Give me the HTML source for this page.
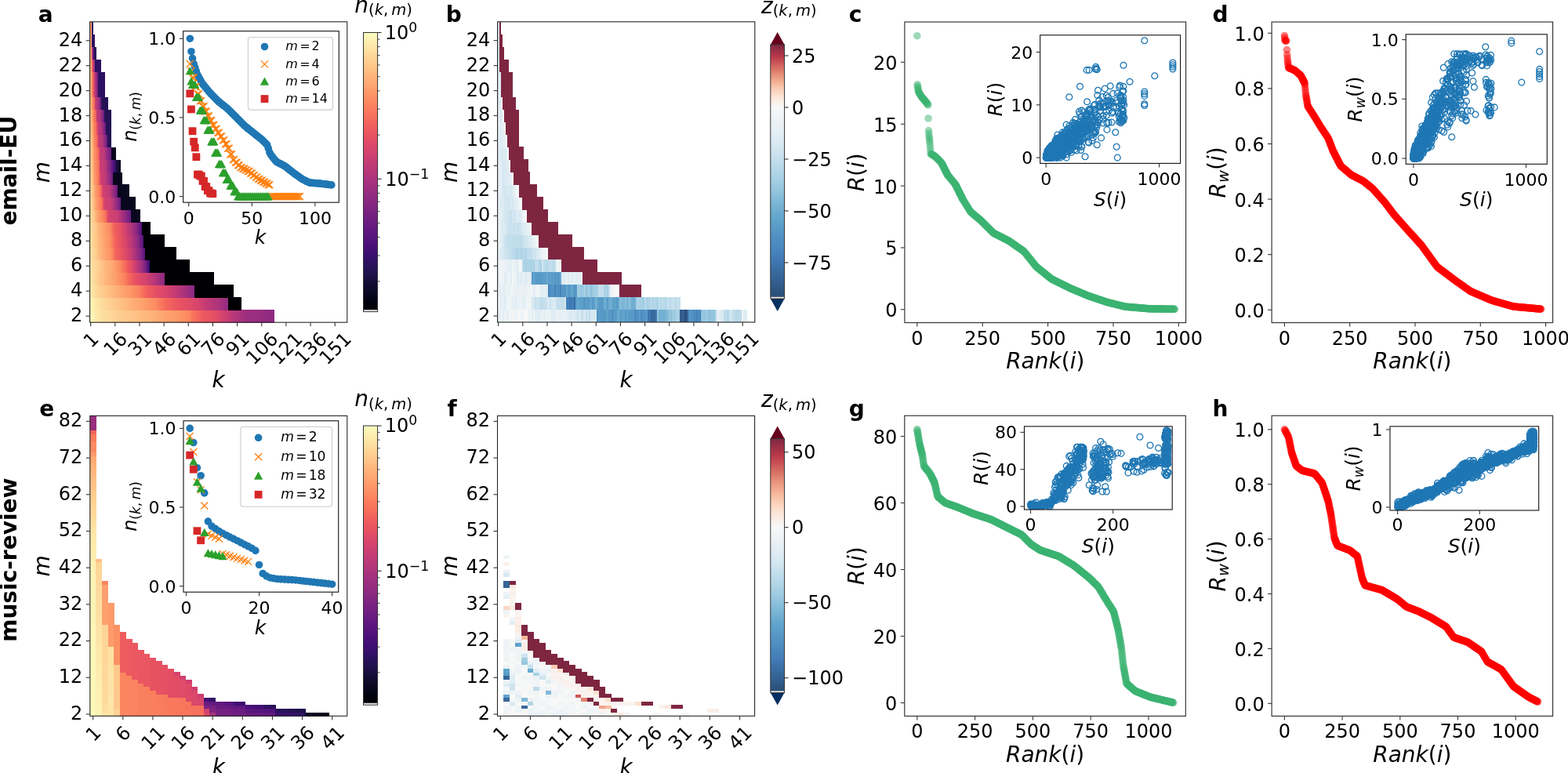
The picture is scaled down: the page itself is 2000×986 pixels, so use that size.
<!DOCTYPE html>
<html><head><meta charset="utf-8"><title>Figure</title>
<style>html,body{margin:0;padding:0;background:#fff;width:2000px;height:986px;overflow:hidden}svg{display:block}text{fill:#000}</style>
</head><body>
<svg width="2000" height="986" viewBox="0 0 2000 986" font-family="'DejaVu Sans', 'Liberation Sans', sans-serif">
<defs><linearGradient id="gma" x1="0" y1="0" x2="0" y2="1"><stop offset="0.0000" stop-color="#fcfdbf"/><stop offset="0.0208" stop-color="#fcf4b6"/><stop offset="0.0417" stop-color="#fdebac"/><stop offset="0.0625" stop-color="#fde2a3"/><stop offset="0.0833" stop-color="#fed799"/><stop offset="0.1042" stop-color="#fecd90"/><stop offset="0.1250" stop-color="#fec488"/><stop offset="0.1458" stop-color="#feb97f"/><stop offset="0.1667" stop-color="#feb078"/><stop offset="0.1875" stop-color="#fea772"/><stop offset="0.2083" stop-color="#fd9b6b"/><stop offset="0.2292" stop-color="#fd9266"/><stop offset="0.2500" stop-color="#fc8961"/><stop offset="0.2708" stop-color="#fa7d5e"/><stop offset="0.2917" stop-color="#f8745c"/><stop offset="0.3125" stop-color="#f56b5c"/><stop offset="0.3333" stop-color="#f1605d"/><stop offset="0.3542" stop-color="#ec5860"/><stop offset="0.3750" stop-color="#e75263"/><stop offset="0.3958" stop-color="#df4a68"/><stop offset="0.4167" stop-color="#d8456c"/><stop offset="0.4375" stop-color="#d0416f"/><stop offset="0.4583" stop-color="#c73d73"/><stop offset="0.4792" stop-color="#bf3a77"/><stop offset="0.5000" stop-color="#b73779"/><stop offset="0.5208" stop-color="#ad347c"/><stop offset="0.5417" stop-color="#a5317e"/><stop offset="0.5625" stop-color="#9c2e7f"/><stop offset="0.5833" stop-color="#932b80"/><stop offset="0.6042" stop-color="#8b2981"/><stop offset="0.6250" stop-color="#832681"/><stop offset="0.6458" stop-color="#792282"/><stop offset="0.6667" stop-color="#721f81"/><stop offset="0.6875" stop-color="#6a1c81"/><stop offset="0.7083" stop-color="#601880"/><stop offset="0.7292" stop-color="#59157e"/><stop offset="0.7500" stop-color="#51127c"/><stop offset="0.7708" stop-color="#471078"/><stop offset="0.7917" stop-color="#3f0f72"/><stop offset="0.8125" stop-color="#36106b"/><stop offset="0.8333" stop-color="#2c115f"/><stop offset="0.8542" stop-color="#241253"/><stop offset="0.8750" stop-color="#1d1147"/><stop offset="0.8958" stop-color="#150e38"/><stop offset="0.9167" stop-color="#100b2d"/><stop offset="0.9375" stop-color="#0a0822"/><stop offset="0.9583" stop-color="#050416"/><stop offset="0.9792" stop-color="#02020b"/><stop offset="1.0000" stop-color="#000004"/></linearGradient><linearGradient id="gb" x1="0" y1="0" x2="0" y2="1"><stop offset="0.0000" stop-color="#7e2641"/><stop offset="0.0167" stop-color="#922d44"/><stop offset="0.0333" stop-color="#a83447"/><stop offset="0.0500" stop-color="#bc3a4b"/><stop offset="0.0667" stop-color="#c84f54"/><stop offset="0.0833" stop-color="#d3655f"/><stop offset="0.1000" stop-color="#dc7868"/><stop offset="0.1167" stop-color="#e58d78"/><stop offset="0.1333" stop-color="#ed9f86"/><stop offset="0.1500" stop-color="#f6b396"/><stop offset="0.1667" stop-color="#f8c4ab"/><stop offset="0.1833" stop-color="#fbd2bd"/><stop offset="0.2000" stop-color="#fde1d1"/><stop offset="0.2167" stop-color="#fbeadf"/><stop offset="0.2333" stop-color="#faf1ec"/><stop offset="0.2500" stop-color="#f8f8f8"/><stop offset="0.2667" stop-color="#f4f6f7"/><stop offset="0.2833" stop-color="#f0f4f7"/><stop offset="0.3000" stop-color="#ecf2f6"/><stop offset="0.3167" stop-color="#eaf1f6"/><stop offset="0.3333" stop-color="#e6f0f5"/><stop offset="0.3500" stop-color="#e2eef4"/><stop offset="0.3667" stop-color="#deecf3"/><stop offset="0.3833" stop-color="#daeaf3"/><stop offset="0.4000" stop-color="#d6e8f2"/><stop offset="0.4167" stop-color="#d0e5f0"/><stop offset="0.4333" stop-color="#cbe3ef"/><stop offset="0.4500" stop-color="#c5dfed"/><stop offset="0.4667" stop-color="#bfdceb"/><stop offset="0.4833" stop-color="#b8d9e9"/><stop offset="0.5000" stop-color="#b2d6e7"/><stop offset="0.5167" stop-color="#acd3e6"/><stop offset="0.5333" stop-color="#a6cfe4"/><stop offset="0.5500" stop-color="#9ecbe2"/><stop offset="0.5667" stop-color="#99c8e0"/><stop offset="0.5833" stop-color="#91c3dd"/><stop offset="0.6000" stop-color="#89beda"/><stop offset="0.6167" stop-color="#81b9d8"/><stop offset="0.6333" stop-color="#7ab4d5"/><stop offset="0.6500" stop-color="#72afd2"/><stop offset="0.6667" stop-color="#6aaad0"/><stop offset="0.6833" stop-color="#64a7ce"/><stop offset="0.7000" stop-color="#5ea2cb"/><stop offset="0.7167" stop-color="#5b9dc9"/><stop offset="0.7333" stop-color="#5799c7"/><stop offset="0.7500" stop-color="#5494c4"/><stop offset="0.7667" stop-color="#5090c2"/><stop offset="0.7833" stop-color="#4d8bc0"/><stop offset="0.8000" stop-color="#4b88be"/><stop offset="0.8167" stop-color="#4784bc"/><stop offset="0.8333" stop-color="#447fba"/><stop offset="0.8500" stop-color="#417ab5"/><stop offset="0.8667" stop-color="#3e75ad"/><stop offset="0.8833" stop-color="#3b6fa6"/><stop offset="0.9000" stop-color="#396a9e"/><stop offset="0.9167" stop-color="#376699"/><stop offset="0.9333" stop-color="#346192"/><stop offset="0.9500" stop-color="#315c8a"/><stop offset="0.9667" stop-color="#2e5683"/><stop offset="0.9833" stop-color="#2b517b"/><stop offset="1.0000" stop-color="#2b4f79"/></linearGradient><linearGradient id="gme" x1="0" y1="0" x2="0" y2="1"><stop offset="0.0000" stop-color="#fcfdbf"/><stop offset="0.0208" stop-color="#fcf4b6"/><stop offset="0.0417" stop-color="#fdebac"/><stop offset="0.0625" stop-color="#fde2a3"/><stop offset="0.0833" stop-color="#fed799"/><stop offset="0.1042" stop-color="#fecd90"/><stop offset="0.1250" stop-color="#fec488"/><stop offset="0.1458" stop-color="#feb97f"/><stop offset="0.1667" stop-color="#feb078"/><stop offset="0.1875" stop-color="#fea772"/><stop offset="0.2083" stop-color="#fd9b6b"/><stop offset="0.2292" stop-color="#fd9266"/><stop offset="0.2500" stop-color="#fc8961"/><stop offset="0.2708" stop-color="#fa7d5e"/><stop offset="0.2917" stop-color="#f8745c"/><stop offset="0.3125" stop-color="#f56b5c"/><stop offset="0.3333" stop-color="#f1605d"/><stop offset="0.3542" stop-color="#ec5860"/><stop offset="0.3750" stop-color="#e75263"/><stop offset="0.3958" stop-color="#df4a68"/><stop offset="0.4167" stop-color="#d8456c"/><stop offset="0.4375" stop-color="#d0416f"/><stop offset="0.4583" stop-color="#c73d73"/><stop offset="0.4792" stop-color="#bf3a77"/><stop offset="0.5000" stop-color="#b73779"/><stop offset="0.5208" stop-color="#ad347c"/><stop offset="0.5417" stop-color="#a5317e"/><stop offset="0.5625" stop-color="#9c2e7f"/><stop offset="0.5833" stop-color="#932b80"/><stop offset="0.6042" stop-color="#8b2981"/><stop offset="0.6250" stop-color="#832681"/><stop offset="0.6458" stop-color="#792282"/><stop offset="0.6667" stop-color="#721f81"/><stop offset="0.6875" stop-color="#6a1c81"/><stop offset="0.7083" stop-color="#601880"/><stop offset="0.7292" stop-color="#59157e"/><stop offset="0.7500" stop-color="#51127c"/><stop offset="0.7708" stop-color="#471078"/><stop offset="0.7917" stop-color="#3f0f72"/><stop offset="0.8125" stop-color="#36106b"/><stop offset="0.8333" stop-color="#2c115f"/><stop offset="0.8542" stop-color="#241253"/><stop offset="0.8750" stop-color="#1d1147"/><stop offset="0.8958" stop-color="#150e38"/><stop offset="0.9167" stop-color="#100b2d"/><stop offset="0.9375" stop-color="#0a0822"/><stop offset="0.9583" stop-color="#050416"/><stop offset="0.9792" stop-color="#02020b"/><stop offset="1.0000" stop-color="#000004"/></linearGradient><linearGradient id="gf" x1="0" y1="0" x2="0" y2="1"><stop offset="0.0000" stop-color="#7e2641"/><stop offset="0.0167" stop-color="#8d2b43"/><stop offset="0.0333" stop-color="#9c3045"/><stop offset="0.0500" stop-color="#ab3548"/><stop offset="0.0667" stop-color="#ba394a"/><stop offset="0.0833" stop-color="#c34550"/><stop offset="0.1000" stop-color="#ca5457"/><stop offset="0.1167" stop-color="#d1625e"/><stop offset="0.1333" stop-color="#d97164"/><stop offset="0.1500" stop-color="#e0816f"/><stop offset="0.1667" stop-color="#e68f79"/><stop offset="0.1833" stop-color="#ec9d84"/><stop offset="0.2000" stop-color="#f2aa8f"/><stop offset="0.2167" stop-color="#f6b79a"/><stop offset="0.2333" stop-color="#f8c2a8"/><stop offset="0.2500" stop-color="#facdb6"/><stop offset="0.2667" stop-color="#fcd7c4"/><stop offset="0.2833" stop-color="#fde1d1"/><stop offset="0.3000" stop-color="#fce7db"/><stop offset="0.3167" stop-color="#faede6"/><stop offset="0.3333" stop-color="#f9f3ef"/><stop offset="0.3500" stop-color="#f8f8f8"/><stop offset="0.3667" stop-color="#f4f6f7"/><stop offset="0.3833" stop-color="#f0f4f7"/><stop offset="0.4000" stop-color="#ecf2f6"/><stop offset="0.4167" stop-color="#e7f0f5"/><stop offset="0.4333" stop-color="#e3eef4"/><stop offset="0.4500" stop-color="#e0ecf4"/><stop offset="0.4667" stop-color="#daeaf3"/><stop offset="0.4833" stop-color="#d6e8f2"/><stop offset="0.5000" stop-color="#d0e5f0"/><stop offset="0.5167" stop-color="#c9e1ee"/><stop offset="0.5333" stop-color="#c1ddec"/><stop offset="0.5500" stop-color="#bbdaea"/><stop offset="0.5667" stop-color="#b4d7e8"/><stop offset="0.5833" stop-color="#aed4e6"/><stop offset="0.6000" stop-color="#a6cfe4"/><stop offset="0.6167" stop-color="#9ecbe2"/><stop offset="0.6333" stop-color="#97c6df"/><stop offset="0.6500" stop-color="#8cc0db"/><stop offset="0.6667" stop-color="#84bbd9"/><stop offset="0.6833" stop-color="#7cb6d6"/><stop offset="0.7000" stop-color="#74b1d3"/><stop offset="0.7167" stop-color="#6aaad0"/><stop offset="0.7333" stop-color="#62a5cd"/><stop offset="0.7500" stop-color="#5da0ca"/><stop offset="0.7667" stop-color="#5a9cc8"/><stop offset="0.7833" stop-color="#5596c5"/><stop offset="0.8000" stop-color="#5291c3"/><stop offset="0.8167" stop-color="#4e8dc1"/><stop offset="0.8333" stop-color="#4a87bd"/><stop offset="0.8500" stop-color="#4682bb"/><stop offset="0.8667" stop-color="#437eb9"/><stop offset="0.8833" stop-color="#4078b2"/><stop offset="0.9000" stop-color="#3c71a8"/><stop offset="0.9167" stop-color="#396ca1"/><stop offset="0.9333" stop-color="#376699"/><stop offset="0.9500" stop-color="#346192"/><stop offset="0.9667" stop-color="#305a88"/><stop offset="0.9833" stop-color="#2d5480"/><stop offset="1.0000" stop-color="#2b4f79"/></linearGradient><marker id="ms3cb371" markerUnits="userSpaceOnUse" markerWidth="1" markerHeight="1" refX="0" refY="0" overflow="visible"><circle r="4.80" fill="#3cb371" fill-opacity="0.5"/></marker><marker id="mring" markerUnits="userSpaceOnUse" markerWidth="1" markerHeight="1" refX="0" refY="0" overflow="visible"><circle r="3.90" fill="none" stroke="#1f77b4" stroke-width="1.3"/></marker><marker id="msff0000" markerUnits="userSpaceOnUse" markerWidth="1" markerHeight="1" refX="0" refY="0" overflow="visible"><circle r="4.80" fill="#ff0000" fill-opacity="0.5"/></marker></defs><rect x="0" y="0" width="2000" height="986" fill="#fff"/>
<g shape-rendering="crispEdges">
<rect x="114.60" y="395.22" width="2.38" height="16.28" fill="#fcfdbf"/>
<rect x="116.68" y="395.22" width="2.38" height="16.28" fill="#fcf6b8"/>
<rect x="118.75" y="395.22" width="2.38" height="16.28" fill="#fcf0b2"/>
<rect x="120.83" y="395.22" width="2.38" height="16.28" fill="#fdebac"/>
<rect x="122.91" y="395.22" width="2.38" height="16.28" fill="#fde9aa"/>
<rect x="124.99" y="395.22" width="2.38" height="16.28" fill="#fde5a7"/>
<rect x="127.06" y="395.22" width="2.38" height="16.28" fill="#fde2a3"/>
<rect x="129.14" y="395.22" width="2.38" height="16.28" fill="#fde0a1"/>
<rect x="131.22" y="395.22" width="2.38" height="16.28" fill="#fddea0"/>
<rect x="133.29" y="395.22" width="2.38" height="16.28" fill="#fddc9e"/>
<rect x="135.37" y="395.22" width="2.38" height="16.28" fill="#fdda9c"/>
<rect x="137.45" y="395.22" width="2.38" height="16.28" fill="#fed89a"/>
<rect x="139.53" y="395.22" width="2.38" height="16.28" fill="#fed799"/>
<rect x="141.60" y="395.22" width="2.38" height="16.28" fill="#fed597"/>
<rect x="143.68" y="395.22" width="4.45" height="16.28" fill="#fed395"/>
<rect x="147.84" y="395.22" width="2.38" height="16.28" fill="#fed194"/>
<rect x="149.91" y="395.22" width="2.38" height="16.28" fill="#fecf92"/>
<rect x="151.99" y="395.22" width="4.45" height="16.28" fill="#fecd90"/>
<rect x="156.14" y="395.22" width="2.38" height="16.28" fill="#fecc8f"/>
<rect x="158.22" y="395.22" width="2.38" height="16.28" fill="#feca8d"/>
<rect x="160.30" y="395.22" width="4.45" height="16.28" fill="#fec88c"/>
<rect x="164.45" y="395.22" width="2.38" height="16.28" fill="#fec68a"/>
<rect x="166.53" y="395.22" width="4.45" height="16.28" fill="#fec488"/>
<rect x="170.68" y="395.22" width="2.38" height="16.28" fill="#fec287"/>
<rect x="172.76" y="395.22" width="4.45" height="16.28" fill="#fec185"/>
<rect x="176.92" y="395.22" width="2.38" height="16.28" fill="#febf84"/>
<rect x="178.99" y="395.22" width="2.38" height="16.28" fill="#febd82"/>
<rect x="181.07" y="395.22" width="2.38" height="16.28" fill="#febb81"/>
<rect x="183.15" y="395.22" width="4.45" height="16.28" fill="#feb97f"/>
<rect x="187.30" y="395.22" width="2.38" height="16.28" fill="#feb77e"/>
<rect x="189.38" y="395.22" width="2.38" height="16.28" fill="#feb67c"/>
<rect x="191.46" y="395.22" width="2.38" height="16.28" fill="#feb47b"/>
<rect x="193.53" y="395.22" width="2.38" height="16.28" fill="#feb27a"/>
<rect x="195.61" y="395.22" width="2.38" height="16.28" fill="#feb078"/>
<rect x="197.69" y="395.22" width="2.38" height="16.28" fill="#feae77"/>
<rect x="199.77" y="395.22" width="2.38" height="16.28" fill="#feac76"/>
<rect x="201.84" y="395.22" width="2.38" height="16.28" fill="#feaa74"/>
<rect x="203.92" y="395.22" width="2.38" height="16.28" fill="#fea973"/>
<rect x="206.00" y="395.22" width="2.38" height="16.28" fill="#fea772"/>
<rect x="208.07" y="395.22" width="2.38" height="16.28" fill="#fea571"/>
<rect x="210.15" y="395.22" width="2.38" height="16.28" fill="#fea36f"/>
<rect x="212.23" y="395.22" width="2.38" height="16.28" fill="#fea16e"/>
<rect x="214.31" y="395.22" width="4.45" height="16.28" fill="#fe9f6d"/>
<rect x="218.46" y="395.22" width="2.38" height="16.28" fill="#fe9d6c"/>
<rect x="220.54" y="395.22" width="2.38" height="16.28" fill="#fd9b6b"/>
<rect x="222.62" y="395.22" width="2.38" height="16.28" fill="#fd9a6a"/>
<rect x="224.69" y="395.22" width="2.38" height="16.28" fill="#fd9869"/>
<rect x="226.77" y="395.22" width="2.38" height="16.28" fill="#fd9668"/>
<rect x="228.85" y="395.22" width="2.38" height="16.28" fill="#fd9467"/>
<rect x="230.92" y="395.22" width="2.38" height="16.28" fill="#fd9266"/>
<rect x="233.00" y="395.22" width="2.38" height="16.28" fill="#fc9065"/>
<rect x="235.08" y="395.22" width="2.38" height="16.28" fill="#fc8e64"/>
<rect x="237.16" y="395.22" width="2.38" height="16.28" fill="#fc8a62"/>
<rect x="239.23" y="395.22" width="2.38" height="16.28" fill="#fc8961"/>
<rect x="241.31" y="395.22" width="2.38" height="16.28" fill="#fb8560"/>
<rect x="243.39" y="395.22" width="2.38" height="16.28" fill="#fa7d5e"/>
<rect x="245.46" y="395.22" width="2.38" height="16.28" fill="#f8745c"/>
<rect x="247.54" y="395.22" width="2.38" height="16.28" fill="#f66e5c"/>
<rect x="249.62" y="395.22" width="2.38" height="16.28" fill="#f4695c"/>
<rect x="251.70" y="395.22" width="2.38" height="16.28" fill="#f3655c"/>
<rect x="253.77" y="395.22" width="2.38" height="16.28" fill="#f2625d"/>
<rect x="255.85" y="395.22" width="2.38" height="16.28" fill="#ef5d5e"/>
<rect x="257.93" y="395.22" width="2.38" height="16.28" fill="#ed5a5f"/>
<rect x="260.01" y="395.22" width="2.38" height="16.28" fill="#ec5860"/>
<rect x="262.08" y="395.22" width="2.38" height="16.28" fill="#eb5760"/>
<rect x="264.16" y="395.22" width="2.38" height="16.28" fill="#ea5661"/>
<rect x="266.24" y="395.22" width="2.38" height="16.28" fill="#e95462"/>
<rect x="268.31" y="395.22" width="2.38" height="16.28" fill="#e85362"/>
<rect x="270.39" y="395.22" width="2.38" height="16.28" fill="#e55064"/>
<rect x="272.47" y="395.22" width="2.38" height="16.28" fill="#e44f64"/>
<rect x="274.55" y="395.22" width="2.38" height="16.28" fill="#e24d66"/>
<rect x="276.62" y="395.22" width="2.38" height="16.28" fill="#df4a68"/>
<rect x="278.70" y="395.22" width="2.38" height="16.28" fill="#db476a"/>
<rect x="280.78" y="395.22" width="2.38" height="16.28" fill="#d8456c"/>
<rect x="282.85" y="395.22" width="2.38" height="16.28" fill="#d5446d"/>
<rect x="284.93" y="395.22" width="2.38" height="16.28" fill="#d0416f"/>
<rect x="287.01" y="395.22" width="2.38" height="16.28" fill="#cd4071"/>
<rect x="289.09" y="395.22" width="2.38" height="16.28" fill="#ca3e72"/>
<rect x="291.16" y="395.22" width="2.38" height="16.28" fill="#c53c74"/>
<rect x="293.24" y="395.22" width="2.38" height="16.28" fill="#c23b75"/>
<rect x="295.32" y="395.22" width="2.38" height="16.28" fill="#bd3977"/>
<rect x="297.39" y="395.22" width="2.38" height="16.28" fill="#b83779"/>
<rect x="299.47" y="395.22" width="2.38" height="16.28" fill="#b3367a"/>
<rect x="301.55" y="395.22" width="2.38" height="16.28" fill="#b0357b"/>
<rect x="303.63" y="395.22" width="2.38" height="16.28" fill="#ad347c"/>
<rect x="305.70" y="395.22" width="2.38" height="16.28" fill="#aa337d"/>
<rect x="307.78" y="395.22" width="2.38" height="16.28" fill="#a5317e"/>
<rect x="309.86" y="395.22" width="2.38" height="16.28" fill="#a1307e"/>
<rect x="311.94" y="395.22" width="2.38" height="16.28" fill="#9e2f7f"/>
<rect x="314.01" y="395.22" width="6.53" height="16.28" fill="#9c2e7f"/>
<rect x="320.24" y="395.22" width="4.45" height="16.28" fill="#9b2e7f"/>
<rect x="324.40" y="395.22" width="6.53" height="16.28" fill="#992d80"/>
<rect x="330.63" y="395.22" width="2.38" height="16.28" fill="#982d80"/>
<rect x="332.71" y="395.22" width="2.38" height="16.28" fill="#962c80"/>
<rect x="334.78" y="395.22" width="4.45" height="16.28" fill="#942c80"/>
<rect x="338.94" y="395.22" width="2.38" height="16.28" fill="#932b80"/>
<rect x="341.02" y="395.22" width="2.38" height="16.28" fill="#912b81"/>
<rect x="343.09" y="395.22" width="4.45" height="16.28" fill="#902a81"/>
<rect x="347.25" y="395.22" width="2.38" height="16.28" fill="#8e2a81"/>
<rect x="114.60" y="379.25" width="2.38" height="16.27" fill="#fcf6b8"/>
<rect x="116.68" y="379.25" width="2.38" height="16.27" fill="#fcf0b2"/>
<rect x="118.75" y="379.25" width="2.38" height="16.27" fill="#fcecae"/>
<rect x="120.83" y="379.25" width="2.38" height="16.27" fill="#fde9aa"/>
<rect x="122.91" y="379.25" width="2.38" height="16.27" fill="#fde5a7"/>
<rect x="124.99" y="379.25" width="2.38" height="16.27" fill="#fde2a3"/>
<rect x="127.06" y="379.25" width="2.38" height="16.27" fill="#fddea0"/>
<rect x="129.14" y="379.25" width="2.38" height="16.27" fill="#fddc9e"/>
<rect x="131.22" y="379.25" width="2.38" height="16.27" fill="#fdda9c"/>
<rect x="133.29" y="379.25" width="2.38" height="16.27" fill="#fed799"/>
<rect x="135.37" y="379.25" width="2.38" height="16.27" fill="#fed597"/>
<rect x="137.45" y="379.25" width="2.38" height="16.27" fill="#fed194"/>
<rect x="139.53" y="379.25" width="2.38" height="16.27" fill="#fecf92"/>
<rect x="141.60" y="379.25" width="2.38" height="16.27" fill="#fecd90"/>
<rect x="143.68" y="379.25" width="2.38" height="16.27" fill="#feca8d"/>
<rect x="145.76" y="379.25" width="2.38" height="16.27" fill="#fec88c"/>
<rect x="147.84" y="379.25" width="2.38" height="16.27" fill="#fec68a"/>
<rect x="149.91" y="379.25" width="2.38" height="16.27" fill="#fec488"/>
<rect x="151.99" y="379.25" width="2.38" height="16.27" fill="#fec287"/>
<rect x="154.07" y="379.25" width="2.38" height="16.27" fill="#febf84"/>
<rect x="156.14" y="379.25" width="2.38" height="16.27" fill="#febd82"/>
<rect x="158.22" y="379.25" width="2.38" height="16.27" fill="#febb81"/>
<rect x="160.30" y="379.25" width="2.38" height="16.27" fill="#feb97f"/>
<rect x="162.38" y="379.25" width="2.38" height="16.27" fill="#feb67c"/>
<rect x="164.45" y="379.25" width="2.38" height="16.27" fill="#feb47b"/>
<rect x="166.53" y="379.25" width="2.38" height="16.27" fill="#feb27a"/>
<rect x="168.61" y="379.25" width="2.38" height="16.27" fill="#feae77"/>
<rect x="170.68" y="379.25" width="2.38" height="16.27" fill="#feac76"/>
<rect x="172.76" y="379.25" width="2.38" height="16.27" fill="#feaa74"/>
<rect x="174.84" y="379.25" width="2.38" height="16.27" fill="#fea973"/>
<rect x="176.92" y="379.25" width="2.38" height="16.27" fill="#fea772"/>
<rect x="178.99" y="379.25" width="2.38" height="16.27" fill="#fea36f"/>
<rect x="181.07" y="379.25" width="2.38" height="16.27" fill="#fea16e"/>
<rect x="183.15" y="379.25" width="2.38" height="16.27" fill="#fe9f6d"/>
<rect x="185.23" y="379.25" width="2.38" height="16.27" fill="#fd9b6b"/>
<rect x="187.30" y="379.25" width="2.38" height="16.27" fill="#fd9a6a"/>
<rect x="189.38" y="379.25" width="2.38" height="16.27" fill="#fd9668"/>
<rect x="191.46" y="379.25" width="2.38" height="16.27" fill="#fd9467"/>
<rect x="193.53" y="379.25" width="2.38" height="16.27" fill="#fc9065"/>
<rect x="195.61" y="379.25" width="2.38" height="16.27" fill="#fc8e64"/>
<rect x="197.69" y="379.25" width="2.38" height="16.27" fill="#fc8a62"/>
<rect x="199.77" y="379.25" width="2.38" height="16.27" fill="#fb8560"/>
<rect x="201.84" y="379.25" width="2.38" height="16.27" fill="#fa7f5e"/>
<rect x="203.92" y="379.25" width="2.38" height="16.27" fill="#f9795d"/>
<rect x="206.00" y="379.25" width="2.38" height="16.27" fill="#f8745c"/>
<rect x="208.07" y="379.25" width="2.38" height="16.27" fill="#f66e5c"/>
<rect x="210.15" y="379.25" width="2.38" height="16.27" fill="#f56b5c"/>
<rect x="212.23" y="379.25" width="2.38" height="16.27" fill="#f4675c"/>
<rect x="214.31" y="379.25" width="2.38" height="16.27" fill="#f2645c"/>
<rect x="216.38" y="379.25" width="2.38" height="16.27" fill="#f2625d"/>
<rect x="218.46" y="379.25" width="2.38" height="16.27" fill="#f05f5e"/>
<rect x="220.54" y="379.25" width="2.38" height="16.27" fill="#ee5b5e"/>
<rect x="222.62" y="379.25" width="2.38" height="16.27" fill="#ec5860"/>
<rect x="224.69" y="379.25" width="2.38" height="16.27" fill="#ea5661"/>
<rect x="226.77" y="379.25" width="2.38" height="16.27" fill="#e95462"/>
<rect x="228.85" y="379.25" width="2.38" height="16.27" fill="#e85362"/>
<rect x="230.92" y="379.25" width="2.38" height="16.27" fill="#e75263"/>
<rect x="233.00" y="379.25" width="2.38" height="16.27" fill="#e55064"/>
<rect x="235.08" y="379.25" width="2.38" height="16.27" fill="#e44f64"/>
<rect x="237.16" y="379.25" width="2.38" height="16.27" fill="#e34e65"/>
<rect x="239.23" y="379.25" width="2.38" height="16.27" fill="#e24d66"/>
<rect x="241.31" y="379.25" width="2.38" height="16.27" fill="#e04c67"/>
<rect x="243.39" y="379.25" width="2.38" height="16.27" fill="#df4a68"/>
<rect x="245.46" y="379.25" width="2.38" height="16.27" fill="#dc4869"/>
<rect x="247.54" y="379.25" width="2.38" height="16.27" fill="#d9466b"/>
<rect x="249.62" y="379.25" width="2.38" height="16.27" fill="#d6456c"/>
<rect x="251.70" y="379.25" width="2.38" height="16.27" fill="#d5446d"/>
<rect x="253.77" y="379.25" width="2.38" height="16.27" fill="#d2426f"/>
<rect x="255.85" y="379.25" width="2.38" height="16.27" fill="#cf4070"/>
<rect x="257.93" y="379.25" width="2.38" height="16.27" fill="#ca3e72"/>
<rect x="260.01" y="379.25" width="2.38" height="16.27" fill="#c73d73"/>
<rect x="262.08" y="379.25" width="2.38" height="16.27" fill="#c43c75"/>
<rect x="264.16" y="379.25" width="2.38" height="16.27" fill="#c03a76"/>
<rect x="266.24" y="379.25" width="2.38" height="16.27" fill="#bd3977"/>
<rect x="268.31" y="379.25" width="2.38" height="16.27" fill="#ba3878"/>
<rect x="270.39" y="379.25" width="2.38" height="16.27" fill="#b73779"/>
<rect x="272.47" y="379.25" width="2.38" height="16.27" fill="#b3367a"/>
<rect x="274.55" y="379.25" width="2.38" height="16.27" fill="#b0357b"/>
<rect x="276.62" y="379.25" width="2.38" height="16.27" fill="#ad347c"/>
<rect x="278.70" y="379.25" width="2.38" height="16.27" fill="#aa337d"/>
<rect x="280.78" y="379.25" width="2.38" height="16.27" fill="#a5317e"/>
<rect x="282.85" y="379.25" width="2.38" height="16.27" fill="#a1307e"/>
<rect x="284.93" y="379.25" width="2.38" height="16.27" fill="#9c2e7f"/>
<rect x="287.01" y="379.25" width="2.38" height="16.27" fill="#992d80"/>
<rect x="289.09" y="379.25" width="2.38" height="16.27" fill="#962c80"/>
<rect x="291.16" y="379.25" width="16.92" height="16.27" fill="#000004"/>
<rect x="114.60" y="363.27" width="2.38" height="16.28" fill="#fdebac"/>
<rect x="116.68" y="363.27" width="2.38" height="16.28" fill="#fde5a7"/>
<rect x="118.75" y="363.27" width="2.38" height="16.28" fill="#fde0a1"/>
<rect x="120.83" y="363.27" width="2.38" height="16.28" fill="#fddc9e"/>
<rect x="122.91" y="363.27" width="2.38" height="16.28" fill="#fed799"/>
<rect x="124.99" y="363.27" width="2.38" height="16.28" fill="#fed395"/>
<rect x="127.06" y="363.27" width="2.38" height="16.28" fill="#fecf92"/>
<rect x="129.14" y="363.27" width="2.38" height="16.28" fill="#fecc8f"/>
<rect x="131.22" y="363.27" width="2.38" height="16.28" fill="#feca8d"/>
<rect x="133.29" y="363.27" width="2.38" height="16.28" fill="#fec68a"/>
<rect x="135.37" y="363.27" width="2.38" height="16.28" fill="#fec287"/>
<rect x="137.45" y="363.27" width="2.38" height="16.28" fill="#febf84"/>
<rect x="139.53" y="363.27" width="2.38" height="16.28" fill="#febd82"/>
<rect x="141.60" y="363.27" width="2.38" height="16.28" fill="#feb97f"/>
<rect x="143.68" y="363.27" width="2.38" height="16.28" fill="#feb77e"/>
<rect x="145.76" y="363.27" width="2.38" height="16.28" fill="#feb47b"/>
<rect x="147.84" y="363.27" width="2.38" height="16.28" fill="#feb078"/>
<rect x="149.91" y="363.27" width="2.38" height="16.28" fill="#feae77"/>
<rect x="151.99" y="363.27" width="2.38" height="16.28" fill="#feaa74"/>
<rect x="154.07" y="363.27" width="2.38" height="16.28" fill="#fea772"/>
<rect x="156.14" y="363.27" width="2.38" height="16.28" fill="#fea36f"/>
<rect x="158.22" y="363.27" width="2.38" height="16.28" fill="#fea16e"/>
<rect x="160.30" y="363.27" width="2.38" height="16.28" fill="#fe9d6c"/>
<rect x="162.38" y="363.27" width="2.38" height="16.28" fill="#fd9b6b"/>
<rect x="164.45" y="363.27" width="2.38" height="16.28" fill="#fd9869"/>
<rect x="166.53" y="363.27" width="2.38" height="16.28" fill="#fd9467"/>
<rect x="168.61" y="363.27" width="2.38" height="16.28" fill="#fc9065"/>
<rect x="170.68" y="363.27" width="2.38" height="16.28" fill="#fc8c63"/>
<rect x="172.76" y="363.27" width="2.38" height="16.28" fill="#fc8961"/>
<rect x="174.84" y="363.27" width="2.38" height="16.28" fill="#fb8560"/>
<rect x="176.92" y="363.27" width="2.38" height="16.28" fill="#fa815f"/>
<rect x="178.99" y="363.27" width="2.38" height="16.28" fill="#f9795d"/>
<rect x="181.07" y="363.27" width="2.38" height="16.28" fill="#f7725c"/>
<rect x="183.15" y="363.27" width="2.38" height="16.28" fill="#f56b5c"/>
<rect x="185.23" y="363.27" width="2.38" height="16.28" fill="#f2645c"/>
<rect x="187.30" y="363.27" width="2.38" height="16.28" fill="#f1605d"/>
<rect x="189.38" y="363.27" width="2.38" height="16.28" fill="#ee5b5e"/>
<rect x="191.46" y="363.27" width="2.38" height="16.28" fill="#ec5860"/>
<rect x="193.53" y="363.27" width="2.38" height="16.28" fill="#e95462"/>
<rect x="195.61" y="363.27" width="2.38" height="16.28" fill="#e75263"/>
<rect x="197.69" y="363.27" width="2.38" height="16.28" fill="#e34e65"/>
<rect x="199.77" y="363.27" width="2.38" height="16.28" fill="#e24d66"/>
<rect x="201.84" y="363.27" width="2.38" height="16.28" fill="#e04c67"/>
<rect x="203.92" y="363.27" width="2.38" height="16.28" fill="#df4a68"/>
<rect x="206.00" y="363.27" width="2.38" height="16.28" fill="#dc4869"/>
<rect x="208.07" y="363.27" width="2.38" height="16.28" fill="#db476a"/>
<rect x="210.15" y="363.27" width="2.38" height="16.28" fill="#d8456c"/>
<rect x="212.23" y="363.27" width="2.38" height="16.28" fill="#d6456c"/>
<rect x="214.31" y="363.27" width="2.38" height="16.28" fill="#d2426f"/>
<rect x="216.38" y="363.27" width="2.38" height="16.28" fill="#cf4070"/>
<rect x="218.46" y="363.27" width="2.38" height="16.28" fill="#ca3e72"/>
<rect x="220.54" y="363.27" width="2.38" height="16.28" fill="#c73d73"/>
<rect x="222.62" y="363.27" width="2.38" height="16.28" fill="#c23b75"/>
<rect x="224.69" y="363.27" width="2.38" height="16.28" fill="#bd3977"/>
<rect x="226.77" y="363.27" width="2.38" height="16.28" fill="#b83779"/>
<rect x="228.85" y="363.27" width="2.38" height="16.28" fill="#b5367a"/>
<rect x="230.92" y="363.27" width="2.38" height="16.28" fill="#b0357b"/>
<rect x="233.00" y="363.27" width="2.38" height="16.28" fill="#ab337c"/>
<rect x="235.08" y="363.27" width="2.38" height="16.28" fill="#a8327d"/>
<rect x="237.16" y="363.27" width="2.38" height="16.28" fill="#a3307e"/>
<rect x="239.23" y="363.27" width="2.38" height="16.28" fill="#9e2f7f"/>
<rect x="241.31" y="363.27" width="2.38" height="16.28" fill="#992d80"/>
<rect x="243.39" y="363.27" width="2.38" height="16.28" fill="#932b80"/>
<rect x="245.46" y="363.27" width="2.38" height="16.28" fill="#8e2a81"/>
<rect x="247.54" y="363.27" width="50.15" height="16.28" fill="#000004"/>
<rect x="114.60" y="347.30" width="2.38" height="16.27" fill="#fde9aa"/>
<rect x="116.68" y="347.30" width="2.38" height="16.27" fill="#fde0a1"/>
<rect x="118.75" y="347.30" width="2.38" height="16.27" fill="#fdda9c"/>
<rect x="120.83" y="347.30" width="2.38" height="16.27" fill="#fed597"/>
<rect x="122.91" y="347.30" width="2.38" height="16.27" fill="#fecf92"/>
<rect x="124.99" y="347.30" width="2.38" height="16.27" fill="#feca8d"/>
<rect x="127.06" y="347.30" width="2.38" height="16.27" fill="#fec488"/>
<rect x="129.14" y="347.30" width="2.38" height="16.27" fill="#fec185"/>
<rect x="131.22" y="347.30" width="2.38" height="16.27" fill="#febd82"/>
<rect x="133.29" y="347.30" width="2.38" height="16.27" fill="#feb97f"/>
<rect x="135.37" y="347.30" width="2.38" height="16.27" fill="#feb47b"/>
<rect x="137.45" y="347.30" width="2.38" height="16.27" fill="#feb078"/>
<rect x="139.53" y="347.30" width="2.38" height="16.27" fill="#feac76"/>
<rect x="141.60" y="347.30" width="2.38" height="16.27" fill="#fea772"/>
<rect x="143.68" y="347.30" width="2.38" height="16.27" fill="#fea36f"/>
<rect x="145.76" y="347.30" width="2.38" height="16.27" fill="#fe9f6d"/>
<rect x="147.84" y="347.30" width="2.38" height="16.27" fill="#fd9a6a"/>
<rect x="149.91" y="347.30" width="2.38" height="16.27" fill="#fd9668"/>
<rect x="151.99" y="347.30" width="2.38" height="16.27" fill="#fc9065"/>
<rect x="154.07" y="347.30" width="2.38" height="16.27" fill="#fc8c63"/>
<rect x="156.14" y="347.30" width="2.38" height="16.27" fill="#fb8761"/>
<rect x="158.22" y="347.30" width="2.38" height="16.27" fill="#fa815f"/>
<rect x="160.30" y="347.30" width="2.38" height="16.27" fill="#f9795d"/>
<rect x="162.38" y="347.30" width="2.38" height="16.27" fill="#f7705c"/>
<rect x="164.45" y="347.30" width="2.38" height="16.27" fill="#f3655c"/>
<rect x="166.53" y="347.30" width="2.38" height="16.27" fill="#f05f5e"/>
<rect x="168.61" y="347.30" width="2.38" height="16.27" fill="#ed5a5f"/>
<rect x="170.68" y="347.30" width="2.38" height="16.27" fill="#e95462"/>
<rect x="172.76" y="347.30" width="2.38" height="16.27" fill="#e55064"/>
<rect x="174.84" y="347.30" width="2.38" height="16.27" fill="#e24d66"/>
<rect x="176.92" y="347.30" width="2.38" height="16.27" fill="#df4a68"/>
<rect x="178.99" y="347.30" width="2.38" height="16.27" fill="#dc4869"/>
<rect x="181.07" y="347.30" width="2.38" height="16.27" fill="#d9466b"/>
<rect x="183.15" y="347.30" width="2.38" height="16.27" fill="#d6456c"/>
<rect x="185.23" y="347.30" width="2.38" height="16.27" fill="#d3436e"/>
<rect x="187.30" y="347.30" width="2.38" height="16.27" fill="#cd4071"/>
<rect x="189.38" y="347.30" width="2.38" height="16.27" fill="#c83e73"/>
<rect x="191.46" y="347.30" width="2.38" height="16.27" fill="#c23b75"/>
<rect x="193.53" y="347.30" width="2.38" height="16.27" fill="#bc3978"/>
<rect x="195.61" y="347.30" width="2.38" height="16.27" fill="#b5367a"/>
<rect x="197.69" y="347.30" width="2.38" height="16.27" fill="#b0357b"/>
<rect x="199.77" y="347.30" width="2.38" height="16.27" fill="#aa337d"/>
<rect x="201.84" y="347.30" width="2.38" height="16.27" fill="#a3307e"/>
<rect x="203.92" y="347.30" width="2.38" height="16.27" fill="#9c2e7f"/>
<rect x="206.00" y="347.30" width="2.38" height="16.27" fill="#942c80"/>
<rect x="208.07" y="347.30" width="2.38" height="16.27" fill="#8e2a81"/>
<rect x="210.15" y="347.30" width="62.62" height="16.27" fill="#000004"/>
<rect x="114.60" y="331.32" width="2.38" height="16.28" fill="#fde5a7"/>
<rect x="116.68" y="331.32" width="2.38" height="16.28" fill="#fddc9e"/>
<rect x="118.75" y="331.32" width="2.38" height="16.28" fill="#fed89a"/>
<rect x="120.83" y="331.32" width="2.38" height="16.28" fill="#fed799"/>
<rect x="122.91" y="331.32" width="2.38" height="16.28" fill="#fed194"/>
<rect x="124.99" y="331.32" width="2.38" height="16.28" fill="#fecd90"/>
<rect x="127.06" y="331.32" width="2.38" height="16.28" fill="#fec88c"/>
<rect x="129.14" y="331.32" width="2.38" height="16.28" fill="#fec287"/>
<rect x="131.22" y="331.32" width="2.38" height="16.28" fill="#febf84"/>
<rect x="133.29" y="331.32" width="2.38" height="16.28" fill="#feb97f"/>
<rect x="135.37" y="331.32" width="2.38" height="16.28" fill="#feb67c"/>
<rect x="137.45" y="331.32" width="2.38" height="16.28" fill="#feb27a"/>
<rect x="139.53" y="331.32" width="2.38" height="16.28" fill="#feac76"/>
<rect x="141.60" y="331.32" width="2.38" height="16.28" fill="#fea973"/>
<rect x="143.68" y="331.32" width="2.38" height="16.28" fill="#fea36f"/>
<rect x="145.76" y="331.32" width="2.38" height="16.28" fill="#fe9d6c"/>
<rect x="147.84" y="331.32" width="2.38" height="16.28" fill="#fd9668"/>
<rect x="149.91" y="331.32" width="2.38" height="16.28" fill="#fc9065"/>
<rect x="151.99" y="331.32" width="2.38" height="16.28" fill="#fc8961"/>
<rect x="154.07" y="331.32" width="2.38" height="16.28" fill="#fa815f"/>
<rect x="156.14" y="331.32" width="2.38" height="16.28" fill="#f9785d"/>
<rect x="158.22" y="331.32" width="2.38" height="16.28" fill="#f66e5c"/>
<rect x="160.30" y="331.32" width="2.38" height="16.28" fill="#f3655c"/>
<rect x="162.38" y="331.32" width="2.38" height="16.28" fill="#ed5a5f"/>
<rect x="164.45" y="331.32" width="2.38" height="16.28" fill="#e85362"/>
<rect x="166.53" y="331.32" width="2.38" height="16.28" fill="#e24d66"/>
<rect x="168.61" y="331.32" width="2.38" height="16.28" fill="#d9466b"/>
<rect x="170.68" y="331.32" width="2.38" height="16.28" fill="#cf4070"/>
<rect x="172.76" y="331.32" width="2.38" height="16.28" fill="#c43c75"/>
<rect x="174.84" y="331.32" width="2.38" height="16.28" fill="#ba3878"/>
<rect x="176.92" y="331.32" width="2.38" height="16.28" fill="#ae347b"/>
<rect x="178.99" y="331.32" width="2.38" height="16.28" fill="#a3307e"/>
<rect x="181.07" y="331.32" width="2.38" height="16.28" fill="#942c80"/>
<rect x="183.15" y="331.32" width="2.38" height="16.28" fill="#842681"/>
<rect x="185.23" y="331.32" width="2.38" height="16.28" fill="#732081"/>
<rect x="187.30" y="331.32" width="2.38" height="16.28" fill="#5c167f"/>
<rect x="189.38" y="331.32" width="2.38" height="16.28" fill="#3d0f71"/>
<rect x="191.46" y="331.32" width="50.15" height="16.28" fill="#000004"/>
<rect x="114.60" y="315.35" width="2.38" height="16.27" fill="#fde2a3"/>
<rect x="116.68" y="315.35" width="2.38" height="16.27" fill="#fdda9c"/>
<rect x="118.75" y="315.35" width="2.38" height="16.27" fill="#fed597"/>
<rect x="120.83" y="315.35" width="2.38" height="16.27" fill="#fecd90"/>
<rect x="122.91" y="315.35" width="2.38" height="16.27" fill="#fec68a"/>
<rect x="124.99" y="315.35" width="2.38" height="16.27" fill="#febd82"/>
<rect x="127.06" y="315.35" width="2.38" height="16.27" fill="#feb67c"/>
<rect x="129.14" y="315.35" width="2.38" height="16.27" fill="#feb078"/>
<rect x="131.22" y="315.35" width="2.38" height="16.27" fill="#fea973"/>
<rect x="133.29" y="315.35" width="2.38" height="16.27" fill="#fea571"/>
<rect x="135.37" y="315.35" width="2.38" height="16.27" fill="#fe9f6d"/>
<rect x="137.45" y="315.35" width="2.38" height="16.27" fill="#fd9a6a"/>
<rect x="139.53" y="315.35" width="2.38" height="16.27" fill="#fd9266"/>
<rect x="141.60" y="315.35" width="2.38" height="16.27" fill="#fc8961"/>
<rect x="143.68" y="315.35" width="2.38" height="16.27" fill="#f9795d"/>
<rect x="145.76" y="315.35" width="2.38" height="16.27" fill="#f4675c"/>
<rect x="147.84" y="315.35" width="2.38" height="16.27" fill="#f2625d"/>
<rect x="149.91" y="315.35" width="2.38" height="16.27" fill="#ef5d5e"/>
<rect x="151.99" y="315.35" width="2.38" height="16.27" fill="#ed5a5f"/>
<rect x="154.07" y="315.35" width="2.38" height="16.27" fill="#e95462"/>
<rect x="156.14" y="315.35" width="2.38" height="16.27" fill="#e55064"/>
<rect x="158.22" y="315.35" width="2.38" height="16.27" fill="#e04c67"/>
<rect x="160.30" y="315.35" width="2.38" height="16.27" fill="#dc4869"/>
<rect x="162.38" y="315.35" width="2.38" height="16.27" fill="#d5446d"/>
<rect x="164.45" y="315.35" width="2.38" height="16.27" fill="#cc3f71"/>
<rect x="166.53" y="315.35" width="2.38" height="16.27" fill="#c23b75"/>
<rect x="168.61" y="315.35" width="2.38" height="16.27" fill="#b83779"/>
<rect x="170.68" y="315.35" width="2.38" height="16.27" fill="#ae347b"/>
<rect x="172.76" y="315.35" width="2.38" height="16.27" fill="#a3307e"/>
<rect x="174.84" y="315.35" width="2.38" height="16.27" fill="#982d80"/>
<rect x="176.92" y="315.35" width="2.38" height="16.27" fill="#8c2981"/>
<rect x="178.99" y="315.35" width="2.38" height="16.27" fill="#7e2482"/>
<rect x="181.07" y="315.35" width="2.38" height="16.27" fill="#6d1d81"/>
<rect x="183.15" y="315.35" width="2.38" height="16.27" fill="#59157e"/>
<rect x="185.23" y="315.35" width="39.77" height="16.27" fill="#000004"/>
<rect x="114.60" y="299.38" width="2.38" height="16.28" fill="#fde0a1"/>
<rect x="116.68" y="299.38" width="2.38" height="16.28" fill="#fed799"/>
<rect x="118.75" y="299.38" width="2.38" height="16.28" fill="#fed194"/>
<rect x="120.83" y="299.38" width="2.38" height="16.28" fill="#feca8d"/>
<rect x="122.91" y="299.38" width="2.38" height="16.28" fill="#fec287"/>
<rect x="124.99" y="299.38" width="2.38" height="16.28" fill="#feb97f"/>
<rect x="127.06" y="299.38" width="2.38" height="16.28" fill="#feb27a"/>
<rect x="129.14" y="299.38" width="2.38" height="16.28" fill="#feac76"/>
<rect x="131.22" y="299.38" width="2.38" height="16.28" fill="#fea571"/>
<rect x="133.29" y="299.38" width="2.38" height="16.28" fill="#fea16e"/>
<rect x="135.37" y="299.38" width="2.38" height="16.28" fill="#fd9b6b"/>
<rect x="137.45" y="299.38" width="2.38" height="16.28" fill="#fd9467"/>
<rect x="139.53" y="299.38" width="2.38" height="16.28" fill="#fc8c63"/>
<rect x="141.60" y="299.38" width="2.38" height="16.28" fill="#fa7f5e"/>
<rect x="143.68" y="299.38" width="2.38" height="16.28" fill="#f7705c"/>
<rect x="145.76" y="299.38" width="2.38" height="16.28" fill="#f2625d"/>
<rect x="147.84" y="299.38" width="2.38" height="16.28" fill="#ef5d5e"/>
<rect x="149.91" y="299.38" width="2.38" height="16.28" fill="#ec5860"/>
<rect x="151.99" y="299.38" width="2.38" height="16.28" fill="#e95462"/>
<rect x="154.07" y="299.38" width="2.38" height="16.28" fill="#e55064"/>
<rect x="156.14" y="299.38" width="2.38" height="16.28" fill="#e04c67"/>
<rect x="158.22" y="299.38" width="2.38" height="16.28" fill="#dc4869"/>
<rect x="160.30" y="299.38" width="2.38" height="16.28" fill="#d5446d"/>
<rect x="162.38" y="299.38" width="2.38" height="16.28" fill="#cc3f71"/>
<rect x="164.45" y="299.38" width="2.38" height="16.28" fill="#c23b75"/>
<rect x="166.53" y="299.38" width="2.38" height="16.28" fill="#b83779"/>
<rect x="168.61" y="299.38" width="2.38" height="16.28" fill="#ae347b"/>
<rect x="170.68" y="299.38" width="2.38" height="16.28" fill="#a3307e"/>
<rect x="172.76" y="299.38" width="2.38" height="16.28" fill="#982d80"/>
<rect x="174.84" y="299.38" width="2.38" height="16.28" fill="#8b2981"/>
<rect x="176.92" y="299.38" width="2.38" height="16.28" fill="#7c2382"/>
<rect x="178.99" y="299.38" width="2.38" height="16.28" fill="#6b1d81"/>
<rect x="181.07" y="299.38" width="2.38" height="16.28" fill="#57157e"/>
<rect x="183.15" y="299.38" width="27.30" height="16.28" fill="#000004"/>
<rect x="114.60" y="283.40" width="2.38" height="16.28" fill="#fddea0"/>
<rect x="116.68" y="283.40" width="2.38" height="16.28" fill="#fed597"/>
<rect x="118.75" y="283.40" width="2.38" height="16.28" fill="#fecf92"/>
<rect x="120.83" y="283.40" width="2.38" height="16.28" fill="#fec88c"/>
<rect x="122.91" y="283.40" width="2.38" height="16.28" fill="#febf84"/>
<rect x="124.99" y="283.40" width="2.38" height="16.28" fill="#feb67c"/>
<rect x="127.06" y="283.40" width="2.38" height="16.28" fill="#feb078"/>
<rect x="129.14" y="283.40" width="2.38" height="16.28" fill="#fea973"/>
<rect x="131.22" y="283.40" width="2.38" height="16.28" fill="#fea36f"/>
<rect x="133.29" y="283.40" width="2.38" height="16.28" fill="#fe9d6c"/>
<rect x="135.37" y="283.40" width="2.38" height="16.28" fill="#fd9869"/>
<rect x="137.45" y="283.40" width="2.38" height="16.28" fill="#fc9065"/>
<rect x="139.53" y="283.40" width="2.38" height="16.28" fill="#fb8761"/>
<rect x="141.60" y="283.40" width="2.38" height="16.28" fill="#f9785d"/>
<rect x="143.68" y="283.40" width="2.38" height="16.28" fill="#f3655c"/>
<rect x="145.76" y="283.40" width="2.38" height="16.28" fill="#f05f5e"/>
<rect x="147.84" y="283.40" width="2.38" height="16.28" fill="#ed5a5f"/>
<rect x="149.91" y="283.40" width="2.38" height="16.28" fill="#ea5661"/>
<rect x="151.99" y="283.40" width="2.38" height="16.28" fill="#e75263"/>
<rect x="154.07" y="283.40" width="2.38" height="16.28" fill="#e24d66"/>
<rect x="156.14" y="283.40" width="2.38" height="16.28" fill="#dc4869"/>
<rect x="158.22" y="283.40" width="2.38" height="16.28" fill="#d6456c"/>
<rect x="160.30" y="283.40" width="2.38" height="16.28" fill="#cd4071"/>
<rect x="162.38" y="283.40" width="2.38" height="16.28" fill="#c43c75"/>
<rect x="164.45" y="283.40" width="2.38" height="16.28" fill="#ba3878"/>
<rect x="166.53" y="283.40" width="2.38" height="16.28" fill="#ae347b"/>
<rect x="168.61" y="283.40" width="2.38" height="16.28" fill="#a3307e"/>
<rect x="170.68" y="283.40" width="2.38" height="16.28" fill="#982d80"/>
<rect x="172.76" y="283.40" width="2.38" height="16.28" fill="#8b2981"/>
<rect x="174.84" y="283.40" width="2.38" height="16.28" fill="#7c2382"/>
<rect x="176.92" y="283.40" width="2.38" height="16.28" fill="#6b1d81"/>
<rect x="178.99" y="283.40" width="2.38" height="16.28" fill="#56147d"/>
<rect x="181.07" y="283.40" width="10.69" height="16.28" fill="#000004"/>
<rect x="114.60" y="267.42" width="2.38" height="16.28" fill="#fdda9c"/>
<rect x="116.68" y="267.42" width="2.38" height="16.28" fill="#fed194"/>
<rect x="118.75" y="267.42" width="2.38" height="16.28" fill="#fec68a"/>
<rect x="120.83" y="267.42" width="2.38" height="16.28" fill="#feb77e"/>
<rect x="122.91" y="267.42" width="2.38" height="16.28" fill="#fea772"/>
<rect x="124.99" y="267.42" width="2.38" height="16.28" fill="#fe9d6c"/>
<rect x="127.06" y="267.42" width="2.38" height="16.28" fill="#fd9467"/>
<rect x="129.14" y="267.42" width="2.38" height="16.28" fill="#fc8c63"/>
<rect x="131.22" y="267.42" width="2.38" height="16.28" fill="#fb835f"/>
<rect x="133.29" y="267.42" width="2.38" height="16.28" fill="#f8765c"/>
<rect x="135.37" y="267.42" width="2.38" height="16.28" fill="#f05f5e"/>
<rect x="137.45" y="267.42" width="2.38" height="16.28" fill="#d8456c"/>
<rect x="139.53" y="267.42" width="2.38" height="16.28" fill="#d2426f"/>
<rect x="141.60" y="267.42" width="2.38" height="16.28" fill="#d0416f"/>
<rect x="143.68" y="267.42" width="2.38" height="16.28" fill="#cf4070"/>
<rect x="145.76" y="267.42" width="2.38" height="16.28" fill="#cd4071"/>
<rect x="147.84" y="267.42" width="2.38" height="16.28" fill="#cc3f71"/>
<rect x="149.91" y="267.42" width="2.38" height="16.28" fill="#c23b75"/>
<rect x="151.99" y="267.42" width="2.38" height="16.28" fill="#b83779"/>
<rect x="154.07" y="267.42" width="2.38" height="16.28" fill="#ad347c"/>
<rect x="156.14" y="267.42" width="2.38" height="16.28" fill="#a1307e"/>
<rect x="158.22" y="267.42" width="2.38" height="16.28" fill="#962c80"/>
<rect x="160.30" y="267.42" width="2.38" height="16.28" fill="#8b2981"/>
<rect x="162.38" y="267.42" width="2.38" height="16.28" fill="#7e2482"/>
<rect x="164.45" y="267.42" width="2.38" height="16.28" fill="#6e1e81"/>
<rect x="166.53" y="267.42" width="12.76" height="16.28" fill="#08071e"/>
<rect x="114.60" y="251.45" width="2.38" height="16.27" fill="#fed89a"/>
<rect x="116.68" y="251.45" width="2.38" height="16.27" fill="#fecc8f"/>
<rect x="118.75" y="251.45" width="2.38" height="16.27" fill="#feb97f"/>
<rect x="120.83" y="251.45" width="2.38" height="16.27" fill="#fea571"/>
<rect x="122.91" y="251.45" width="2.38" height="16.27" fill="#fd9869"/>
<rect x="124.99" y="251.45" width="2.38" height="16.27" fill="#fc8c63"/>
<rect x="127.06" y="251.45" width="2.38" height="16.27" fill="#fa815f"/>
<rect x="129.14" y="251.45" width="2.38" height="16.27" fill="#f7705c"/>
<rect x="131.22" y="251.45" width="2.38" height="16.27" fill="#e44f64"/>
<rect x="133.29" y="251.45" width="2.38" height="16.27" fill="#d0416f"/>
<rect x="135.37" y="251.45" width="2.38" height="16.27" fill="#cf4070"/>
<rect x="137.45" y="251.45" width="2.38" height="16.27" fill="#cc3f71"/>
<rect x="139.53" y="251.45" width="2.38" height="16.27" fill="#c83e73"/>
<rect x="141.60" y="251.45" width="2.38" height="16.27" fill="#bf3a77"/>
<rect x="143.68" y="251.45" width="2.38" height="16.27" fill="#b2357b"/>
<rect x="145.76" y="251.45" width="2.38" height="16.27" fill="#a1307e"/>
<rect x="147.84" y="251.45" width="2.38" height="16.27" fill="#932b80"/>
<rect x="149.91" y="251.45" width="2.38" height="16.27" fill="#832681"/>
<rect x="151.99" y="251.45" width="2.38" height="16.27" fill="#721f81"/>
<rect x="154.07" y="251.45" width="18.99" height="16.27" fill="#08071e"/>
<rect x="114.60" y="235.47" width="2.38" height="16.27" fill="#fed597"/>
<rect x="116.68" y="235.47" width="2.38" height="16.27" fill="#fec68a"/>
<rect x="118.75" y="235.47" width="2.38" height="16.27" fill="#feb27a"/>
<rect x="120.83" y="235.47" width="2.38" height="16.27" fill="#fe9d6c"/>
<rect x="122.91" y="235.47" width="2.38" height="16.27" fill="#fc8e64"/>
<rect x="124.99" y="235.47" width="2.38" height="16.27" fill="#fb8560"/>
<rect x="127.06" y="235.47" width="2.38" height="16.27" fill="#f7725c"/>
<rect x="129.14" y="235.47" width="2.38" height="16.27" fill="#e75263"/>
<rect x="131.22" y="235.47" width="2.38" height="16.27" fill="#cd4071"/>
<rect x="133.29" y="235.47" width="2.38" height="16.27" fill="#cc3f71"/>
<rect x="135.37" y="235.47" width="2.38" height="16.27" fill="#c83e73"/>
<rect x="137.45" y="235.47" width="2.38" height="16.27" fill="#c53c74"/>
<rect x="139.53" y="235.47" width="2.38" height="16.27" fill="#b73779"/>
<rect x="141.60" y="235.47" width="2.38" height="16.27" fill="#a6317d"/>
<rect x="143.68" y="235.47" width="2.38" height="16.27" fill="#962c80"/>
<rect x="145.76" y="235.47" width="2.38" height="16.27" fill="#842681"/>
<rect x="147.84" y="235.47" width="2.38" height="16.27" fill="#701f81"/>
<rect x="149.91" y="235.47" width="14.84" height="16.27" fill="#08071e"/>
<rect x="114.60" y="219.50" width="2.38" height="16.27" fill="#fed194"/>
<rect x="116.68" y="219.50" width="2.38" height="16.27" fill="#fec185"/>
<rect x="118.75" y="219.50" width="2.38" height="16.27" fill="#fea36f"/>
<rect x="120.83" y="219.50" width="2.38" height="16.27" fill="#fc9065"/>
<rect x="122.91" y="219.50" width="2.38" height="16.27" fill="#fb835f"/>
<rect x="124.99" y="219.50" width="2.38" height="16.27" fill="#f66e5c"/>
<rect x="127.06" y="219.50" width="2.38" height="16.27" fill="#d9466b"/>
<rect x="129.14" y="219.50" width="2.38" height="16.27" fill="#ca3e72"/>
<rect x="131.22" y="219.50" width="2.38" height="16.27" fill="#c73d73"/>
<rect x="133.29" y="219.50" width="2.38" height="16.27" fill="#c23b75"/>
<rect x="135.37" y="219.50" width="2.38" height="16.27" fill="#b2357b"/>
<rect x="137.45" y="219.50" width="2.38" height="16.27" fill="#9e2f7f"/>
<rect x="139.53" y="219.50" width="2.38" height="16.27" fill="#892881"/>
<rect x="141.60" y="219.50" width="2.38" height="16.27" fill="#732081"/>
<rect x="143.68" y="219.50" width="12.76" height="16.27" fill="#08071e"/>
<rect x="114.60" y="203.53" width="2.38" height="16.27" fill="#fed194"/>
<rect x="116.68" y="203.53" width="2.38" height="16.27" fill="#febf84"/>
<rect x="118.75" y="203.53" width="2.38" height="16.27" fill="#fe9f6d"/>
<rect x="120.83" y="203.53" width="2.38" height="16.27" fill="#fc8c63"/>
<rect x="122.91" y="203.53" width="2.38" height="16.27" fill="#fa7f5e"/>
<rect x="124.99" y="203.53" width="2.38" height="16.27" fill="#f4695c"/>
<rect x="127.06" y="203.53" width="2.38" height="16.27" fill="#ca3e72"/>
<rect x="129.14" y="203.53" width="2.38" height="16.27" fill="#c83e73"/>
<rect x="131.22" y="203.53" width="2.38" height="16.27" fill="#c43c75"/>
<rect x="133.29" y="203.53" width="2.38" height="16.27" fill="#bd3977"/>
<rect x="135.37" y="203.53" width="2.38" height="16.27" fill="#aa337d"/>
<rect x="137.45" y="203.53" width="2.38" height="16.27" fill="#942c80"/>
<rect x="139.53" y="203.53" width="2.38" height="16.27" fill="#7e2482"/>
<rect x="141.60" y="203.53" width="2.38" height="16.27" fill="#651a80"/>
<rect x="143.68" y="203.53" width="2.38" height="16.27" fill="#4f127b"/>
<rect x="145.76" y="203.53" width="2.38" height="16.27" fill="#311165"/>
<rect x="147.84" y="203.53" width="2.38" height="16.27" fill="#180f3d"/>
<rect x="149.91" y="203.53" width="2.38" height="16.27" fill="#120d31"/>
<rect x="151.99" y="203.53" width="2.38" height="16.27" fill="#0c0926"/>
<rect x="114.60" y="187.55" width="2.38" height="16.28" fill="#fecc8f"/>
<rect x="116.68" y="187.55" width="2.38" height="16.28" fill="#feb77e"/>
<rect x="118.75" y="187.55" width="2.38" height="16.28" fill="#fd9869"/>
<rect x="120.83" y="187.55" width="2.38" height="16.28" fill="#fb8560"/>
<rect x="122.91" y="187.55" width="2.38" height="16.28" fill="#f8765c"/>
<rect x="124.99" y="187.55" width="2.38" height="16.28" fill="#ed5a5f"/>
<rect x="127.06" y="187.55" width="2.38" height="16.28" fill="#c53c74"/>
<rect x="129.14" y="187.55" width="2.38" height="16.28" fill="#c23b75"/>
<rect x="131.22" y="187.55" width="2.38" height="16.28" fill="#bf3a77"/>
<rect x="133.29" y="187.55" width="2.38" height="16.28" fill="#b2357b"/>
<rect x="135.37" y="187.55" width="2.38" height="16.28" fill="#9c2e7f"/>
<rect x="137.45" y="187.55" width="2.38" height="16.28" fill="#862781"/>
<rect x="139.53" y="187.55" width="2.38" height="16.28" fill="#6e1e81"/>
<rect x="141.60" y="187.55" width="6.53" height="16.28" fill="#08071e"/>
<rect x="114.60" y="171.57" width="2.38" height="16.27" fill="#fec88c"/>
<rect x="116.68" y="171.57" width="2.38" height="16.27" fill="#feb078"/>
<rect x="118.75" y="171.57" width="2.38" height="16.27" fill="#fc8e64"/>
<rect x="120.83" y="171.57" width="2.38" height="16.27" fill="#f9795d"/>
<rect x="122.91" y="171.57" width="2.38" height="16.27" fill="#f2625d"/>
<rect x="124.99" y="171.57" width="2.38" height="16.27" fill="#c23b75"/>
<rect x="127.06" y="171.57" width="2.38" height="16.27" fill="#bf3a77"/>
<rect x="129.14" y="171.57" width="2.38" height="16.27" fill="#ba3878"/>
<rect x="131.22" y="171.57" width="2.38" height="16.27" fill="#a6317d"/>
<rect x="133.29" y="171.57" width="2.38" height="16.27" fill="#8b2981"/>
<rect x="135.37" y="171.57" width="2.38" height="16.27" fill="#701f81"/>
<rect x="137.45" y="171.57" width="4.45" height="16.27" fill="#251255"/>
<rect x="114.60" y="155.60" width="2.38" height="16.27" fill="#fec488"/>
<rect x="116.68" y="155.60" width="2.38" height="16.27" fill="#fea973"/>
<rect x="118.75" y="155.60" width="2.38" height="16.27" fill="#fb8560"/>
<rect x="120.83" y="155.60" width="2.38" height="16.27" fill="#f7725c"/>
<rect x="122.91" y="155.60" width="2.38" height="16.27" fill="#e24d66"/>
<rect x="124.99" y="155.60" width="2.38" height="16.27" fill="#bd3977"/>
<rect x="127.06" y="155.60" width="2.38" height="16.27" fill="#b83779"/>
<rect x="129.14" y="155.60" width="2.38" height="16.27" fill="#aa337d"/>
<rect x="131.22" y="155.60" width="2.38" height="16.27" fill="#8c2981"/>
<rect x="133.29" y="155.60" width="2.38" height="16.27" fill="#701f81"/>
<rect x="135.37" y="155.60" width="6.53" height="16.27" fill="#251255"/>
<rect x="114.60" y="139.62" width="2.38" height="16.27" fill="#fec185"/>
<rect x="116.68" y="139.62" width="2.38" height="16.27" fill="#fe9f6d"/>
<rect x="118.75" y="139.62" width="2.38" height="16.27" fill="#f97b5d"/>
<rect x="120.83" y="139.62" width="2.38" height="16.27" fill="#f2645c"/>
<rect x="122.91" y="139.62" width="2.38" height="16.27" fill="#bd3977"/>
<rect x="124.99" y="139.62" width="2.38" height="16.27" fill="#b83779"/>
<rect x="127.06" y="139.62" width="2.38" height="16.27" fill="#ae347b"/>
<rect x="129.14" y="139.62" width="2.38" height="16.27" fill="#902a81"/>
<rect x="131.22" y="139.62" width="2.38" height="16.27" fill="#721f81"/>
<rect x="133.29" y="139.62" width="8.61" height="16.27" fill="#251255"/>
<rect x="114.60" y="123.65" width="2.38" height="16.28" fill="#febd82"/>
<rect x="116.68" y="123.65" width="2.38" height="16.28" fill="#fc8c63"/>
<rect x="118.75" y="123.65" width="2.38" height="16.28" fill="#f66c5c"/>
<rect x="120.83" y="123.65" width="2.38" height="16.28" fill="#c83e73"/>
<rect x="122.91" y="123.65" width="2.38" height="16.28" fill="#b3367a"/>
<rect x="124.99" y="123.65" width="2.38" height="16.28" fill="#9e2f7f"/>
<rect x="127.06" y="123.65" width="2.38" height="16.28" fill="#762181"/>
<rect x="129.14" y="123.65" width="8.61" height="16.28" fill="#251255"/>
<rect x="114.60" y="107.68" width="2.38" height="16.27" fill="#feb77e"/>
<rect x="116.68" y="107.68" width="2.38" height="16.27" fill="#f9795d"/>
<rect x="118.75" y="107.68" width="2.38" height="16.27" fill="#d9466b"/>
<rect x="120.83" y="107.68" width="2.38" height="16.27" fill="#ae347b"/>
<rect x="122.91" y="107.68" width="2.38" height="16.27" fill="#832681"/>
<rect x="124.99" y="107.68" width="8.61" height="16.27" fill="#2d1161"/>
<rect x="114.60" y="91.70" width="2.38" height="16.28" fill="#feb47b"/>
<rect x="116.68" y="91.70" width="2.38" height="16.28" fill="#f8765c"/>
<rect x="118.75" y="91.70" width="2.38" height="16.28" fill="#d6456c"/>
<rect x="120.83" y="91.70" width="2.38" height="16.28" fill="#ab337c"/>
<rect x="122.91" y="91.70" width="2.38" height="16.28" fill="#7e2482"/>
<rect x="124.99" y="91.70" width="8.61" height="16.28" fill="#2d1161"/>
<rect x="114.60" y="75.73" width="2.38" height="16.27" fill="#feb078"/>
<rect x="116.68" y="75.73" width="2.38" height="16.27" fill="#ea5661"/>
<rect x="118.75" y="75.73" width="2.38" height="16.27" fill="#a02f7f"/>
<rect x="120.83" y="75.73" width="8.61" height="16.27" fill="#2d1161"/>
<rect x="114.60" y="59.75" width="2.38" height="16.28" fill="#feaa74"/>
<rect x="116.68" y="59.75" width="2.38" height="16.28" fill="#a8327d"/>
<rect x="118.75" y="59.75" width="4.45" height="16.28" fill="#2d1161"/>
<rect x="114.60" y="43.77" width="2.38" height="16.28" fill="#fea772"/>
<rect x="116.68" y="43.77" width="4.45" height="16.28" fill="#2d1161"/>
<rect x="114.60" y="27.80" width="2.38" height="16.27" fill="#fd9b6b"/>
<rect x="116.68" y="27.80" width="2.38" height="16.27" fill="#2d1161"/>
</g>
<rect x="114.60" y="27.80" width="328.20" height="383.40" fill="none" stroke="#262626" stroke-width="1.1"/>
<line x1="109.60" y1="403.21" x2="114.60" y2="403.21" stroke="#333" stroke-width="1.1"/>
<text x="105.20" y="410.11" font-size="24" text-anchor="end">2</text>
<line x1="109.60" y1="371.26" x2="114.60" y2="371.26" stroke="#333" stroke-width="1.1"/>
<text x="105.20" y="378.16" font-size="24" text-anchor="end">4</text>
<line x1="109.60" y1="339.31" x2="114.60" y2="339.31" stroke="#333" stroke-width="1.1"/>
<text x="105.20" y="346.21" font-size="24" text-anchor="end">6</text>
<line x1="109.60" y1="307.36" x2="114.60" y2="307.36" stroke="#333" stroke-width="1.1"/>
<text x="105.20" y="314.26" font-size="24" text-anchor="end">8</text>
<line x1="109.60" y1="275.41" x2="114.60" y2="275.41" stroke="#333" stroke-width="1.1"/>
<text x="105.20" y="282.31" font-size="24" text-anchor="end">10</text>
<line x1="109.60" y1="243.46" x2="114.60" y2="243.46" stroke="#333" stroke-width="1.1"/>
<text x="105.20" y="250.36" font-size="24" text-anchor="end">12</text>
<line x1="109.60" y1="211.51" x2="114.60" y2="211.51" stroke="#333" stroke-width="1.1"/>
<text x="105.20" y="218.41" font-size="24" text-anchor="end">14</text>
<line x1="109.60" y1="179.56" x2="114.60" y2="179.56" stroke="#333" stroke-width="1.1"/>
<text x="105.20" y="186.46" font-size="24" text-anchor="end">16</text>
<line x1="109.60" y1="147.61" x2="114.60" y2="147.61" stroke="#333" stroke-width="1.1"/>
<text x="105.20" y="154.51" font-size="24" text-anchor="end">18</text>
<line x1="109.60" y1="115.66" x2="114.60" y2="115.66" stroke="#333" stroke-width="1.1"/>
<text x="105.20" y="122.56" font-size="24" text-anchor="end">20</text>
<line x1="109.60" y1="83.71" x2="114.60" y2="83.71" stroke="#333" stroke-width="1.1"/>
<text x="105.20" y="90.61" font-size="24" text-anchor="end">22</text>
<line x1="109.60" y1="51.76" x2="114.60" y2="51.76" stroke="#333" stroke-width="1.1"/>
<text x="105.20" y="58.66" font-size="24" text-anchor="end">24</text>
<line x1="115.64" y1="411.20" x2="115.64" y2="416.20" stroke="#333" stroke-width="1.1"/>
<text x="115.64" y="441.96" font-size="24" text-anchor="middle" transform="rotate(-45 115.64 433.20)">1</text>
<line x1="146.80" y1="411.20" x2="146.80" y2="416.20" stroke="#333" stroke-width="1.1"/>
<text x="146.80" y="447.35" font-size="24" text-anchor="middle" transform="rotate(-45 146.80 438.59)">16</text>
<line x1="177.96" y1="411.20" x2="177.96" y2="416.20" stroke="#333" stroke-width="1.1"/>
<text x="177.96" y="447.35" font-size="24" text-anchor="middle" transform="rotate(-45 177.96 438.59)">31</text>
<line x1="209.11" y1="411.20" x2="209.11" y2="416.20" stroke="#333" stroke-width="1.1"/>
<text x="209.11" y="447.35" font-size="24" text-anchor="middle" transform="rotate(-45 209.11 438.59)">46</text>
<line x1="240.27" y1="411.20" x2="240.27" y2="416.20" stroke="#333" stroke-width="1.1"/>
<text x="240.27" y="447.35" font-size="24" text-anchor="middle" transform="rotate(-45 240.27 438.59)">61</text>
<line x1="271.43" y1="411.20" x2="271.43" y2="416.20" stroke="#333" stroke-width="1.1"/>
<text x="271.43" y="447.35" font-size="24" text-anchor="middle" transform="rotate(-45 271.43 438.59)">76</text>
<line x1="302.59" y1="411.20" x2="302.59" y2="416.20" stroke="#333" stroke-width="1.1"/>
<text x="302.59" y="447.35" font-size="24" text-anchor="middle" transform="rotate(-45 302.59 438.59)">91</text>
<line x1="333.75" y1="411.20" x2="333.75" y2="416.20" stroke="#333" stroke-width="1.1"/>
<text x="333.75" y="452.75" font-size="24" text-anchor="middle" transform="rotate(-45 333.75 443.99)">106</text>
<line x1="364.90" y1="411.20" x2="364.90" y2="416.20" stroke="#333" stroke-width="1.1"/>
<text x="364.90" y="452.75" font-size="24" text-anchor="middle" transform="rotate(-45 364.90 443.99)">121</text>
<line x1="396.06" y1="411.20" x2="396.06" y2="416.20" stroke="#333" stroke-width="1.1"/>
<text x="396.06" y="452.75" font-size="24" text-anchor="middle" transform="rotate(-45 396.06 443.99)">136</text>
<line x1="427.22" y1="411.20" x2="427.22" y2="416.20" stroke="#333" stroke-width="1.1"/>
<text x="427.22" y="452.75" font-size="24" text-anchor="middle" transform="rotate(-45 427.22 443.99)">151</text>
<text x="63.30" y="219.50" font-size="28" text-anchor="middle" font-style="italic" transform="rotate(-90 63.30 219.50)">m</text>
<text x="278.70" y="494.40" font-size="28" text-anchor="middle" font-style="italic">k</text>
<text x="48.70" y="28.00" font-size="28" text-anchor="start" font-weight="bold">a</text>
<rect x="233.70" y="39.70" width="198.60" height="218.50" fill="#fff"/>
<clipPath id="cia"><rect x="233.70" y="39.70" width="198.60" height="218.50"/></clipPath>
<g clip-path="url(#cia)">
<circle cx="242.31" cy="49.20" r="4.80" fill="#1f77b4"/>
<circle cx="243.92" cy="65.71" r="4.80" fill="#1f77b4"/>
<circle cx="245.54" cy="74.38" r="4.80" fill="#1f77b4"/>
<circle cx="247.15" cy="81.42" r="4.80" fill="#1f77b4"/>
<circle cx="248.76" cy="86.19" r="4.80" fill="#1f77b4"/>
<circle cx="250.37" cy="90.96" r="4.80" fill="#1f77b4"/>
<circle cx="251.98" cy="95.72" r="4.80" fill="#1f77b4"/>
<circle cx="253.60" cy="98.54" r="4.80" fill="#1f77b4"/>
<circle cx="255.21" cy="101.36" r="4.80" fill="#1f77b4"/>
<circle cx="256.82" cy="104.18" r="4.80" fill="#1f77b4"/>
<circle cx="258.43" cy="107.00" r="4.80" fill="#1f77b4"/>
<circle cx="260.04" cy="108.98" r="4.80" fill="#1f77b4"/>
<circle cx="261.66" cy="110.96" r="4.80" fill="#1f77b4"/>
<circle cx="263.27" cy="112.94" r="4.80" fill="#1f77b4"/>
<circle cx="264.88" cy="114.91" r="4.80" fill="#1f77b4"/>
<circle cx="266.49" cy="116.89" r="4.80" fill="#1f77b4"/>
<circle cx="268.10" cy="118.73" r="4.80" fill="#1f77b4"/>
<circle cx="269.72" cy="120.37" r="4.80" fill="#1f77b4"/>
<circle cx="271.33" cy="122.00" r="4.80" fill="#1f77b4"/>
<circle cx="272.94" cy="123.64" r="4.80" fill="#1f77b4"/>
<circle cx="274.55" cy="125.27" r="4.80" fill="#1f77b4"/>
<circle cx="276.16" cy="126.91" r="4.80" fill="#1f77b4"/>
<circle cx="277.78" cy="128.54" r="4.80" fill="#1f77b4"/>
<circle cx="279.39" cy="129.99" r="4.80" fill="#1f77b4"/>
<circle cx="281.00" cy="131.26" r="4.80" fill="#1f77b4"/>
<circle cx="282.61" cy="132.52" r="4.80" fill="#1f77b4"/>
<circle cx="284.22" cy="133.79" r="4.80" fill="#1f77b4"/>
<circle cx="285.84" cy="135.05" r="4.80" fill="#1f77b4"/>
<circle cx="287.45" cy="136.32" r="4.80" fill="#1f77b4"/>
<circle cx="289.06" cy="137.59" r="4.80" fill="#1f77b4"/>
<circle cx="290.67" cy="139.02" r="4.80" fill="#1f77b4"/>
<circle cx="292.28" cy="140.63" r="4.80" fill="#1f77b4"/>
<circle cx="293.90" cy="142.23" r="4.80" fill="#1f77b4"/>
<circle cx="295.51" cy="143.84" r="4.80" fill="#1f77b4"/>
<circle cx="297.12" cy="145.44" r="4.80" fill="#1f77b4"/>
<circle cx="298.73" cy="147.05" r="4.80" fill="#1f77b4"/>
<circle cx="300.34" cy="148.65" r="4.80" fill="#1f77b4"/>
<circle cx="301.96" cy="150.28" r="4.80" fill="#1f77b4"/>
<circle cx="303.57" cy="151.91" r="4.80" fill="#1f77b4"/>
<circle cx="305.18" cy="153.55" r="4.80" fill="#1f77b4"/>
<circle cx="306.79" cy="155.18" r="4.80" fill="#1f77b4"/>
<circle cx="308.40" cy="156.81" r="4.80" fill="#1f77b4"/>
<circle cx="310.02" cy="158.45" r="4.80" fill="#1f77b4"/>
<circle cx="311.63" cy="160.08" r="4.80" fill="#1f77b4"/>
<circle cx="313.24" cy="161.47" r="4.80" fill="#1f77b4"/>
<circle cx="314.85" cy="162.76" r="4.80" fill="#1f77b4"/>
<circle cx="316.46" cy="164.04" r="4.80" fill="#1f77b4"/>
<circle cx="318.08" cy="165.33" r="4.80" fill="#1f77b4"/>
<circle cx="319.69" cy="166.61" r="4.80" fill="#1f77b4"/>
<circle cx="321.30" cy="167.89" r="4.80" fill="#1f77b4"/>
<circle cx="322.91" cy="169.18" r="4.80" fill="#1f77b4"/>
<circle cx="324.52" cy="170.47" r="4.80" fill="#1f77b4"/>
<circle cx="326.14" cy="171.77" r="4.80" fill="#1f77b4"/>
<circle cx="327.75" cy="173.06" r="4.80" fill="#1f77b4"/>
<circle cx="329.36" cy="174.36" r="4.80" fill="#1f77b4"/>
<circle cx="330.97" cy="175.65" r="4.80" fill="#1f77b4"/>
<circle cx="332.58" cy="176.95" r="4.80" fill="#1f77b4"/>
<circle cx="334.20" cy="178.24" r="4.80" fill="#1f77b4"/>
<circle cx="335.81" cy="179.80" r="4.80" fill="#1f77b4"/>
<circle cx="337.42" cy="181.42" r="4.80" fill="#1f77b4"/>
<circle cx="339.03" cy="183.04" r="4.80" fill="#1f77b4"/>
<circle cx="340.64" cy="184.66" r="4.80" fill="#1f77b4"/>
<circle cx="342.26" cy="189.26" r="4.80" fill="#1f77b4"/>
<circle cx="343.87" cy="194.43" r="4.80" fill="#1f77b4"/>
<circle cx="345.48" cy="197.46" r="4.80" fill="#1f77b4"/>
<circle cx="347.09" cy="199.51" r="4.80" fill="#1f77b4"/>
<circle cx="348.70" cy="201.57" r="4.80" fill="#1f77b4"/>
<circle cx="350.32" cy="203.62" r="4.80" fill="#1f77b4"/>
<circle cx="351.93" cy="205.68" r="4.80" fill="#1f77b4"/>
<circle cx="353.54" cy="206.86" r="4.80" fill="#1f77b4"/>
<circle cx="355.15" cy="207.68" r="4.80" fill="#1f77b4"/>
<circle cx="356.76" cy="208.50" r="4.80" fill="#1f77b4"/>
<circle cx="358.38" cy="209.32" r="4.80" fill="#1f77b4"/>
<circle cx="359.99" cy="210.13" r="4.80" fill="#1f77b4"/>
<circle cx="361.60" cy="210.95" r="4.80" fill="#1f77b4"/>
<circle cx="363.21" cy="211.77" r="4.80" fill="#1f77b4"/>
<circle cx="364.82" cy="212.96" r="4.80" fill="#1f77b4"/>
<circle cx="366.44" cy="214.24" r="4.80" fill="#1f77b4"/>
<circle cx="368.05" cy="215.53" r="4.80" fill="#1f77b4"/>
<circle cx="369.66" cy="216.81" r="4.80" fill="#1f77b4"/>
<circle cx="371.27" cy="218.10" r="4.80" fill="#1f77b4"/>
<circle cx="372.88" cy="219.38" r="4.80" fill="#1f77b4"/>
<circle cx="374.50" cy="220.66" r="4.80" fill="#1f77b4"/>
<circle cx="376.11" cy="221.82" r="4.80" fill="#1f77b4"/>
<circle cx="377.72" cy="222.96" r="4.80" fill="#1f77b4"/>
<circle cx="379.33" cy="224.09" r="4.80" fill="#1f77b4"/>
<circle cx="380.94" cy="225.23" r="4.80" fill="#1f77b4"/>
<circle cx="382.56" cy="226.37" r="4.80" fill="#1f77b4"/>
<circle cx="384.17" cy="227.51" r="4.80" fill="#1f77b4"/>
<circle cx="385.78" cy="228.65" r="4.80" fill="#1f77b4"/>
<circle cx="387.39" cy="229.44" r="4.80" fill="#1f77b4"/>
<circle cx="389.00" cy="230.23" r="4.80" fill="#1f77b4"/>
<circle cx="390.62" cy="231.02" r="4.80" fill="#1f77b4"/>
<circle cx="392.23" cy="231.81" r="4.80" fill="#1f77b4"/>
<circle cx="393.84" cy="232.60" r="4.80" fill="#1f77b4"/>
<circle cx="395.45" cy="233.13" r="4.80" fill="#1f77b4"/>
<circle cx="397.06" cy="233.25" r="4.80" fill="#1f77b4"/>
<circle cx="398.68" cy="233.37" r="4.80" fill="#1f77b4"/>
<circle cx="400.29" cy="233.49" r="4.80" fill="#1f77b4"/>
<circle cx="401.90" cy="233.61" r="4.80" fill="#1f77b4"/>
<circle cx="403.51" cy="233.73" r="4.80" fill="#1f77b4"/>
<circle cx="405.12" cy="233.85" r="4.80" fill="#1f77b4"/>
<circle cx="406.74" cy="233.98" r="4.80" fill="#1f77b4"/>
<circle cx="408.35" cy="234.11" r="4.80" fill="#1f77b4"/>
<circle cx="409.96" cy="234.30" r="4.80" fill="#1f77b4"/>
<circle cx="411.57" cy="234.50" r="4.80" fill="#1f77b4"/>
<circle cx="413.18" cy="234.70" r="4.80" fill="#1f77b4"/>
<circle cx="414.80" cy="234.90" r="4.80" fill="#1f77b4"/>
<circle cx="416.41" cy="235.10" r="4.80" fill="#1f77b4"/>
<circle cx="418.02" cy="235.30" r="4.80" fill="#1f77b4"/>
<circle cx="419.63" cy="235.50" r="4.80" fill="#1f77b4"/>
<circle cx="421.24" cy="235.70" r="4.80" fill="#1f77b4"/>
<circle cx="422.86" cy="235.90" r="4.80" fill="#1f77b4"/>
<path d="M237.81 76.92L246.81 85.92M237.81 85.92L246.81 76.92" stroke="#ff7f0e" stroke-width="1.3" fill="none"/>
<path d="M239.42 86.21L248.42 95.21M239.42 95.21L248.42 86.21" stroke="#ff7f0e" stroke-width="1.3" fill="none"/>
<path d="M241.04 94.79L250.04 103.79M241.04 103.79L250.04 94.79" stroke="#ff7f0e" stroke-width="1.3" fill="none"/>
<path d="M242.65 94.79L251.65 103.79M242.65 103.79L251.65 94.79" stroke="#ff7f0e" stroke-width="1.3" fill="none"/>
<path d="M244.26 106.28L253.26 115.28M244.26 115.28L253.26 106.28" stroke="#ff7f0e" stroke-width="1.3" fill="none"/>
<path d="M245.87 106.28L254.87 115.28M245.87 115.28L254.87 106.28" stroke="#ff7f0e" stroke-width="1.3" fill="none"/>
<path d="M247.48 115.55L256.48 124.55M247.48 124.55L256.48 115.55" stroke="#ff7f0e" stroke-width="1.3" fill="none"/>
<path d="M249.10 115.55L258.10 124.55M249.10 124.55L258.10 115.55" stroke="#ff7f0e" stroke-width="1.3" fill="none"/>
<path d="M250.71 124.09L259.71 133.09M250.71 133.09L259.71 124.09" stroke="#ff7f0e" stroke-width="1.3" fill="none"/>
<path d="M252.32 124.09L261.32 133.09M252.32 133.09L261.32 124.09" stroke="#ff7f0e" stroke-width="1.3" fill="none"/>
<path d="M253.93 131.19L262.93 140.19M253.93 140.19L262.93 131.19" stroke="#ff7f0e" stroke-width="1.3" fill="none"/>
<path d="M255.54 131.19L264.54 140.19M255.54 140.19L264.54 131.19" stroke="#ff7f0e" stroke-width="1.3" fill="none"/>
<path d="M257.16 137.52L266.16 146.52M257.16 146.52L266.16 137.52" stroke="#ff7f0e" stroke-width="1.3" fill="none"/>
<path d="M258.77 137.52L267.77 146.52M258.77 146.52L267.77 137.52" stroke="#ff7f0e" stroke-width="1.3" fill="none"/>
<path d="M260.38 143.51L269.38 152.51M260.38 152.51L269.38 143.51" stroke="#ff7f0e" stroke-width="1.3" fill="none"/>
<path d="M261.99 143.51L270.99 152.51M261.99 152.51L270.99 143.51" stroke="#ff7f0e" stroke-width="1.3" fill="none"/>
<path d="M263.60 149.22L272.60 158.22M263.60 158.22L272.60 149.22" stroke="#ff7f0e" stroke-width="1.3" fill="none"/>
<path d="M265.22 149.22L274.22 158.22M265.22 158.22L274.22 149.22" stroke="#ff7f0e" stroke-width="1.3" fill="none"/>
<path d="M266.83 154.93L275.83 163.93M266.83 163.93L275.83 154.93" stroke="#ff7f0e" stroke-width="1.3" fill="none"/>
<path d="M268.44 154.93L277.44 163.93M268.44 163.93L277.44 154.93" stroke="#ff7f0e" stroke-width="1.3" fill="none"/>
<path d="M270.05 159.93L279.05 168.93M270.05 168.93L279.05 159.93" stroke="#ff7f0e" stroke-width="1.3" fill="none"/>
<path d="M271.66 159.93L280.66 168.93M271.66 168.93L280.66 159.93" stroke="#ff7f0e" stroke-width="1.3" fill="none"/>
<path d="M273.28 164.75L282.28 173.75M273.28 173.75L282.28 164.75" stroke="#ff7f0e" stroke-width="1.3" fill="none"/>
<path d="M274.89 164.75L283.89 173.75M274.89 173.75L283.89 164.75" stroke="#ff7f0e" stroke-width="1.3" fill="none"/>
<path d="M276.50 169.57L285.50 178.57M276.50 178.57L285.50 169.57" stroke="#ff7f0e" stroke-width="1.3" fill="none"/>
<path d="M278.11 169.57L287.11 178.57M278.11 178.57L287.11 169.57" stroke="#ff7f0e" stroke-width="1.3" fill="none"/>
<path d="M279.72 174.40L288.72 183.40M279.72 183.40L288.72 174.40" stroke="#ff7f0e" stroke-width="1.3" fill="none"/>
<path d="M281.34 174.40L290.34 183.40M281.34 183.40L290.34 174.40" stroke="#ff7f0e" stroke-width="1.3" fill="none"/>
<path d="M282.95 179.24L291.95 188.24M282.95 188.24L291.95 179.24" stroke="#ff7f0e" stroke-width="1.3" fill="none"/>
<path d="M284.56 179.24L293.56 188.24M284.56 188.24L293.56 179.24" stroke="#ff7f0e" stroke-width="1.3" fill="none"/>
<path d="M286.17 184.75L295.17 193.75M286.17 193.75L295.17 184.75" stroke="#ff7f0e" stroke-width="1.3" fill="none"/>
<path d="M287.78 184.75L296.78 193.75M287.78 193.75L296.78 184.75" stroke="#ff7f0e" stroke-width="1.3" fill="none"/>
<path d="M289.40 192.32L298.40 201.32M289.40 201.32L298.40 192.32" stroke="#ff7f0e" stroke-width="1.3" fill="none"/>
<path d="M291.01 192.32L300.01 201.32M291.01 201.32L300.01 192.32" stroke="#ff7f0e" stroke-width="1.3" fill="none"/>
<path d="M292.62 199.09L301.62 208.09M292.62 208.09L301.62 199.09" stroke="#ff7f0e" stroke-width="1.3" fill="none"/>
<path d="M294.23 199.09L303.23 208.09M294.23 208.09L303.23 199.09" stroke="#ff7f0e" stroke-width="1.3" fill="none"/>
<path d="M295.84 202.68L304.84 211.68M295.84 211.68L304.84 202.68" stroke="#ff7f0e" stroke-width="1.3" fill="none"/>
<path d="M297.46 202.68L306.46 211.68M297.46 211.68L306.46 202.68" stroke="#ff7f0e" stroke-width="1.3" fill="none"/>
<path d="M299.07 206.28L308.07 215.28M299.07 215.28L308.07 206.28" stroke="#ff7f0e" stroke-width="1.3" fill="none"/>
<path d="M300.68 206.28L309.68 215.28M300.68 215.28L309.68 206.28" stroke="#ff7f0e" stroke-width="1.3" fill="none"/>
<path d="M302.29 209.09L311.29 218.09M302.29 218.09L311.29 209.09" stroke="#ff7f0e" stroke-width="1.3" fill="none"/>
<path d="M303.90 209.09L312.90 218.09M303.90 218.09L312.90 209.09" stroke="#ff7f0e" stroke-width="1.3" fill="none"/>
<path d="M305.52 210.73L314.52 219.73M305.52 219.73L314.52 210.73" stroke="#ff7f0e" stroke-width="1.3" fill="none"/>
<path d="M307.13 210.73L316.13 219.73M307.13 219.73L316.13 210.73" stroke="#ff7f0e" stroke-width="1.3" fill="none"/>
<path d="M308.74 212.36L317.74 221.36M308.74 221.36L317.74 212.36" stroke="#ff7f0e" stroke-width="1.3" fill="none"/>
<path d="M310.35 212.36L319.35 221.36M310.35 221.36L319.35 212.36" stroke="#ff7f0e" stroke-width="1.3" fill="none"/>
<path d="M311.96 214.00L320.96 223.00M311.96 223.00L320.96 214.00" stroke="#ff7f0e" stroke-width="1.3" fill="none"/>
<path d="M313.58 214.00L322.58 223.00M313.58 223.00L322.58 214.00" stroke="#ff7f0e" stroke-width="1.3" fill="none"/>
<path d="M315.19 216.52L324.19 225.52M315.19 225.52L324.19 216.52" stroke="#ff7f0e" stroke-width="1.3" fill="none"/>
<path d="M316.80 216.52L325.80 225.52M316.80 225.52L325.80 216.52" stroke="#ff7f0e" stroke-width="1.3" fill="none"/>
<path d="M318.41 219.09L327.41 228.09M318.41 228.09L327.41 219.09" stroke="#ff7f0e" stroke-width="1.3" fill="none"/>
<path d="M320.02 219.09L329.02 228.09M320.02 228.09L329.02 219.09" stroke="#ff7f0e" stroke-width="1.3" fill="none"/>
<path d="M321.64 221.65L330.64 230.65M321.64 230.65L330.64 221.65" stroke="#ff7f0e" stroke-width="1.3" fill="none"/>
<path d="M323.25 221.65L332.25 230.65M323.25 230.65L332.25 221.65" stroke="#ff7f0e" stroke-width="1.3" fill="none"/>
<path d="M324.86 223.89L333.86 232.89M324.86 232.89L333.86 223.89" stroke="#ff7f0e" stroke-width="1.3" fill="none"/>
<path d="M326.47 223.89L335.47 232.89M326.47 232.89L335.47 223.89" stroke="#ff7f0e" stroke-width="1.3" fill="none"/>
<path d="M328.08 225.78L337.08 234.78M328.08 234.78L337.08 225.78" stroke="#ff7f0e" stroke-width="1.3" fill="none"/>
<path d="M329.70 225.78L338.70 234.78M329.70 234.78L338.70 225.78" stroke="#ff7f0e" stroke-width="1.3" fill="none"/>
<path d="M331.31 227.67L340.31 236.67M331.31 236.67L340.31 227.67" stroke="#ff7f0e" stroke-width="1.3" fill="none"/>
<path d="M332.92 227.67L341.92 236.67M332.92 236.67L341.92 227.67" stroke="#ff7f0e" stroke-width="1.3" fill="none"/>
<path d="M334.53 229.56L343.53 238.56M334.53 238.56L343.53 229.56" stroke="#ff7f0e" stroke-width="1.3" fill="none"/>
<path d="M336.14 229.56L345.14 238.56M336.14 238.56L345.14 229.56" stroke="#ff7f0e" stroke-width="1.3" fill="none"/>
<path d="M337.76 231.29L346.76 240.29M337.76 240.29L346.76 231.29" stroke="#ff7f0e" stroke-width="1.3" fill="none"/>
<path d="M339.37 231.29L348.37 240.29M339.37 240.29L348.37 231.29" stroke="#ff7f0e" stroke-width="1.3" fill="none"/>
<path d="M340.98 246.10L349.98 255.10M340.98 255.10L349.98 246.10" stroke="#ff7f0e" stroke-width="1.3" fill="none"/>
<path d="M342.59 246.10L351.59 255.10M342.59 255.10L351.59 246.10" stroke="#ff7f0e" stroke-width="1.3" fill="none"/>
<path d="M344.20 246.10L353.20 255.10M344.20 255.10L353.20 246.10" stroke="#ff7f0e" stroke-width="1.3" fill="none"/>
<path d="M345.82 246.10L354.82 255.10M345.82 255.10L354.82 246.10" stroke="#ff7f0e" stroke-width="1.3" fill="none"/>
<path d="M347.43 246.10L356.43 255.10M347.43 255.10L356.43 246.10" stroke="#ff7f0e" stroke-width="1.3" fill="none"/>
<path d="M349.04 246.10L358.04 255.10M349.04 255.10L358.04 246.10" stroke="#ff7f0e" stroke-width="1.3" fill="none"/>
<path d="M350.65 246.10L359.65 255.10M350.65 255.10L359.65 246.10" stroke="#ff7f0e" stroke-width="1.3" fill="none"/>
<path d="M352.26 246.10L361.26 255.10M352.26 255.10L361.26 246.10" stroke="#ff7f0e" stroke-width="1.3" fill="none"/>
<path d="M353.88 246.10L362.88 255.10M353.88 255.10L362.88 246.10" stroke="#ff7f0e" stroke-width="1.3" fill="none"/>
<path d="M355.49 246.10L364.49 255.10M355.49 255.10L364.49 246.10" stroke="#ff7f0e" stroke-width="1.3" fill="none"/>
<path d="M357.10 246.10L366.10 255.10M357.10 255.10L366.10 246.10" stroke="#ff7f0e" stroke-width="1.3" fill="none"/>
<path d="M358.71 246.10L367.71 255.10M358.71 255.10L367.71 246.10" stroke="#ff7f0e" stroke-width="1.3" fill="none"/>
<path d="M360.32 246.10L369.32 255.10M360.32 255.10L369.32 246.10" stroke="#ff7f0e" stroke-width="1.3" fill="none"/>
<path d="M361.94 246.10L370.94 255.10M361.94 255.10L370.94 246.10" stroke="#ff7f0e" stroke-width="1.3" fill="none"/>
<path d="M363.55 246.10L372.55 255.10M363.55 255.10L372.55 246.10" stroke="#ff7f0e" stroke-width="1.3" fill="none"/>
<path d="M365.16 246.10L374.16 255.10M365.16 255.10L374.16 246.10" stroke="#ff7f0e" stroke-width="1.3" fill="none"/>
<path d="M366.77 246.10L375.77 255.10M366.77 255.10L375.77 246.10" stroke="#ff7f0e" stroke-width="1.3" fill="none"/>
<path d="M368.38 246.10L377.38 255.10M368.38 255.10L377.38 246.10" stroke="#ff7f0e" stroke-width="1.3" fill="none"/>
<path d="M370.00 246.10L379.00 255.10M370.00 255.10L379.00 246.10" stroke="#ff7f0e" stroke-width="1.3" fill="none"/>
<path d="M371.61 246.10L380.61 255.10M371.61 255.10L380.61 246.10" stroke="#ff7f0e" stroke-width="1.3" fill="none"/>
<path d="M373.22 246.10L382.22 255.10M373.22 255.10L382.22 246.10" stroke="#ff7f0e" stroke-width="1.3" fill="none"/>
<path d="M374.83 246.10L383.83 255.10M374.83 255.10L383.83 246.10" stroke="#ff7f0e" stroke-width="1.3" fill="none"/>
<path d="M376.44 246.10L385.44 255.10M376.44 255.10L385.44 246.10" stroke="#ff7f0e" stroke-width="1.3" fill="none"/>
<path d="M378.06 246.10L387.06 255.10M378.06 255.10L387.06 246.10" stroke="#ff7f0e" stroke-width="1.3" fill="none"/>
<polygon points="242.31,84.89 236.70,95.15 247.93,95.15" fill="#2ca02c"/>
<polygon points="243.92,98.18 238.31,108.44 249.54,108.44" fill="#2ca02c"/>
<polygon points="245.54,102.76 239.92,113.02 251.15,113.02" fill="#2ca02c"/>
<polygon points="247.15,102.76 241.53,113.02 252.76,113.02" fill="#2ca02c"/>
<polygon points="248.76,102.76 243.14,113.02 254.38,113.02" fill="#2ca02c"/>
<polygon points="250.37,118.72 244.76,128.98 255.99,128.98" fill="#2ca02c"/>
<polygon points="251.98,118.72 246.37,128.98 257.60,128.98" fill="#2ca02c"/>
<polygon points="253.60,118.72 247.98,128.98 259.21,128.98" fill="#2ca02c"/>
<polygon points="255.21,135.59 249.59,145.85 260.82,145.85" fill="#2ca02c"/>
<polygon points="256.82,135.59 251.20,145.85 262.44,145.85" fill="#2ca02c"/>
<polygon points="258.43,135.59 252.82,145.85 264.05,145.85" fill="#2ca02c"/>
<polygon points="260.04,148.07 254.43,158.33 265.66,158.33" fill="#2ca02c"/>
<polygon points="261.66,148.07 256.04,158.33 267.27,158.33" fill="#2ca02c"/>
<polygon points="263.27,148.07 257.65,158.33 268.88,158.33" fill="#2ca02c"/>
<polygon points="264.88,160.59 259.26,170.85 270.50,170.85" fill="#2ca02c"/>
<polygon points="266.49,160.59 260.88,170.85 272.11,170.85" fill="#2ca02c"/>
<polygon points="268.10,160.59 262.49,170.85 273.72,170.85" fill="#2ca02c"/>
<polygon points="269.72,175.18 264.10,185.44 275.33,185.44" fill="#2ca02c"/>
<polygon points="271.33,175.18 265.71,185.44 276.94,185.44" fill="#2ca02c"/>
<polygon points="272.94,175.18 267.32,185.44 278.56,185.44" fill="#2ca02c"/>
<polygon points="274.55,189.61 268.94,199.87 280.17,199.87" fill="#2ca02c"/>
<polygon points="276.16,189.61 270.55,199.87 281.78,199.87" fill="#2ca02c"/>
<polygon points="277.78,189.61 272.16,199.87 283.39,199.87" fill="#2ca02c"/>
<polygon points="279.39,203.95 273.77,214.21 285.00,214.21" fill="#2ca02c"/>
<polygon points="281.00,203.95 275.38,214.21 286.62,214.21" fill="#2ca02c"/>
<polygon points="282.61,203.95 277.00,214.21 288.23,214.21" fill="#2ca02c"/>
<polygon points="284.22,215.02 278.61,225.28 289.84,225.28" fill="#2ca02c"/>
<polygon points="285.84,215.02 280.22,225.28 291.45,225.28" fill="#2ca02c"/>
<polygon points="287.45,215.02 281.83,225.28 293.06,225.28" fill="#2ca02c"/>
<polygon points="289.06,223.78 283.44,234.04 294.68,234.04" fill="#2ca02c"/>
<polygon points="290.67,223.78 285.06,234.04 296.29,234.04" fill="#2ca02c"/>
<polygon points="292.28,223.78 286.67,234.04 297.90,234.04" fill="#2ca02c"/>
<polygon points="293.90,231.59 288.28,241.85 299.51,241.85" fill="#2ca02c"/>
<polygon points="295.51,231.59 289.89,241.85 301.12,241.85" fill="#2ca02c"/>
<polygon points="297.12,231.59 291.50,241.85 302.74,241.85" fill="#2ca02c"/>
<polygon points="298.73,238.96 293.12,249.22 304.35,249.22" fill="#2ca02c"/>
<polygon points="300.34,238.96 294.73,249.22 305.96,249.22" fill="#2ca02c"/>
<polygon points="301.96,238.96 296.34,249.22 307.57,249.22" fill="#2ca02c"/>
<polygon points="303.57,245.20 297.95,255.46 309.18,255.46" fill="#2ca02c"/>
<polygon points="305.18,245.20 299.56,255.46 310.80,255.46" fill="#2ca02c"/>
<polygon points="306.79,245.20 301.18,255.46 312.41,255.46" fill="#2ca02c"/>
<polygon points="308.40,245.20 302.79,255.46 314.02,255.46" fill="#2ca02c"/>
<polygon points="310.02,245.20 304.40,255.46 315.63,255.46" fill="#2ca02c"/>
<polygon points="311.63,245.20 306.01,255.46 317.24,255.46" fill="#2ca02c"/>
<polygon points="313.24,245.20 307.62,255.46 318.86,255.46" fill="#2ca02c"/>
<polygon points="314.85,245.20 309.24,255.46 320.47,255.46" fill="#2ca02c"/>
<polygon points="316.46,245.20 310.85,255.46 322.08,255.46" fill="#2ca02c"/>
<polygon points="318.08,245.20 312.46,255.46 323.69,255.46" fill="#2ca02c"/>
<polygon points="319.69,245.20 314.07,255.46 325.30,255.46" fill="#2ca02c"/>
<polygon points="321.30,245.20 315.68,255.46 326.92,255.46" fill="#2ca02c"/>
<polygon points="322.91,245.20 317.30,255.46 328.53,255.46" fill="#2ca02c"/>
<polygon points="324.52,245.20 318.91,255.46 330.14,255.46" fill="#2ca02c"/>
<polygon points="326.14,245.20 320.52,255.46 331.75,255.46" fill="#2ca02c"/>
<polygon points="327.75,245.20 322.13,255.46 333.36,255.46" fill="#2ca02c"/>
<polygon points="329.36,245.20 323.74,255.46 334.98,255.46" fill="#2ca02c"/>
<polygon points="330.97,245.20 325.36,255.46 336.59,255.46" fill="#2ca02c"/>
<polygon points="332.58,245.20 326.97,255.46 338.20,255.46" fill="#2ca02c"/>
<polygon points="334.20,245.20 328.58,255.46 339.81,255.46" fill="#2ca02c"/>
<polygon points="335.81,245.20 330.19,255.46 341.42,255.46" fill="#2ca02c"/>
<polygon points="337.42,245.20 331.80,255.46 343.04,255.46" fill="#2ca02c"/>
<polygon points="339.03,245.20 333.42,255.46 344.65,255.46" fill="#2ca02c"/>
<polygon points="340.64,245.20 335.03,255.46 346.26,255.46" fill="#2ca02c"/>
<polygon points="342.26,245.20 336.64,255.46 347.87,255.46" fill="#2ca02c"/>
<rect x="237.41" y="114.39" width="9.80" height="9.80" fill="#d62728"/>
<rect x="239.02" y="134.53" width="9.80" height="9.80" fill="#d62728"/>
<rect x="240.64" y="162.32" width="9.80" height="9.80" fill="#d62728"/>
<rect x="242.25" y="175.81" width="9.80" height="9.80" fill="#d62728"/>
<rect x="243.86" y="183.47" width="9.80" height="9.80" fill="#d62728"/>
<rect x="245.47" y="195.35" width="9.80" height="9.80" fill="#d62728"/>
<rect x="247.08" y="217.71" width="9.80" height="9.80" fill="#d62728"/>
<rect x="248.70" y="217.71" width="9.80" height="9.80" fill="#d62728"/>
<rect x="250.31" y="219.58" width="9.80" height="9.80" fill="#d62728"/>
<rect x="251.92" y="219.58" width="9.80" height="9.80" fill="#d62728"/>
<rect x="253.53" y="225.93" width="9.80" height="9.80" fill="#d62728"/>
<rect x="255.14" y="225.93" width="9.80" height="9.80" fill="#d62728"/>
<rect x="256.76" y="233.18" width="9.80" height="9.80" fill="#d62728"/>
<rect x="258.37" y="233.18" width="9.80" height="9.80" fill="#d62728"/>
<rect x="259.98" y="238.25" width="9.80" height="9.80" fill="#d62728"/>
<rect x="261.59" y="238.25" width="9.80" height="9.80" fill="#d62728"/>
<rect x="263.20" y="241.60" width="9.80" height="9.80" fill="#d62728"/>
<rect x="264.82" y="241.60" width="9.80" height="9.80" fill="#d62728"/>
<rect x="266.43" y="242.28" width="9.80" height="9.80" fill="#d62728"/>
</g>
<rect x="316.40" y="47.50" width="108.10" height="92.60" rx="3" ry="3" fill="#fff" fill-opacity="0.8" stroke="#cccccc" stroke-width="1.1"/>
<circle cx="337.50" cy="59.50" r="4.80" fill="#1f77b4"/>
<text x="364.20" y="64.30" font-size="16"><tspan font-style="italic">m</tspan><tspan dx="2.4">=</tspan><tspan dx="1.9">2</tspan></text>
<path d="M333.00 77.40L342.00 86.40M333.00 86.40L342.00 77.40" stroke="#ff7f0e" stroke-width="1.3" fill="none"/>
<text x="364.20" y="86.70" font-size="16"><tspan font-style="italic">m</tspan><tspan dx="2.4">=</tspan><tspan dx="1.9">4</tspan></text>
<polygon points="337.50,98.50 331.88,108.76 343.12,108.76" fill="#2ca02c"/>
<text x="364.20" y="108.70" font-size="16"><tspan font-style="italic">m</tspan><tspan dx="2.4">=</tspan><tspan dx="1.9">6</tspan></text>
<rect x="332.60" y="121.20" width="9.80" height="9.80" fill="#d62728"/>
<text x="364.20" y="130.90" font-size="16"><tspan font-style="italic">m</tspan><tspan dx="2.4">=</tspan><tspan dx="1.9">14</tspan></text>
<rect x="233.70" y="39.70" width="198.60" height="218.50" fill="none" stroke="#111" stroke-width="1.1"/>
<line x1="228.70" y1="49.20" x2="233.70" y2="49.20" stroke="#333" stroke-width="1.1"/>
<text x="224.30" y="57.23" font-size="22" text-anchor="end">1.0</text>
<line x1="228.70" y1="149.90" x2="233.70" y2="149.90" stroke="#333" stroke-width="1.1"/>
<text x="224.30" y="157.93" font-size="22" text-anchor="end">0.5</text>
<line x1="228.70" y1="250.60" x2="233.70" y2="250.60" stroke="#333" stroke-width="1.1"/>
<text x="224.30" y="258.63" font-size="22" text-anchor="end">0.0</text>
<line x1="240.70" y1="258.20" x2="240.70" y2="263.20" stroke="#333" stroke-width="1.1"/>
<text x="240.70" y="286.00" font-size="22" text-anchor="middle">0</text>
<line x1="321.30" y1="258.20" x2="321.30" y2="263.20" stroke="#333" stroke-width="1.1"/>
<text x="321.30" y="286.00" font-size="22" text-anchor="middle">50</text>
<line x1="401.90" y1="258.20" x2="401.90" y2="263.20" stroke="#333" stroke-width="1.1"/>
<text x="401.90" y="286.00" font-size="22" text-anchor="middle">100</text>
<text x="173.70" y="149.00" font-size="24" text-anchor="middle" transform="rotate(-90 173.70 149.00)"><tspan font-style="italic">n</tspan><tspan font-size="17" dy="5.5">(<tspan font-style="italic">k</tspan>, <tspan font-style="italic">m</tspan>)</tspan></text>
<text x="332.00" y="311.40" font-size="25" text-anchor="middle" font-style="italic">k</text>
<rect x="463.50" y="41.50" width="18.10" height="354.10" fill="url(#gma)"/>
<rect x="463.50" y="395.40" width="18.10" height="2.20" fill="#f4f4f4"/>
<line x1="463.50" y1="395.20" x2="481.60" y2="395.20" stroke="#888" stroke-width="0.6"/>
<rect x="463.50" y="41.50" width="18.10" height="356.10" fill="none" stroke="#333" stroke-width="1"/>
<line x1="481.60" y1="41.50" x2="486.60" y2="41.50" stroke="#333" stroke-width="1.1"/>
<line x1="481.60" y1="228.30" x2="486.60" y2="228.30" stroke="#333" stroke-width="1.1"/>
<line x1="481.60" y1="172.07" x2="484.60" y2="172.07" stroke="#333" stroke-width="0.9"/>
<line x1="481.60" y1="139.17" x2="484.60" y2="139.17" stroke="#333" stroke-width="0.9"/>
<line x1="481.60" y1="115.84" x2="484.60" y2="115.84" stroke="#333" stroke-width="0.9"/>
<line x1="481.60" y1="97.73" x2="484.60" y2="97.73" stroke="#333" stroke-width="0.9"/>
<line x1="481.60" y1="82.94" x2="484.60" y2="82.94" stroke="#333" stroke-width="0.9"/>
<line x1="481.60" y1="70.44" x2="484.60" y2="70.44" stroke="#333" stroke-width="0.9"/>
<line x1="481.60" y1="59.60" x2="484.60" y2="59.60" stroke="#333" stroke-width="0.9"/>
<line x1="481.60" y1="50.05" x2="484.60" y2="50.05" stroke="#333" stroke-width="0.9"/>
<line x1="481.60" y1="358.87" x2="484.60" y2="358.87" stroke="#333" stroke-width="0.9"/>
<line x1="481.60" y1="325.97" x2="484.60" y2="325.97" stroke="#333" stroke-width="0.9"/>
<line x1="481.60" y1="302.64" x2="484.60" y2="302.64" stroke="#333" stroke-width="0.9"/>
<line x1="481.60" y1="284.53" x2="484.60" y2="284.53" stroke="#333" stroke-width="0.9"/>
<line x1="481.60" y1="269.74" x2="484.60" y2="269.74" stroke="#333" stroke-width="0.9"/>
<line x1="481.60" y1="257.24" x2="484.60" y2="257.24" stroke="#333" stroke-width="0.9"/>
<line x1="481.60" y1="246.40" x2="484.60" y2="246.40" stroke="#333" stroke-width="0.9"/>
<line x1="481.60" y1="236.85" x2="484.60" y2="236.85" stroke="#333" stroke-width="0.9"/>
<text x="490.80" y="49.80" font-size="24">10<tspan font-size="17.3" dy="-9.0">0</tspan></text>
<text x="491.20" y="236.80" font-size="24">10<tspan font-size="17.3" dy="-9.0">−1</tspan></text>
<text x="452.30" y="15.60" font-size="28"><tspan font-style="italic">n</tspan><tspan font-size="19.6" dy="3.7">(<tspan font-style="italic">k</tspan>, <tspan font-style="italic">m</tspan>)</tspan></text>
<g shape-rendering="crispEdges">
<rect x="634.60" y="395.03" width="2.38" height="16.27" fill="#e8f1f5"/>
<rect x="636.68" y="395.03" width="2.38" height="16.27" fill="#e5eff5"/>
<rect x="638.75" y="395.03" width="2.38" height="16.27" fill="#eff4f6"/>
<rect x="640.83" y="395.03" width="2.38" height="16.27" fill="#e3eef4"/>
<rect x="642.91" y="395.03" width="2.38" height="16.27" fill="#ecf2f6"/>
<rect x="644.99" y="395.03" width="2.38" height="16.27" fill="#e8f1f5"/>
<rect x="647.06" y="395.03" width="2.38" height="16.27" fill="#e2eef4"/>
<rect x="649.14" y="395.03" width="2.38" height="16.27" fill="#f5f7f8"/>
<rect x="651.22" y="395.03" width="2.38" height="16.27" fill="#ecf2f6"/>
<rect x="653.29" y="395.03" width="2.38" height="16.27" fill="#f4f6f7"/>
<rect x="655.37" y="395.03" width="2.38" height="16.27" fill="#ecf2f6"/>
<rect x="657.45" y="395.03" width="2.38" height="16.27" fill="#edf3f6"/>
<rect x="659.53" y="395.03" width="2.38" height="16.27" fill="#f4f6f7"/>
<rect x="661.60" y="395.03" width="2.38" height="16.27" fill="#f8f8f7"/>
<rect x="663.68" y="395.03" width="2.38" height="16.27" fill="#edf3f6"/>
<rect x="665.76" y="395.03" width="2.38" height="16.27" fill="#f0f4f7"/>
<rect x="667.84" y="395.03" width="2.38" height="16.27" fill="#f8f8f8"/>
<rect x="669.91" y="395.03" width="2.38" height="16.27" fill="#f8f8f7"/>
<rect x="671.99" y="395.03" width="2.38" height="16.27" fill="#f6f7f8"/>
<rect x="674.07" y="395.03" width="2.38" height="16.27" fill="#e6f0f5"/>
<rect x="676.14" y="395.03" width="2.38" height="16.27" fill="#f1f5f7"/>
<rect x="678.22" y="395.03" width="2.38" height="16.27" fill="#e0ecf4"/>
<rect x="680.30" y="395.03" width="2.38" height="16.27" fill="#eff4f6"/>
<rect x="682.38" y="395.03" width="2.38" height="16.27" fill="#e3eef4"/>
<rect x="684.45" y="395.03" width="4.45" height="16.27" fill="#e1edf4"/>
<rect x="688.61" y="395.03" width="2.38" height="16.27" fill="#e5eff5"/>
<rect x="690.68" y="395.03" width="2.38" height="16.27" fill="#eff4f6"/>
<rect x="692.76" y="395.03" width="2.38" height="16.27" fill="#e2eef4"/>
<rect x="694.84" y="395.03" width="2.38" height="16.27" fill="#eaf1f6"/>
<rect x="696.92" y="395.03" width="2.38" height="16.27" fill="#ebf2f6"/>
<rect x="698.99" y="395.03" width="2.38" height="16.27" fill="#e6f0f5"/>
<rect x="701.07" y="395.03" width="2.38" height="16.27" fill="#e8f1f5"/>
<rect x="703.15" y="395.03" width="4.45" height="16.27" fill="#e0ecf4"/>
<rect x="707.30" y="395.03" width="2.38" height="16.27" fill="#e2eef4"/>
<rect x="709.38" y="395.03" width="2.38" height="16.27" fill="#ebf2f6"/>
<rect x="711.46" y="395.03" width="2.38" height="16.27" fill="#e7f0f5"/>
<rect x="713.53" y="395.03" width="2.38" height="16.27" fill="#e5eff5"/>
<rect x="715.61" y="395.03" width="2.38" height="16.27" fill="#eaf1f6"/>
<rect x="717.69" y="395.03" width="2.38" height="16.27" fill="#e7f0f5"/>
<rect x="719.77" y="395.03" width="4.45" height="16.27" fill="#e5eff5"/>
<rect x="723.92" y="395.03" width="2.38" height="16.27" fill="#e2eef4"/>
<rect x="726.00" y="395.03" width="2.38" height="16.27" fill="#d9eaf2"/>
<rect x="728.07" y="395.03" width="2.38" height="16.27" fill="#e0ecf4"/>
<rect x="730.15" y="395.03" width="2.38" height="16.27" fill="#deecf3"/>
<rect x="732.23" y="395.03" width="2.38" height="16.27" fill="#dcebf3"/>
<rect x="734.31" y="395.03" width="2.38" height="16.27" fill="#d9eaf2"/>
<rect x="736.38" y="395.03" width="2.38" height="16.27" fill="#cbe3ef"/>
<rect x="738.46" y="395.03" width="2.38" height="16.27" fill="#deecf3"/>
<rect x="740.54" y="395.03" width="2.38" height="16.27" fill="#c5dfed"/>
<rect x="742.62" y="395.03" width="2.38" height="16.27" fill="#d0e5f0"/>
<rect x="744.69" y="395.03" width="2.38" height="16.27" fill="#d9eaf2"/>
<rect x="746.77" y="395.03" width="2.38" height="16.27" fill="#c7e0ed"/>
<rect x="748.85" y="395.03" width="2.38" height="16.27" fill="#d2e6f0"/>
<rect x="750.92" y="395.03" width="2.38" height="16.27" fill="#c3deec"/>
<rect x="753.00" y="395.03" width="2.38" height="16.27" fill="#d8e9f2"/>
<rect x="755.08" y="395.03" width="2.38" height="16.27" fill="#d9eaf2"/>
<rect x="757.16" y="395.03" width="2.38" height="16.27" fill="#d4e7f1"/>
<rect x="759.23" y="395.03" width="2.38" height="16.27" fill="#dcebf3"/>
<rect x="761.31" y="395.03" width="2.38" height="16.27" fill="#5393c4"/>
<rect x="763.39" y="395.03" width="2.38" height="16.27" fill="#5a9cc8"/>
<rect x="765.46" y="395.03" width="4.45" height="16.27" fill="#5799c7"/>
<rect x="769.62" y="395.03" width="2.38" height="16.27" fill="#5596c5"/>
<rect x="771.70" y="395.03" width="2.38" height="16.27" fill="#5c9fca"/>
<rect x="773.77" y="395.03" width="2.38" height="16.27" fill="#5ea2cb"/>
<rect x="775.85" y="395.03" width="2.38" height="16.27" fill="#5697c6"/>
<rect x="777.93" y="395.03" width="2.38" height="16.27" fill="#5a9cc8"/>
<rect x="780.01" y="395.03" width="2.38" height="16.27" fill="#4e8dc1"/>
<rect x="782.08" y="395.03" width="2.38" height="16.27" fill="#5a9cc8"/>
<rect x="784.16" y="395.03" width="2.38" height="16.27" fill="#589ac7"/>
<rect x="786.24" y="395.03" width="2.38" height="16.27" fill="#5fa3cc"/>
<rect x="788.31" y="395.03" width="2.38" height="16.27" fill="#6cacd0"/>
<rect x="790.39" y="395.03" width="2.38" height="16.27" fill="#5b9dc9"/>
<rect x="792.47" y="395.03" width="2.38" height="16.27" fill="#5da0ca"/>
<rect x="794.55" y="395.03" width="2.38" height="16.27" fill="#64a7ce"/>
<rect x="796.62" y="395.03" width="2.38" height="16.27" fill="#5697c6"/>
<rect x="798.70" y="395.03" width="2.38" height="16.27" fill="#5ea2cb"/>
<rect x="800.78" y="395.03" width="2.38" height="16.27" fill="#5a9cc8"/>
<rect x="802.85" y="395.03" width="2.38" height="16.27" fill="#589ac7"/>
<rect x="804.93" y="395.03" width="2.38" height="16.27" fill="#5799c7"/>
<rect x="807.01" y="395.03" width="2.38" height="16.27" fill="#589ac7"/>
<rect x="809.09" y="395.03" width="2.38" height="16.27" fill="#4d8bc0"/>
<rect x="811.16" y="395.03" width="2.38" height="16.27" fill="#4f8ec1"/>
<rect x="813.24" y="395.03" width="2.38" height="16.27" fill="#5291c3"/>
<rect x="815.32" y="395.03" width="2.38" height="16.27" fill="#5a9cc8"/>
<rect x="817.39" y="395.03" width="2.38" height="16.27" fill="#4c8abf"/>
<rect x="819.47" y="395.03" width="2.38" height="16.27" fill="#5393c4"/>
<rect x="821.55" y="395.03" width="2.38" height="16.27" fill="#5494c4"/>
<rect x="823.63" y="395.03" width="2.38" height="16.27" fill="#5a9cc8"/>
<rect x="825.70" y="395.03" width="2.38" height="16.27" fill="#3f77b0"/>
<rect x="827.78" y="395.03" width="2.38" height="16.27" fill="#4078b2"/>
<rect x="829.86" y="395.03" width="2.38" height="16.27" fill="#38689c"/>
<rect x="831.94" y="395.03" width="2.38" height="16.27" fill="#396ca1"/>
<rect x="834.01" y="395.03" width="2.38" height="16.27" fill="#396a9e"/>
<rect x="836.09" y="395.03" width="2.38" height="16.27" fill="#4078b2"/>
<rect x="838.17" y="395.03" width="2.38" height="16.27" fill="#94c5de"/>
<rect x="840.24" y="395.03" width="2.38" height="16.27" fill="#72afd2"/>
<rect x="842.32" y="395.03" width="6.53" height="16.27" fill="#74b1d3"/>
<rect x="848.55" y="395.03" width="2.38" height="16.27" fill="#7fb7d7"/>
<rect x="850.63" y="395.03" width="2.38" height="16.27" fill="#84bbd9"/>
<rect x="852.71" y="395.03" width="2.38" height="16.27" fill="#99c8e0"/>
<rect x="854.78" y="395.03" width="2.38" height="16.27" fill="#8fc1dc"/>
<rect x="856.86" y="395.03" width="2.38" height="16.27" fill="#9ecbe2"/>
<rect x="858.94" y="395.03" width="2.38" height="16.27" fill="#9ccae1"/>
<rect x="861.02" y="395.03" width="2.38" height="16.27" fill="#a3cee3"/>
<rect x="863.09" y="395.03" width="2.38" height="16.27" fill="#b0d5e7"/>
<rect x="865.17" y="395.03" width="2.38" height="16.27" fill="#a8d0e4"/>
<rect x="867.25" y="395.03" width="2.38" height="16.27" fill="#315c8a"/>
<rect x="869.33" y="395.03" width="2.38" height="16.27" fill="#335f8f"/>
<rect x="871.40" y="395.03" width="2.38" height="16.27" fill="#346192"/>
<rect x="873.48" y="395.03" width="2.38" height="16.27" fill="#2b4f79"/>
<rect x="875.56" y="395.03" width="2.38" height="16.27" fill="#376699"/>
<rect x="877.63" y="395.03" width="2.38" height="16.27" fill="#5393c4"/>
<rect x="879.71" y="395.03" width="2.38" height="16.27" fill="#5494c4"/>
<rect x="881.79" y="395.03" width="2.38" height="16.27" fill="#5393c4"/>
<rect x="883.87" y="395.03" width="4.45" height="16.27" fill="#4c8abf"/>
<rect x="888.02" y="395.03" width="2.38" height="16.27" fill="#4682bb"/>
<rect x="890.10" y="395.03" width="2.38" height="16.27" fill="#4f8ec1"/>
<rect x="892.17" y="395.03" width="2.38" height="16.27" fill="#4682bb"/>
<rect x="894.25" y="395.03" width="2.38" height="16.27" fill="#91c3dd"/>
<rect x="896.33" y="395.03" width="2.38" height="16.27" fill="#97c6df"/>
<rect x="898.41" y="395.03" width="2.38" height="16.27" fill="#94c5de"/>
<rect x="900.48" y="395.03" width="2.38" height="16.27" fill="#9ccae1"/>
<rect x="902.56" y="395.03" width="4.45" height="16.27" fill="#8fc1dc"/>
<rect x="906.72" y="395.03" width="2.38" height="16.27" fill="#94c5de"/>
<rect x="908.79" y="395.03" width="2.38" height="16.27" fill="#91c3dd"/>
<rect x="910.87" y="395.03" width="2.38" height="16.27" fill="#9ccae1"/>
<rect x="912.95" y="395.03" width="2.38" height="16.27" fill="#d4e7f1"/>
<rect x="915.02" y="395.03" width="2.38" height="16.27" fill="#e6f0f5"/>
<rect x="917.10" y="395.03" width="2.38" height="16.27" fill="#e1edf4"/>
<rect x="919.18" y="395.03" width="2.38" height="16.27" fill="#d8e9f2"/>
<rect x="921.26" y="395.03" width="2.38" height="16.27" fill="#d9eaf2"/>
<rect x="923.33" y="395.03" width="2.38" height="16.27" fill="#bddbea"/>
<rect x="925.41" y="395.03" width="2.38" height="16.27" fill="#bfdceb"/>
<rect x="927.49" y="395.03" width="2.38" height="16.27" fill="#b6d8e9"/>
<rect x="929.56" y="395.03" width="2.38" height="16.27" fill="#cde4ef"/>
<rect x="931.64" y="395.03" width="2.38" height="16.27" fill="#d2e6f0"/>
<rect x="933.72" y="395.03" width="4.45" height="16.27" fill="#c1ddec"/>
<rect x="937.87" y="395.03" width="2.38" height="16.27" fill="#b4d7e8"/>
<rect x="939.95" y="395.03" width="2.38" height="16.27" fill="#b6d8e9"/>
<rect x="942.03" y="395.03" width="2.38" height="16.27" fill="#bddbea"/>
<rect x="944.11" y="395.03" width="2.38" height="16.27" fill="#bbdaea"/>
<rect x="946.18" y="395.03" width="2.38" height="16.27" fill="#eff4f6"/>
<rect x="948.26" y="395.03" width="2.38" height="16.27" fill="#e1edf4"/>
<rect x="950.34" y="395.03" width="2.38" height="16.27" fill="#deecf3"/>
<rect x="634.60" y="379.07" width="2.38" height="16.27" fill="#f1f5f7"/>
<rect x="636.68" y="379.07" width="2.38" height="16.27" fill="#e8f1f5"/>
<rect x="638.75" y="379.07" width="2.38" height="16.27" fill="#e1edf4"/>
<rect x="640.83" y="379.07" width="2.38" height="16.27" fill="#e8f1f5"/>
<rect x="642.91" y="379.07" width="2.38" height="16.27" fill="#deecf3"/>
<rect x="644.99" y="379.07" width="2.38" height="16.27" fill="#e8f1f5"/>
<rect x="647.06" y="379.07" width="2.38" height="16.27" fill="#f1f5f7"/>
<rect x="649.14" y="379.07" width="2.38" height="16.27" fill="#eff4f6"/>
<rect x="651.22" y="379.07" width="2.38" height="16.27" fill="#ecf2f6"/>
<rect x="653.29" y="379.07" width="2.38" height="16.27" fill="#e3eef4"/>
<rect x="655.37" y="379.07" width="2.38" height="16.27" fill="#e6f0f5"/>
<rect x="657.45" y="379.07" width="2.38" height="16.27" fill="#e2eef4"/>
<rect x="659.53" y="379.07" width="2.38" height="16.27" fill="#edf3f6"/>
<rect x="661.60" y="379.07" width="2.38" height="16.27" fill="#e8f1f5"/>
<rect x="663.68" y="379.07" width="2.38" height="16.27" fill="#edf3f6"/>
<rect x="665.76" y="379.07" width="2.38" height="16.27" fill="#e5eff5"/>
<rect x="667.84" y="379.07" width="2.38" height="16.27" fill="#e2eef4"/>
<rect x="669.91" y="379.07" width="2.38" height="16.27" fill="#edf3f6"/>
<rect x="671.99" y="379.07" width="2.38" height="16.27" fill="#f1f5f7"/>
<rect x="674.07" y="379.07" width="2.38" height="16.27" fill="#eff4f6"/>
<rect x="676.14" y="379.07" width="2.38" height="16.27" fill="#edf3f6"/>
<rect x="678.22" y="379.07" width="2.38" height="16.27" fill="#d8e9f2"/>
<rect x="680.30" y="379.07" width="2.38" height="16.27" fill="#d4e7f1"/>
<rect x="682.38" y="379.07" width="2.38" height="16.27" fill="#c5dfed"/>
<rect x="684.45" y="379.07" width="2.38" height="16.27" fill="#cde4ef"/>
<rect x="686.53" y="379.07" width="2.38" height="16.27" fill="#c9e1ee"/>
<rect x="688.61" y="379.07" width="4.45" height="16.27" fill="#bfdceb"/>
<rect x="692.76" y="379.07" width="4.45" height="16.27" fill="#c5dfed"/>
<rect x="696.92" y="379.07" width="2.38" height="16.27" fill="#d4e7f1"/>
<rect x="698.99" y="379.07" width="2.38" height="16.27" fill="#daeaf3"/>
<rect x="701.07" y="379.07" width="2.38" height="16.27" fill="#cbe3ef"/>
<rect x="703.15" y="379.07" width="2.38" height="16.27" fill="#d9eaf2"/>
<rect x="705.23" y="379.07" width="4.45" height="16.27" fill="#daeaf3"/>
<rect x="709.38" y="379.07" width="2.38" height="16.27" fill="#c9e1ee"/>
<rect x="711.46" y="379.07" width="2.38" height="16.27" fill="#c3deec"/>
<rect x="713.53" y="379.07" width="2.38" height="16.27" fill="#c5dfed"/>
<rect x="715.61" y="379.07" width="4.45" height="16.27" fill="#c3deec"/>
<rect x="719.77" y="379.07" width="2.38" height="16.27" fill="#d2e6f0"/>
<rect x="721.84" y="379.07" width="2.38" height="16.27" fill="#4682bb"/>
<rect x="723.92" y="379.07" width="2.38" height="16.27" fill="#4581ba"/>
<rect x="726.00" y="379.07" width="2.38" height="16.27" fill="#3f77b0"/>
<rect x="728.07" y="379.07" width="2.38" height="16.27" fill="#427cb7"/>
<rect x="730.15" y="379.07" width="2.38" height="16.27" fill="#447fba"/>
<rect x="732.23" y="379.07" width="2.38" height="16.27" fill="#396ca1"/>
<rect x="734.31" y="379.07" width="2.38" height="16.27" fill="#5c9fca"/>
<rect x="736.38" y="379.07" width="2.38" height="16.27" fill="#62a5cd"/>
<rect x="738.46" y="379.07" width="2.38" height="16.27" fill="#5ea2cb"/>
<rect x="740.54" y="379.07" width="2.38" height="16.27" fill="#5da0ca"/>
<rect x="742.62" y="379.07" width="2.38" height="16.27" fill="#589ac7"/>
<rect x="744.69" y="379.07" width="2.38" height="16.27" fill="#5494c4"/>
<rect x="746.77" y="379.07" width="2.38" height="16.27" fill="#5ea2cb"/>
<rect x="748.85" y="379.07" width="2.38" height="16.27" fill="#5697c6"/>
<rect x="750.92" y="379.07" width="2.38" height="16.27" fill="#5ea2cb"/>
<rect x="753.00" y="379.07" width="2.38" height="16.27" fill="#64a7ce"/>
<rect x="755.08" y="379.07" width="2.38" height="16.27" fill="#5799c7"/>
<rect x="757.16" y="379.07" width="2.38" height="16.27" fill="#5da0ca"/>
<rect x="759.23" y="379.07" width="2.38" height="16.27" fill="#72afd2"/>
<rect x="761.31" y="379.07" width="2.38" height="16.27" fill="#67a8cf"/>
<rect x="763.39" y="379.07" width="2.38" height="16.27" fill="#5a9cc8"/>
<rect x="765.46" y="379.07" width="4.45" height="16.27" fill="#589ac7"/>
<rect x="769.62" y="379.07" width="2.38" height="16.27" fill="#6fadd1"/>
<rect x="771.70" y="379.07" width="2.38" height="16.27" fill="#6aaad0"/>
<rect x="773.77" y="379.07" width="2.38" height="16.27" fill="#589ac7"/>
<rect x="775.85" y="379.07" width="2.38" height="16.27" fill="#6cacd0"/>
<rect x="777.93" y="379.07" width="2.38" height="16.27" fill="#72afd2"/>
<rect x="780.01" y="379.07" width="2.38" height="16.27" fill="#64a7ce"/>
<rect x="782.08" y="379.07" width="2.38" height="16.27" fill="#5c9fca"/>
<rect x="784.16" y="379.07" width="2.38" height="16.27" fill="#5fa3cc"/>
<rect x="786.24" y="379.07" width="2.38" height="16.27" fill="#589ac7"/>
<rect x="788.31" y="379.07" width="2.38" height="16.27" fill="#64a7ce"/>
<rect x="790.39" y="379.07" width="2.38" height="16.27" fill="#8cc0db"/>
<rect x="792.47" y="379.07" width="2.38" height="16.27" fill="#7fb7d7"/>
<rect x="794.55" y="379.07" width="2.38" height="16.27" fill="#7ab4d5"/>
<rect x="796.62" y="379.07" width="2.38" height="16.27" fill="#8cc0db"/>
<rect x="798.70" y="379.07" width="2.38" height="16.27" fill="#77b2d4"/>
<rect x="800.78" y="379.07" width="2.38" height="16.27" fill="#89beda"/>
<rect x="802.85" y="379.07" width="2.38" height="16.27" fill="#87bcda"/>
<rect x="804.93" y="379.07" width="4.45" height="16.27" fill="#6fadd1"/>
<rect x="809.09" y="379.07" width="2.38" height="16.27" fill="#72afd2"/>
<rect x="811.16" y="379.07" width="2.38" height="16.27" fill="#a3cee3"/>
<rect x="813.24" y="379.07" width="2.38" height="16.27" fill="#b0d5e7"/>
<rect x="815.32" y="379.07" width="2.38" height="16.27" fill="#a6cfe4"/>
<rect x="817.39" y="379.07" width="2.38" height="16.27" fill="#aad1e5"/>
<rect x="819.47" y="379.07" width="2.38" height="16.27" fill="#a1cde3"/>
<rect x="821.55" y="379.07" width="2.38" height="16.27" fill="#bbdaea"/>
<rect x="823.63" y="379.07" width="2.38" height="16.27" fill="#a8d0e4"/>
<rect x="825.70" y="379.07" width="2.38" height="16.27" fill="#acd3e6"/>
<rect x="827.78" y="379.07" width="2.38" height="16.27" fill="#b0d5e7"/>
<rect x="829.86" y="379.07" width="2.38" height="16.27" fill="#bbdaea"/>
<rect x="831.94" y="379.07" width="2.38" height="16.27" fill="#aad1e5"/>
<rect x="834.01" y="379.07" width="2.38" height="16.27" fill="#bbdaea"/>
<rect x="836.09" y="379.07" width="2.38" height="16.27" fill="#acd3e6"/>
<rect x="838.17" y="379.07" width="2.38" height="16.27" fill="#aed4e6"/>
<rect x="840.24" y="379.07" width="2.38" height="16.27" fill="#c3deec"/>
<rect x="842.32" y="379.07" width="2.38" height="16.27" fill="#b2d6e7"/>
<rect x="844.40" y="379.07" width="2.38" height="16.27" fill="#c1ddec"/>
<rect x="846.48" y="379.07" width="2.38" height="16.27" fill="#b8d9e9"/>
<rect x="848.55" y="379.07" width="2.38" height="16.27" fill="#b2d6e7"/>
<rect x="850.63" y="379.07" width="2.38" height="16.27" fill="#cbe3ef"/>
<rect x="852.71" y="379.07" width="2.38" height="16.27" fill="#b8d9e9"/>
<rect x="854.78" y="379.07" width="2.38" height="16.27" fill="#c1ddec"/>
<rect x="856.86" y="379.07" width="2.38" height="16.27" fill="#c9e1ee"/>
<rect x="858.94" y="379.07" width="2.38" height="16.27" fill="#c5dfed"/>
<rect x="861.02" y="379.07" width="2.38" height="16.27" fill="#bddbea"/>
<rect x="863.09" y="379.07" width="2.38" height="16.27" fill="#c3deec"/>
<rect x="865.17" y="379.07" width="2.38" height="16.27" fill="#c5dfed"/>
<rect x="634.60" y="363.10" width="2.38" height="16.27" fill="#edf3f6"/>
<rect x="636.68" y="363.10" width="2.38" height="16.27" fill="#e1edf4"/>
<rect x="638.75" y="363.10" width="2.38" height="16.27" fill="#eaf1f6"/>
<rect x="640.83" y="363.10" width="4.45" height="16.27" fill="#e3eef4"/>
<rect x="644.99" y="363.10" width="2.38" height="16.27" fill="#edf3f6"/>
<rect x="647.06" y="363.10" width="2.38" height="16.27" fill="#e8f1f5"/>
<rect x="649.14" y="363.10" width="2.38" height="16.27" fill="#eaf1f6"/>
<rect x="651.22" y="363.10" width="2.38" height="16.27" fill="#edf3f6"/>
<rect x="653.29" y="363.10" width="2.38" height="16.27" fill="#f0f4f7"/>
<rect x="655.37" y="363.10" width="2.38" height="16.27" fill="#e7f0f5"/>
<rect x="657.45" y="363.10" width="2.38" height="16.27" fill="#eaf1f6"/>
<rect x="659.53" y="363.10" width="4.45" height="16.27" fill="#e8f1f5"/>
<rect x="663.68" y="363.10" width="2.38" height="16.27" fill="#ecf2f6"/>
<rect x="665.76" y="363.10" width="2.38" height="16.27" fill="#e7f0f5"/>
<rect x="667.84" y="363.10" width="2.38" height="16.27" fill="#e8f1f5"/>
<rect x="669.91" y="363.10" width="2.38" height="16.27" fill="#e7f0f5"/>
<rect x="671.99" y="363.10" width="2.38" height="16.27" fill="#f0f4f7"/>
<rect x="674.07" y="363.10" width="2.38" height="16.27" fill="#ecf2f6"/>
<rect x="676.14" y="363.10" width="2.38" height="16.27" fill="#eff4f6"/>
<rect x="678.22" y="363.10" width="2.38" height="16.27" fill="#f0f4f7"/>
<rect x="680.30" y="363.10" width="2.38" height="16.27" fill="#e3eef4"/>
<rect x="682.38" y="363.10" width="2.38" height="16.27" fill="#eaf1f6"/>
<rect x="684.45" y="363.10" width="2.38" height="16.27" fill="#f1f5f7"/>
<rect x="686.53" y="363.10" width="2.38" height="16.27" fill="#eff4f6"/>
<rect x="688.61" y="363.10" width="4.45" height="16.27" fill="#e1edf4"/>
<rect x="692.76" y="363.10" width="2.38" height="16.27" fill="#e7f0f5"/>
<rect x="694.84" y="363.10" width="2.38" height="16.27" fill="#e0ecf4"/>
<rect x="696.92" y="363.10" width="2.38" height="16.27" fill="#e3eef4"/>
<rect x="698.99" y="363.10" width="2.38" height="16.27" fill="#4682bb"/>
<rect x="701.07" y="363.10" width="2.38" height="16.27" fill="#5090c2"/>
<rect x="703.15" y="363.10" width="2.38" height="16.27" fill="#5393c4"/>
<rect x="705.23" y="363.10" width="2.38" height="16.27" fill="#5494c4"/>
<rect x="707.30" y="363.10" width="2.38" height="16.27" fill="#4784bc"/>
<rect x="709.38" y="363.10" width="2.38" height="16.27" fill="#5291c3"/>
<rect x="711.46" y="363.10" width="2.38" height="16.27" fill="#5090c2"/>
<rect x="713.53" y="363.10" width="2.38" height="16.27" fill="#4784bc"/>
<rect x="715.61" y="363.10" width="2.38" height="16.27" fill="#5494c4"/>
<rect x="717.69" y="363.10" width="2.38" height="16.27" fill="#5697c6"/>
<rect x="719.77" y="363.10" width="2.38" height="16.27" fill="#5494c4"/>
<rect x="721.84" y="363.10" width="2.38" height="16.27" fill="#64a7ce"/>
<rect x="723.92" y="363.10" width="2.38" height="16.27" fill="#5799c7"/>
<rect x="726.00" y="363.10" width="2.38" height="16.27" fill="#589ac7"/>
<rect x="728.07" y="363.10" width="2.38" height="16.27" fill="#64a7ce"/>
<rect x="730.15" y="363.10" width="2.38" height="16.27" fill="#5fa3cc"/>
<rect x="732.23" y="363.10" width="2.38" height="16.27" fill="#5393c4"/>
<rect x="734.31" y="363.10" width="2.38" height="16.27" fill="#589ac7"/>
<rect x="736.38" y="363.10" width="2.38" height="16.27" fill="#a3cee3"/>
<rect x="738.46" y="363.10" width="2.38" height="16.27" fill="#9ccae1"/>
<rect x="740.54" y="363.10" width="2.38" height="16.27" fill="#97c6df"/>
<rect x="742.62" y="363.10" width="2.38" height="16.27" fill="#9ccae1"/>
<rect x="744.69" y="363.10" width="2.38" height="16.27" fill="#aad1e5"/>
<rect x="746.77" y="363.10" width="2.38" height="16.27" fill="#8fc1dc"/>
<rect x="748.85" y="363.10" width="2.38" height="16.27" fill="#a3cee3"/>
<rect x="750.92" y="363.10" width="2.38" height="16.27" fill="#9ecbe2"/>
<rect x="753.00" y="363.10" width="2.38" height="16.27" fill="#8fc1dc"/>
<rect x="755.08" y="363.10" width="2.38" height="16.27" fill="#9ccae1"/>
<rect x="757.16" y="363.10" width="2.38" height="16.27" fill="#a6cfe4"/>
<rect x="759.23" y="363.10" width="2.38" height="16.27" fill="#a1cde3"/>
<rect x="761.31" y="363.10" width="2.38" height="16.27" fill="#aad1e5"/>
<rect x="763.39" y="363.10" width="2.38" height="16.27" fill="#c7e0ed"/>
<rect x="765.46" y="363.10" width="2.38" height="16.27" fill="#c1ddec"/>
<rect x="767.54" y="363.10" width="2.38" height="16.27" fill="#c7e0ed"/>
<rect x="769.62" y="363.10" width="2.38" height="16.27" fill="#aad1e5"/>
<rect x="771.70" y="363.10" width="2.38" height="16.27" fill="#b0d5e7"/>
<rect x="773.77" y="363.10" width="2.38" height="16.27" fill="#a8d0e4"/>
<rect x="775.85" y="363.10" width="2.38" height="16.27" fill="#c1ddec"/>
<rect x="777.93" y="363.10" width="2.38" height="16.27" fill="#f0f4f7"/>
<rect x="780.01" y="363.10" width="2.38" height="16.27" fill="#edf3f6"/>
<rect x="782.08" y="363.10" width="2.38" height="16.27" fill="#f4f6f7"/>
<rect x="784.16" y="363.10" width="4.45" height="16.27" fill="#f8f8f7"/>
<rect x="788.31" y="363.10" width="2.38" height="16.27" fill="#f0f4f7"/>
<rect x="790.39" y="363.10" width="27.30" height="16.27" fill="#7e2641"/>
<rect x="634.60" y="347.13" width="2.38" height="16.27" fill="#e5eff5"/>
<rect x="636.68" y="347.13" width="2.38" height="16.27" fill="#f4f6f7"/>
<rect x="638.75" y="347.13" width="2.38" height="16.27" fill="#ecf2f6"/>
<rect x="640.83" y="347.13" width="2.38" height="16.27" fill="#eff4f6"/>
<rect x="642.91" y="347.13" width="2.38" height="16.27" fill="#e3eef4"/>
<rect x="644.99" y="347.13" width="2.38" height="16.27" fill="#e2eef4"/>
<rect x="647.06" y="347.13" width="2.38" height="16.27" fill="#eff4f6"/>
<rect x="649.14" y="347.13" width="2.38" height="16.27" fill="#eaf1f6"/>
<rect x="651.22" y="347.13" width="2.38" height="16.27" fill="#e3eef4"/>
<rect x="653.29" y="347.13" width="2.38" height="16.27" fill="#f4f6f7"/>
<rect x="655.37" y="347.13" width="2.38" height="16.27" fill="#edf3f6"/>
<rect x="657.45" y="347.13" width="2.38" height="16.27" fill="#e7f0f5"/>
<rect x="659.53" y="347.13" width="2.38" height="16.27" fill="#d9eaf2"/>
<rect x="661.60" y="347.13" width="2.38" height="16.27" fill="#e8f1f5"/>
<rect x="663.68" y="347.13" width="2.38" height="16.27" fill="#d9eaf2"/>
<rect x="665.76" y="347.13" width="2.38" height="16.27" fill="#e8f1f5"/>
<rect x="667.84" y="347.13" width="2.38" height="16.27" fill="#e1edf4"/>
<rect x="669.91" y="347.13" width="2.38" height="16.27" fill="#deecf3"/>
<rect x="671.99" y="347.13" width="2.38" height="16.27" fill="#e2eef4"/>
<rect x="674.07" y="347.13" width="2.38" height="16.27" fill="#eaf1f6"/>
<rect x="676.14" y="347.13" width="2.38" height="16.27" fill="#ddebf3"/>
<rect x="678.22" y="347.13" width="2.38" height="16.27" fill="#589ac7"/>
<rect x="680.30" y="347.13" width="2.38" height="16.27" fill="#5fa3cc"/>
<rect x="682.38" y="347.13" width="2.38" height="16.27" fill="#5b9dc9"/>
<rect x="684.45" y="347.13" width="4.45" height="16.27" fill="#589ac7"/>
<rect x="688.61" y="347.13" width="2.38" height="16.27" fill="#5799c7"/>
<rect x="690.68" y="347.13" width="2.38" height="16.27" fill="#5a9cc8"/>
<rect x="692.76" y="347.13" width="4.45" height="16.27" fill="#5c9fca"/>
<rect x="696.92" y="347.13" width="2.38" height="16.27" fill="#6aaad0"/>
<rect x="698.99" y="347.13" width="2.38" height="16.27" fill="#5b9dc9"/>
<rect x="701.07" y="347.13" width="2.38" height="16.27" fill="#5fa3cc"/>
<rect x="703.15" y="347.13" width="2.38" height="16.27" fill="#5a9cc8"/>
<rect x="705.23" y="347.13" width="2.38" height="16.27" fill="#5c9fca"/>
<rect x="707.30" y="347.13" width="2.38" height="16.27" fill="#5697c6"/>
<rect x="709.38" y="347.13" width="2.38" height="16.27" fill="#5b9dc9"/>
<rect x="711.46" y="347.13" width="2.38" height="16.27" fill="#5697c6"/>
<rect x="713.53" y="347.13" width="2.38" height="16.27" fill="#67a8cf"/>
<rect x="715.61" y="347.13" width="2.38" height="16.27" fill="#e2eef4"/>
<rect x="717.69" y="347.13" width="2.38" height="16.27" fill="#dcebf3"/>
<rect x="719.77" y="347.13" width="2.38" height="16.27" fill="#e1edf4"/>
<rect x="721.84" y="347.13" width="2.38" height="16.27" fill="#eaf1f6"/>
<rect x="723.92" y="347.13" width="2.38" height="16.27" fill="#daeaf3"/>
<rect x="726.00" y="347.13" width="2.38" height="16.27" fill="#e7f0f5"/>
<rect x="728.07" y="347.13" width="2.38" height="16.27" fill="#e1edf4"/>
<rect x="730.15" y="347.13" width="2.38" height="16.27" fill="#e2eef4"/>
<rect x="732.23" y="347.13" width="2.38" height="16.27" fill="#e8f1f5"/>
<rect x="734.31" y="347.13" width="2.38" height="16.27" fill="#e0ecf4"/>
<rect x="736.38" y="347.13" width="2.38" height="16.27" fill="#e2eef4"/>
<rect x="738.46" y="347.13" width="2.38" height="16.27" fill="#e5eff5"/>
<rect x="740.54" y="347.13" width="2.38" height="16.27" fill="#ebf2f6"/>
<rect x="742.62" y="347.13" width="50.15" height="16.27" fill="#7e2641"/>
<rect x="634.60" y="331.17" width="2.38" height="16.27" fill="#e8f1f5"/>
<rect x="636.68" y="331.17" width="2.38" height="16.27" fill="#f1f5f7"/>
<rect x="638.75" y="331.17" width="2.38" height="16.27" fill="#eff4f6"/>
<rect x="640.83" y="331.17" width="2.38" height="16.27" fill="#edf3f6"/>
<rect x="642.91" y="331.17" width="2.38" height="16.27" fill="#eaf1f6"/>
<rect x="644.99" y="331.17" width="2.38" height="16.27" fill="#e8f1f5"/>
<rect x="647.06" y="331.17" width="2.38" height="16.27" fill="#e2eef4"/>
<rect x="649.14" y="331.17" width="2.38" height="16.27" fill="#e5eff5"/>
<rect x="651.22" y="331.17" width="2.38" height="16.27" fill="#e3eef4"/>
<rect x="653.29" y="331.17" width="2.38" height="16.27" fill="#f0f4f7"/>
<rect x="655.37" y="331.17" width="2.38" height="16.27" fill="#e7f0f5"/>
<rect x="657.45" y="331.17" width="2.38" height="16.27" fill="#e5eff5"/>
<rect x="659.53" y="331.17" width="2.38" height="16.27" fill="#e3eef4"/>
<rect x="661.60" y="331.17" width="4.45" height="16.27" fill="#f2f6f7"/>
<rect x="665.76" y="331.17" width="2.38" height="16.27" fill="#b8d9e9"/>
<rect x="667.84" y="331.17" width="2.38" height="16.27" fill="#acd3e6"/>
<rect x="669.91" y="331.17" width="2.38" height="16.27" fill="#aad1e5"/>
<rect x="671.99" y="331.17" width="2.38" height="16.27" fill="#acd3e6"/>
<rect x="674.07" y="331.17" width="2.38" height="16.27" fill="#b0d5e7"/>
<rect x="676.14" y="331.17" width="2.38" height="16.27" fill="#a8d0e4"/>
<rect x="678.22" y="331.17" width="2.38" height="16.27" fill="#b0d5e7"/>
<rect x="680.30" y="331.17" width="2.38" height="16.27" fill="#aad1e5"/>
<rect x="682.38" y="331.17" width="4.45" height="16.27" fill="#c1ddec"/>
<rect x="686.53" y="331.17" width="2.38" height="16.27" fill="#b4d7e8"/>
<rect x="688.61" y="331.17" width="2.38" height="16.27" fill="#aad1e5"/>
<rect x="690.68" y="331.17" width="2.38" height="16.27" fill="#d2e6f0"/>
<rect x="692.76" y="331.17" width="4.45" height="16.27" fill="#bddbea"/>
<rect x="696.92" y="331.17" width="2.38" height="16.27" fill="#b2d6e7"/>
<rect x="698.99" y="331.17" width="2.38" height="16.27" fill="#bfdceb"/>
<rect x="701.07" y="331.17" width="2.38" height="16.27" fill="#c1ddec"/>
<rect x="703.15" y="331.17" width="2.38" height="16.27" fill="#c3deec"/>
<rect x="705.23" y="331.17" width="2.38" height="16.27" fill="#b8d9e9"/>
<rect x="707.30" y="331.17" width="2.38" height="16.27" fill="#c3deec"/>
<rect x="709.38" y="331.17" width="2.38" height="16.27" fill="#ebf2f6"/>
<rect x="711.46" y="331.17" width="2.38" height="16.27" fill="#f0f4f7"/>
<rect x="713.53" y="331.17" width="2.38" height="16.27" fill="#edf3f6"/>
<rect x="715.61" y="331.17" width="46.00" height="16.27" fill="#7e2641"/>
<rect x="634.60" y="315.20" width="2.38" height="16.27" fill="#e8f1f5"/>
<rect x="636.68" y="315.20" width="2.38" height="16.27" fill="#e0ecf4"/>
<rect x="638.75" y="315.20" width="2.38" height="16.27" fill="#d9eaf2"/>
<rect x="640.83" y="315.20" width="2.38" height="16.27" fill="#d8e9f2"/>
<rect x="642.91" y="315.20" width="2.38" height="16.27" fill="#d0e5f0"/>
<rect x="644.99" y="315.20" width="2.38" height="16.27" fill="#cde4ef"/>
<rect x="647.06" y="315.20" width="4.45" height="16.27" fill="#c7e0ed"/>
<rect x="651.22" y="315.20" width="2.38" height="16.27" fill="#c1ddec"/>
<rect x="653.29" y="315.20" width="4.45" height="16.27" fill="#bddbea"/>
<rect x="657.45" y="315.20" width="2.38" height="16.27" fill="#b2d6e7"/>
<rect x="659.53" y="315.20" width="2.38" height="16.27" fill="#b0d5e7"/>
<rect x="661.60" y="315.20" width="2.38" height="16.27" fill="#bbdaea"/>
<rect x="663.68" y="315.20" width="2.38" height="16.27" fill="#acd3e6"/>
<rect x="665.76" y="315.20" width="4.45" height="16.27" fill="#b6d8e9"/>
<rect x="669.91" y="315.20" width="2.38" height="16.27" fill="#b0d5e7"/>
<rect x="671.99" y="315.20" width="2.38" height="16.27" fill="#bfdceb"/>
<rect x="674.07" y="315.20" width="4.45" height="16.27" fill="#c3deec"/>
<rect x="678.22" y="315.20" width="2.38" height="16.27" fill="#c9e1ee"/>
<rect x="680.30" y="315.20" width="2.38" height="16.27" fill="#d2e6f0"/>
<rect x="682.38" y="315.20" width="2.38" height="16.27" fill="#cde4ef"/>
<rect x="684.45" y="315.20" width="2.38" height="16.27" fill="#d9eaf2"/>
<rect x="686.53" y="315.20" width="2.38" height="16.27" fill="#ddebf3"/>
<rect x="688.61" y="315.20" width="2.38" height="16.27" fill="#e6f0f5"/>
<rect x="690.68" y="315.20" width="2.38" height="16.27" fill="#ecf2f6"/>
<rect x="692.76" y="315.20" width="2.38" height="16.27" fill="#f1f5f7"/>
<rect x="694.84" y="315.20" width="2.38" height="16.27" fill="#eff4f6"/>
<rect x="696.92" y="315.20" width="2.38" height="16.27" fill="#f8f8f7"/>
<rect x="698.99" y="315.20" width="46.00" height="16.27" fill="#7e2641"/>
<rect x="634.60" y="299.23" width="2.38" height="16.27" fill="#edf3f6"/>
<rect x="636.68" y="299.23" width="2.38" height="16.27" fill="#e6f0f5"/>
<rect x="638.75" y="299.23" width="2.38" height="16.27" fill="#e0ecf4"/>
<rect x="640.83" y="299.23" width="2.38" height="16.27" fill="#d6e8f2"/>
<rect x="642.91" y="299.23" width="2.38" height="16.27" fill="#cbe3ef"/>
<rect x="644.99" y="299.23" width="4.45" height="16.27" fill="#c7e0ed"/>
<rect x="649.14" y="299.23" width="2.38" height="16.27" fill="#bfdceb"/>
<rect x="651.22" y="299.23" width="2.38" height="16.27" fill="#c7e0ed"/>
<rect x="653.29" y="299.23" width="6.53" height="16.27" fill="#bfdceb"/>
<rect x="659.53" y="299.23" width="2.38" height="16.27" fill="#c1ddec"/>
<rect x="661.60" y="299.23" width="2.38" height="16.27" fill="#bfdceb"/>
<rect x="663.68" y="299.23" width="2.38" height="16.27" fill="#bbdaea"/>
<rect x="665.76" y="299.23" width="2.38" height="16.27" fill="#c9e1ee"/>
<rect x="667.84" y="299.23" width="2.38" height="16.27" fill="#cde4ef"/>
<rect x="669.91" y="299.23" width="2.38" height="16.27" fill="#d0e5f0"/>
<rect x="671.99" y="299.23" width="2.38" height="16.27" fill="#d6e8f2"/>
<rect x="674.07" y="299.23" width="4.45" height="16.27" fill="#dcebf3"/>
<rect x="678.22" y="299.23" width="2.38" height="16.27" fill="#e7f0f5"/>
<rect x="680.30" y="299.23" width="2.38" height="16.27" fill="#eaf1f6"/>
<rect x="682.38" y="299.23" width="2.38" height="16.27" fill="#ebf2f6"/>
<rect x="684.45" y="299.23" width="2.38" height="16.27" fill="#f8f8f7"/>
<rect x="686.53" y="299.23" width="43.92" height="16.27" fill="#7e2641"/>
<rect x="634.60" y="283.27" width="2.38" height="16.27" fill="#e8f1f5"/>
<rect x="636.68" y="283.27" width="2.38" height="16.27" fill="#e6f0f5"/>
<rect x="638.75" y="283.27" width="2.38" height="16.27" fill="#dcebf3"/>
<rect x="640.83" y="283.27" width="2.38" height="16.27" fill="#ddebf3"/>
<rect x="642.91" y="283.27" width="2.38" height="16.27" fill="#dcebf3"/>
<rect x="644.99" y="283.27" width="2.38" height="16.27" fill="#d2e6f0"/>
<rect x="647.06" y="283.27" width="2.38" height="16.27" fill="#cbe3ef"/>
<rect x="649.14" y="283.27" width="2.38" height="16.27" fill="#c9e1ee"/>
<rect x="651.22" y="283.27" width="4.45" height="16.27" fill="#cbe3ef"/>
<rect x="655.37" y="283.27" width="2.38" height="16.27" fill="#c9e1ee"/>
<rect x="657.45" y="283.27" width="2.38" height="16.27" fill="#cbe3ef"/>
<rect x="659.53" y="283.27" width="2.38" height="16.27" fill="#c5dfed"/>
<rect x="661.60" y="283.27" width="2.38" height="16.27" fill="#cbe3ef"/>
<rect x="663.68" y="283.27" width="2.38" height="16.27" fill="#d2e6f0"/>
<rect x="665.76" y="283.27" width="4.45" height="16.27" fill="#ddebf3"/>
<rect x="669.91" y="283.27" width="4.45" height="16.27" fill="#e5eff5"/>
<rect x="674.07" y="283.27" width="2.38" height="16.27" fill="#eaf1f6"/>
<rect x="676.14" y="283.27" width="2.38" height="16.27" fill="#f8f8f7"/>
<rect x="678.22" y="283.27" width="33.54" height="16.27" fill="#7e2641"/>
<rect x="634.60" y="267.30" width="2.38" height="16.27" fill="#e8f1f5"/>
<rect x="636.68" y="267.30" width="2.38" height="16.27" fill="#e6f0f5"/>
<rect x="638.75" y="267.30" width="2.38" height="16.27" fill="#e1edf4"/>
<rect x="640.83" y="267.30" width="2.38" height="16.27" fill="#dcebf3"/>
<rect x="642.91" y="267.30" width="2.38" height="16.27" fill="#d4e7f1"/>
<rect x="644.99" y="267.30" width="2.38" height="16.27" fill="#d2e6f0"/>
<rect x="647.06" y="267.30" width="4.45" height="16.27" fill="#cde4ef"/>
<rect x="651.22" y="267.30" width="2.38" height="16.27" fill="#c7e0ed"/>
<rect x="653.29" y="267.30" width="2.38" height="16.27" fill="#d4e7f1"/>
<rect x="655.37" y="267.30" width="2.38" height="16.27" fill="#cbe3ef"/>
<rect x="657.45" y="267.30" width="2.38" height="16.27" fill="#daeaf3"/>
<rect x="659.53" y="267.30" width="2.38" height="16.27" fill="#ddebf3"/>
<rect x="661.60" y="267.30" width="2.38" height="16.27" fill="#d8e9f2"/>
<rect x="663.68" y="267.30" width="2.38" height="16.27" fill="#e2eef4"/>
<rect x="665.76" y="267.30" width="2.38" height="16.27" fill="#ebf2f6"/>
<rect x="667.84" y="267.30" width="2.38" height="16.27" fill="#f2f6f7"/>
<rect x="669.91" y="267.30" width="2.38" height="16.27" fill="#f8f8f7"/>
<rect x="671.99" y="267.30" width="27.30" height="16.27" fill="#7e2641"/>
<rect x="634.60" y="251.33" width="2.38" height="16.27" fill="#eaf1f6"/>
<rect x="636.68" y="251.33" width="2.38" height="16.27" fill="#e1edf4"/>
<rect x="638.75" y="251.33" width="2.38" height="16.27" fill="#dcebf3"/>
<rect x="640.83" y="251.33" width="2.38" height="16.27" fill="#deecf3"/>
<rect x="642.91" y="251.33" width="2.38" height="16.27" fill="#d2e6f0"/>
<rect x="644.99" y="251.33" width="2.38" height="16.27" fill="#d6e8f2"/>
<rect x="647.06" y="251.33" width="2.38" height="16.27" fill="#cde4ef"/>
<rect x="649.14" y="251.33" width="2.38" height="16.27" fill="#d4e7f1"/>
<rect x="651.22" y="251.33" width="2.38" height="16.27" fill="#daeaf3"/>
<rect x="653.29" y="251.33" width="2.38" height="16.27" fill="#d4e7f1"/>
<rect x="655.37" y="251.33" width="2.38" height="16.27" fill="#e0ecf4"/>
<rect x="657.45" y="251.33" width="2.38" height="16.27" fill="#e1edf4"/>
<rect x="659.53" y="251.33" width="2.38" height="16.27" fill="#eaf1f6"/>
<rect x="661.60" y="251.33" width="2.38" height="16.27" fill="#eff4f6"/>
<rect x="663.68" y="251.33" width="2.38" height="16.27" fill="#f8f8f7"/>
<rect x="665.76" y="251.33" width="27.30" height="16.27" fill="#7e2641"/>
<rect x="634.60" y="235.37" width="4.45" height="16.27" fill="#e7f0f5"/>
<rect x="638.75" y="235.37" width="2.38" height="16.27" fill="#e0ecf4"/>
<rect x="640.83" y="235.37" width="2.38" height="16.27" fill="#d6e8f2"/>
<rect x="642.91" y="235.37" width="2.38" height="16.27" fill="#d2e6f0"/>
<rect x="644.99" y="235.37" width="8.61" height="16.27" fill="#d8e9f2"/>
<rect x="653.29" y="235.37" width="2.38" height="16.27" fill="#deecf3"/>
<rect x="655.37" y="235.37" width="2.38" height="16.27" fill="#e3eef4"/>
<rect x="657.45" y="235.37" width="2.38" height="16.27" fill="#eff4f6"/>
<rect x="659.53" y="235.37" width="2.38" height="16.27" fill="#f8f8f7"/>
<rect x="661.60" y="235.37" width="23.15" height="16.27" fill="#7e2641"/>
<rect x="634.60" y="219.40" width="4.45" height="16.27" fill="#e5eff5"/>
<rect x="638.75" y="219.40" width="2.38" height="16.27" fill="#e0ecf4"/>
<rect x="640.83" y="219.40" width="2.38" height="16.27" fill="#d4e7f1"/>
<rect x="642.91" y="219.40" width="2.38" height="16.27" fill="#dcebf3"/>
<rect x="644.99" y="219.40" width="2.38" height="16.27" fill="#daeaf3"/>
<rect x="647.06" y="219.40" width="4.45" height="16.27" fill="#e0ecf4"/>
<rect x="651.22" y="219.40" width="2.38" height="16.27" fill="#e7f0f5"/>
<rect x="653.29" y="219.40" width="2.38" height="16.27" fill="#f8f8f7"/>
<rect x="655.37" y="219.40" width="21.07" height="16.27" fill="#7e2641"/>
<rect x="634.60" y="203.43" width="2.38" height="16.27" fill="#e7f0f5"/>
<rect x="636.68" y="203.43" width="2.38" height="16.27" fill="#e5eff5"/>
<rect x="638.75" y="203.43" width="2.38" height="16.27" fill="#daeaf3"/>
<rect x="640.83" y="203.43" width="2.38" height="16.27" fill="#d6e8f2"/>
<rect x="642.91" y="203.43" width="2.38" height="16.27" fill="#d8e9f2"/>
<rect x="644.99" y="203.43" width="2.38" height="16.27" fill="#dcebf3"/>
<rect x="647.06" y="203.43" width="2.38" height="16.27" fill="#e1edf4"/>
<rect x="649.14" y="203.43" width="2.38" height="16.27" fill="#f8f8f7"/>
<rect x="651.22" y="203.43" width="23.15" height="16.27" fill="#7e2641"/>
<rect x="634.60" y="187.47" width="2.38" height="16.27" fill="#e3eef4"/>
<rect x="636.68" y="187.47" width="2.38" height="16.27" fill="#e1edf4"/>
<rect x="638.75" y="187.47" width="2.38" height="16.27" fill="#d6e8f2"/>
<rect x="640.83" y="187.47" width="2.38" height="16.27" fill="#dcebf3"/>
<rect x="642.91" y="187.47" width="2.38" height="16.27" fill="#d9eaf2"/>
<rect x="644.99" y="187.47" width="2.38" height="16.27" fill="#e1edf4"/>
<rect x="647.06" y="187.47" width="2.38" height="16.27" fill="#f8f8f7"/>
<rect x="649.14" y="187.47" width="18.99" height="16.27" fill="#7e2641"/>
<rect x="634.60" y="171.50" width="2.38" height="16.27" fill="#e8f1f5"/>
<rect x="636.68" y="171.50" width="2.38" height="16.27" fill="#deecf3"/>
<rect x="638.75" y="171.50" width="2.38" height="16.27" fill="#ddebf3"/>
<rect x="640.83" y="171.50" width="2.38" height="16.27" fill="#e5eff5"/>
<rect x="642.91" y="171.50" width="2.38" height="16.27" fill="#e8f1f5"/>
<rect x="644.99" y="171.50" width="2.38" height="16.27" fill="#f8f8f7"/>
<rect x="647.06" y="171.50" width="14.84" height="16.27" fill="#7e2641"/>
<rect x="634.60" y="155.53" width="2.38" height="16.27" fill="#ebf2f6"/>
<rect x="636.68" y="155.53" width="2.38" height="16.27" fill="#e1edf4"/>
<rect x="638.75" y="155.53" width="2.38" height="16.27" fill="#e2eef4"/>
<rect x="640.83" y="155.53" width="2.38" height="16.27" fill="#e7f0f5"/>
<rect x="642.91" y="155.53" width="2.38" height="16.27" fill="#f8f8f7"/>
<rect x="644.99" y="155.53" width="16.92" height="16.27" fill="#7e2641"/>
<rect x="634.60" y="139.57" width="2.38" height="16.27" fill="#e7f0f5"/>
<rect x="636.68" y="139.57" width="2.38" height="16.27" fill="#e1edf4"/>
<rect x="638.75" y="139.57" width="2.38" height="16.27" fill="#dcebf3"/>
<rect x="640.83" y="139.57" width="2.38" height="16.27" fill="#f8f8f7"/>
<rect x="642.91" y="139.57" width="18.99" height="16.27" fill="#7e2641"/>
<rect x="634.60" y="123.60" width="2.38" height="16.27" fill="#e7f0f5"/>
<rect x="636.68" y="123.60" width="2.38" height="16.27" fill="#deecf3"/>
<rect x="638.75" y="123.60" width="2.38" height="16.27" fill="#f8f8f7"/>
<rect x="640.83" y="123.60" width="16.92" height="16.27" fill="#7e2641"/>
<rect x="634.60" y="107.63" width="2.38" height="16.27" fill="#e3eef4"/>
<rect x="636.68" y="107.63" width="2.38" height="16.27" fill="#e6f0f5"/>
<rect x="638.75" y="107.63" width="14.84" height="16.27" fill="#7e2641"/>
<rect x="634.60" y="91.67" width="2.38" height="16.27" fill="#e0ecf4"/>
<rect x="636.68" y="91.67" width="2.38" height="16.27" fill="#e1edf4"/>
<rect x="638.75" y="91.67" width="14.84" height="16.27" fill="#7e2641"/>
<rect x="634.60" y="75.70" width="2.38" height="16.27" fill="#e2eef4"/>
<rect x="636.68" y="75.70" width="12.76" height="16.27" fill="#7e2641"/>
<rect x="634.60" y="59.73" width="2.38" height="16.27" fill="#daeaf3"/>
<rect x="636.68" y="59.73" width="6.53" height="16.27" fill="#7e2641"/>
<rect x="634.60" y="43.77" width="2.38" height="16.27" fill="#deecf3"/>
<rect x="636.68" y="43.77" width="4.45" height="16.27" fill="#7e2641"/>
<rect x="634.60" y="27.80" width="2.38" height="16.27" fill="#ddebf3"/>
<rect x="636.68" y="27.80" width="2.38" height="16.27" fill="#7e2641"/>
</g>
<rect x="634.60" y="27.80" width="328.20" height="383.20" fill="none" stroke="#262626" stroke-width="1.1"/>
<line x1="629.60" y1="403.02" x2="634.60" y2="403.02" stroke="#333" stroke-width="1.1"/>
<text x="625.20" y="409.92" font-size="24" text-anchor="end">2</text>
<line x1="629.60" y1="371.08" x2="634.60" y2="371.08" stroke="#333" stroke-width="1.1"/>
<text x="625.20" y="377.98" font-size="24" text-anchor="end">4</text>
<line x1="629.60" y1="339.15" x2="634.60" y2="339.15" stroke="#333" stroke-width="1.1"/>
<text x="625.20" y="346.05" font-size="24" text-anchor="end">6</text>
<line x1="629.60" y1="307.22" x2="634.60" y2="307.22" stroke="#333" stroke-width="1.1"/>
<text x="625.20" y="314.12" font-size="24" text-anchor="end">8</text>
<line x1="629.60" y1="275.28" x2="634.60" y2="275.28" stroke="#333" stroke-width="1.1"/>
<text x="625.20" y="282.18" font-size="24" text-anchor="end">10</text>
<line x1="629.60" y1="243.35" x2="634.60" y2="243.35" stroke="#333" stroke-width="1.1"/>
<text x="625.20" y="250.25" font-size="24" text-anchor="end">12</text>
<line x1="629.60" y1="211.42" x2="634.60" y2="211.42" stroke="#333" stroke-width="1.1"/>
<text x="625.20" y="218.32" font-size="24" text-anchor="end">14</text>
<line x1="629.60" y1="179.48" x2="634.60" y2="179.48" stroke="#333" stroke-width="1.1"/>
<text x="625.20" y="186.38" font-size="24" text-anchor="end">16</text>
<line x1="629.60" y1="147.55" x2="634.60" y2="147.55" stroke="#333" stroke-width="1.1"/>
<text x="625.20" y="154.45" font-size="24" text-anchor="end">18</text>
<line x1="629.60" y1="115.62" x2="634.60" y2="115.62" stroke="#333" stroke-width="1.1"/>
<text x="625.20" y="122.52" font-size="24" text-anchor="end">20</text>
<line x1="629.60" y1="83.68" x2="634.60" y2="83.68" stroke="#333" stroke-width="1.1"/>
<text x="625.20" y="90.58" font-size="24" text-anchor="end">22</text>
<line x1="629.60" y1="51.75" x2="634.60" y2="51.75" stroke="#333" stroke-width="1.1"/>
<text x="625.20" y="58.65" font-size="24" text-anchor="end">24</text>
<line x1="635.64" y1="411.00" x2="635.64" y2="416.00" stroke="#333" stroke-width="1.1"/>
<text x="635.64" y="441.76" font-size="24" text-anchor="middle" transform="rotate(-45 635.64 433.00)">1</text>
<line x1="666.80" y1="411.00" x2="666.80" y2="416.00" stroke="#333" stroke-width="1.1"/>
<text x="666.80" y="447.15" font-size="24" text-anchor="middle" transform="rotate(-45 666.80 438.39)">16</text>
<line x1="697.96" y1="411.00" x2="697.96" y2="416.00" stroke="#333" stroke-width="1.1"/>
<text x="697.96" y="447.15" font-size="24" text-anchor="middle" transform="rotate(-45 697.96 438.39)">31</text>
<line x1="729.11" y1="411.00" x2="729.11" y2="416.00" stroke="#333" stroke-width="1.1"/>
<text x="729.11" y="447.15" font-size="24" text-anchor="middle" transform="rotate(-45 729.11 438.39)">46</text>
<line x1="760.27" y1="411.00" x2="760.27" y2="416.00" stroke="#333" stroke-width="1.1"/>
<text x="760.27" y="447.15" font-size="24" text-anchor="middle" transform="rotate(-45 760.27 438.39)">61</text>
<line x1="791.43" y1="411.00" x2="791.43" y2="416.00" stroke="#333" stroke-width="1.1"/>
<text x="791.43" y="447.15" font-size="24" text-anchor="middle" transform="rotate(-45 791.43 438.39)">76</text>
<line x1="822.59" y1="411.00" x2="822.59" y2="416.00" stroke="#333" stroke-width="1.1"/>
<text x="822.59" y="447.15" font-size="24" text-anchor="middle" transform="rotate(-45 822.59 438.39)">91</text>
<line x1="853.75" y1="411.00" x2="853.75" y2="416.00" stroke="#333" stroke-width="1.1"/>
<text x="853.75" y="452.55" font-size="24" text-anchor="middle" transform="rotate(-45 853.75 443.79)">106</text>
<line x1="884.90" y1="411.00" x2="884.90" y2="416.00" stroke="#333" stroke-width="1.1"/>
<text x="884.90" y="452.55" font-size="24" text-anchor="middle" transform="rotate(-45 884.90 443.79)">121</text>
<line x1="916.06" y1="411.00" x2="916.06" y2="416.00" stroke="#333" stroke-width="1.1"/>
<text x="916.06" y="452.55" font-size="24" text-anchor="middle" transform="rotate(-45 916.06 443.79)">136</text>
<line x1="947.22" y1="411.00" x2="947.22" y2="416.00" stroke="#333" stroke-width="1.1"/>
<text x="947.22" y="452.55" font-size="24" text-anchor="middle" transform="rotate(-45 947.22 443.79)">151</text>
<text x="583.30" y="219.40" font-size="28" text-anchor="middle" font-style="italic" transform="rotate(-90 583.30 219.40)">m</text>
<text x="798.70" y="494.20" font-size="28" text-anchor="middle" font-style="italic">k</text>
<text x="568.70" y="28.00" font-size="28" text-anchor="start" font-weight="bold">b</text>
<polygon points="982.80,56.90 991.70,40.90 1000.60,56.90" fill="#67001f"/>
<polygon points="982.80,381.00 991.70,397.00 1000.60,381.00" fill="#053061"/>
<rect x="982.80" y="56.90" width="17.80" height="322.10" fill="url(#gb)"/>
<rect x="982.80" y="378.80" width="17.80" height="2.20" fill="#f4f4f4"/>
<line x1="982.80" y1="378.60" x2="1000.60" y2="378.60" stroke="#666" stroke-width="0.6"/>
<rect x="982.80" y="56.90" width="17.80" height="324.10" fill="none" stroke="#333" stroke-width="1"/>
<line x1="1000.60" y1="71.00" x2="1005.60" y2="71.00" stroke="#333" stroke-width="1.1"/>
<text x="1010.10" y="79.60" font-size="24" text-anchor="start">25</text>
<line x1="1000.60" y1="137.00" x2="1005.60" y2="137.00" stroke="#333" stroke-width="1.1"/>
<text x="1010.10" y="145.60" font-size="24" text-anchor="start">0</text>
<line x1="1000.60" y1="203.00" x2="1005.60" y2="203.00" stroke="#333" stroke-width="1.1"/>
<text x="1010.10" y="211.60" font-size="24" text-anchor="start">−25</text>
<line x1="1000.60" y1="269.00" x2="1005.60" y2="269.00" stroke="#333" stroke-width="1.1"/>
<text x="1010.10" y="277.60" font-size="24" text-anchor="start">−50</text>
<line x1="1000.60" y1="335.00" x2="1005.60" y2="335.00" stroke="#333" stroke-width="1.1"/>
<text x="1010.10" y="343.60" font-size="24" text-anchor="start">−75</text>
<text x="971.00" y="16.50" font-size="28"><tspan font-style="italic">z</tspan><tspan font-size="19.6" dy="3.7">(<tspan font-style="italic">k</tspan>, <tspan font-style="italic">m</tspan>)</tspan></text>
<g shape-rendering="crispEdges">
<rect x="114.80" y="908.63" width="7.93" height="4.97" fill="#fcf9bb"/>
<rect x="114.80" y="847.93" width="7.93" height="61.00" fill="#fcf7b9"/>
<rect x="114.80" y="791.89" width="7.93" height="56.33" fill="#fcf6b8"/>
<rect x="114.80" y="731.19" width="7.93" height="61.00" fill="#fcf4b6"/>
<rect x="114.80" y="717.18" width="7.93" height="14.31" fill="#fcf2b4"/>
<rect x="114.80" y="712.51" width="7.93" height="4.97" fill="#fcf0b2"/>
<rect x="114.80" y="703.17" width="7.93" height="9.64" fill="#fceeb0"/>
<rect x="114.80" y="698.50" width="7.93" height="4.97" fill="#fcecae"/>
<rect x="114.80" y="689.16" width="7.93" height="9.64" fill="#fdebac"/>
<rect x="114.80" y="684.49" width="7.93" height="4.97" fill="#fde9aa"/>
<rect x="114.80" y="679.82" width="7.93" height="4.97" fill="#fde7a9"/>
<rect x="114.80" y="675.15" width="7.93" height="4.97" fill="#fde5a7"/>
<rect x="114.80" y="670.49" width="7.93" height="4.97" fill="#fde2a3"/>
<rect x="114.80" y="665.82" width="7.93" height="4.97" fill="#fde0a1"/>
<rect x="114.80" y="661.15" width="7.93" height="4.97" fill="#fddea0"/>
<rect x="114.80" y="656.48" width="7.93" height="4.97" fill="#fdda9c"/>
<rect x="114.80" y="651.81" width="7.93" height="4.97" fill="#fed89a"/>
<rect x="114.80" y="647.14" width="7.93" height="4.97" fill="#fed799"/>
<rect x="114.80" y="642.47" width="7.93" height="4.97" fill="#fed395"/>
<rect x="114.80" y="637.80" width="7.93" height="4.97" fill="#fed194"/>
<rect x="114.80" y="633.13" width="7.93" height="4.97" fill="#fecd90"/>
<rect x="114.80" y="628.46" width="7.93" height="4.97" fill="#fecc8f"/>
<rect x="114.80" y="623.79" width="7.93" height="4.97" fill="#fec88c"/>
<rect x="114.80" y="619.12" width="7.93" height="4.97" fill="#fec488"/>
<rect x="114.80" y="614.45" width="7.93" height="4.97" fill="#fec287"/>
<rect x="114.80" y="609.78" width="7.93" height="4.97" fill="#febf84"/>
<rect x="114.80" y="605.11" width="7.93" height="4.97" fill="#febb81"/>
<rect x="114.80" y="600.44" width="7.93" height="4.97" fill="#feb77e"/>
<rect x="114.80" y="595.77" width="7.93" height="4.97" fill="#feb47b"/>
<rect x="114.80" y="591.10" width="7.93" height="4.97" fill="#feb078"/>
<rect x="114.80" y="586.43" width="7.93" height="4.97" fill="#feac76"/>
<rect x="114.80" y="581.76" width="7.93" height="4.97" fill="#fea973"/>
<rect x="114.80" y="577.10" width="7.93" height="4.97" fill="#fd9b6b"/>
<rect x="114.80" y="572.43" width="7.93" height="4.97" fill="#fc8c63"/>
<rect x="114.80" y="563.09" width="7.93" height="9.64" fill="#fc8a62"/>
<rect x="114.80" y="553.75" width="7.93" height="9.64" fill="#f97b5d"/>
<rect x="114.80" y="549.08" width="7.93" height="4.97" fill="#f2645c"/>
<rect x="114.80" y="530.40" width="7.93" height="18.98" fill="#9c2e7f"/>
<rect x="122.43" y="894.62" width="7.93" height="18.98" fill="#fcf2b4"/>
<rect x="122.43" y="875.94" width="7.93" height="18.98" fill="#fcf0b2"/>
<rect x="122.43" y="861.94" width="7.93" height="14.31" fill="#fceeb0"/>
<rect x="122.43" y="852.60" width="7.93" height="9.64" fill="#fcecae"/>
<rect x="122.43" y="838.59" width="7.93" height="14.31" fill="#fdebac"/>
<rect x="122.43" y="829.25" width="7.93" height="9.64" fill="#fde9aa"/>
<rect x="122.43" y="819.91" width="7.93" height="9.64" fill="#fde7a9"/>
<rect x="122.43" y="805.90" width="7.93" height="14.31" fill="#fde5a7"/>
<rect x="122.43" y="796.56" width="7.93" height="9.64" fill="#fde3a5"/>
<rect x="122.43" y="787.22" width="7.93" height="9.64" fill="#fde2a3"/>
<rect x="122.43" y="777.88" width="7.93" height="9.64" fill="#fde0a1"/>
<rect x="122.43" y="768.55" width="7.93" height="9.64" fill="#fddea0"/>
<rect x="122.43" y="754.54" width="7.93" height="14.31" fill="#fddc9e"/>
<rect x="122.43" y="745.20" width="7.93" height="9.64" fill="#fdda9c"/>
<rect x="122.43" y="735.86" width="7.93" height="9.64" fill="#fed89a"/>
<rect x="122.43" y="726.52" width="7.93" height="9.64" fill="#fed799"/>
<rect x="122.43" y="717.18" width="7.93" height="9.64" fill="#fed597"/>
<rect x="122.43" y="712.51" width="7.93" height="4.97" fill="#febf84"/>
<rect x="130.06" y="908.63" width="7.93" height="4.97" fill="#fde3a5"/>
<rect x="130.06" y="903.96" width="7.93" height="4.97" fill="#fde0a1"/>
<rect x="130.06" y="899.29" width="7.93" height="4.97" fill="#fddea0"/>
<rect x="130.06" y="871.27" width="7.93" height="28.32" fill="#fdda9c"/>
<rect x="130.06" y="843.26" width="7.93" height="28.32" fill="#fed89a"/>
<rect x="130.06" y="815.24" width="7.93" height="28.32" fill="#fed799"/>
<rect x="130.06" y="796.56" width="7.93" height="18.98" fill="#fed597"/>
<rect x="130.06" y="745.20" width="7.93" height="51.66" fill="#fea16e"/>
<rect x="130.06" y="740.53" width="7.93" height="4.97" fill="#fb8761"/>
<rect x="137.68" y="880.61" width="7.93" height="32.99" fill="#fde5a7"/>
<rect x="137.68" y="852.60" width="7.93" height="28.32" fill="#fde3a5"/>
<rect x="137.68" y="829.25" width="7.93" height="23.65" fill="#fde2a3"/>
<rect x="137.68" y="824.58" width="7.93" height="4.97" fill="#fde0a1"/>
<rect x="137.68" y="768.55" width="7.93" height="56.33" fill="#fd9b6b"/>
<rect x="145.31" y="903.96" width="7.93" height="9.64" fill="#fed194"/>
<rect x="145.31" y="847.93" width="7.93" height="56.33" fill="#fec88c"/>
<rect x="145.31" y="796.56" width="7.93" height="51.66" fill="#fc9065"/>
<rect x="152.94" y="857.27" width="7.93" height="56.33" fill="#fb8761"/>
<rect x="152.94" y="805.90" width="7.93" height="51.66" fill="#ee5b5e"/>
<rect x="160.57" y="861.94" width="7.93" height="51.66" fill="#fb8560"/>
<rect x="160.57" y="815.24" width="7.93" height="47.00" fill="#ed5a5f"/>
<rect x="168.20" y="866.60" width="7.93" height="47.00" fill="#fb835f"/>
<rect x="168.20" y="819.91" width="7.93" height="47.00" fill="#ec5860"/>
<rect x="175.82" y="871.27" width="7.93" height="42.33" fill="#fa815f"/>
<rect x="175.82" y="829.25" width="7.93" height="42.33" fill="#eb5760"/>
<rect x="183.45" y="875.94" width="7.93" height="37.66" fill="#fa7f5e"/>
<rect x="183.45" y="833.92" width="7.93" height="42.33" fill="#ea5661"/>
<rect x="191.08" y="880.61" width="7.93" height="32.99" fill="#fa7f5e"/>
<rect x="191.08" y="838.59" width="7.93" height="42.33" fill="#e85362"/>
<rect x="198.71" y="885.28" width="7.93" height="28.32" fill="#fa7d5e"/>
<rect x="198.71" y="843.26" width="7.93" height="42.33" fill="#e75263"/>
<rect x="206.33" y="885.28" width="7.93" height="28.32" fill="#f97b5d"/>
<rect x="206.33" y="847.93" width="7.93" height="37.66" fill="#e55064"/>
<rect x="213.96" y="889.95" width="7.93" height="23.65" fill="#f9795d"/>
<rect x="213.96" y="852.60" width="7.93" height="37.66" fill="#e34e65"/>
<rect x="221.59" y="889.95" width="7.93" height="23.65" fill="#f9785d"/>
<rect x="221.59" y="861.94" width="7.93" height="28.32" fill="#e24d66"/>
<rect x="221.59" y="857.27" width="7.93" height="4.97" fill="#d5446d"/>
<rect x="229.22" y="889.95" width="7.93" height="23.65" fill="#f8765c"/>
<rect x="229.22" y="866.60" width="7.93" height="23.65" fill="#e04c67"/>
<rect x="229.22" y="861.94" width="7.93" height="4.97" fill="#d2426f"/>
<rect x="236.85" y="894.62" width="7.93" height="18.98" fill="#f8745c"/>
<rect x="236.85" y="871.27" width="7.93" height="23.65" fill="#de4968"/>
<rect x="236.85" y="866.60" width="7.93" height="4.97" fill="#d0416f"/>
<rect x="244.47" y="899.29" width="7.93" height="14.31" fill="#f7725c"/>
<rect x="244.47" y="880.61" width="7.93" height="18.98" fill="#dc4869"/>
<rect x="244.47" y="875.94" width="7.93" height="4.97" fill="#cd4071"/>
<rect x="252.10" y="899.29" width="7.93" height="14.31" fill="#f7705c"/>
<rect x="252.10" y="889.95" width="7.93" height="9.64" fill="#d9466b"/>
<rect x="252.10" y="885.28" width="7.93" height="4.97" fill="#cc3f71"/>
<rect x="259.73" y="908.63" width="7.93" height="4.97" fill="#dc4869"/>
<rect x="259.73" y="903.96" width="7.93" height="4.97" fill="#d2426f"/>
<rect x="259.73" y="899.29" width="7.93" height="4.97" fill="#7b2382"/>
<rect x="259.73" y="894.62" width="7.93" height="4.97" fill="#6b1d81"/>
<rect x="259.73" y="889.95" width="7.93" height="4.97" fill="#451077"/>
<rect x="267.36" y="908.63" width="7.93" height="4.97" fill="#ab337c"/>
<rect x="267.36" y="903.96" width="7.93" height="4.97" fill="#7e2482"/>
<rect x="267.36" y="899.29" width="7.93" height="4.97" fill="#782281"/>
<rect x="267.36" y="894.62" width="7.93" height="4.97" fill="#641a80"/>
<rect x="267.36" y="889.95" width="7.93" height="4.97" fill="#311165"/>
<rect x="274.99" y="908.63" width="7.93" height="4.97" fill="#782281"/>
<rect x="274.99" y="903.96" width="7.93" height="4.97" fill="#732081"/>
<rect x="274.99" y="899.29" width="7.93" height="4.97" fill="#6b1d81"/>
<rect x="274.99" y="894.62" width="7.93" height="4.97" fill="#641a80"/>
<rect x="282.61" y="908.63" width="7.93" height="4.97" fill="#762181"/>
<rect x="282.61" y="903.96" width="7.93" height="4.97" fill="#721f81"/>
<rect x="282.61" y="899.29" width="7.93" height="4.97" fill="#681c81"/>
<rect x="282.61" y="894.62" width="7.93" height="4.97" fill="#5d177f"/>
<rect x="290.24" y="908.63" width="7.93" height="4.97" fill="#732081"/>
<rect x="290.24" y="903.96" width="7.93" height="4.97" fill="#701f81"/>
<rect x="290.24" y="899.29" width="7.93" height="4.97" fill="#651a80"/>
<rect x="290.24" y="894.62" width="7.93" height="4.97" fill="#57157e"/>
<rect x="297.87" y="908.63" width="7.93" height="4.97" fill="#721f81"/>
<rect x="297.87" y="903.96" width="7.93" height="4.97" fill="#6d1d81"/>
<rect x="297.87" y="899.29" width="7.93" height="4.97" fill="#621980"/>
<rect x="297.87" y="894.62" width="7.93" height="4.97" fill="#3f0f72"/>
<rect x="305.50" y="908.63" width="7.93" height="4.97" fill="#6e1e81"/>
<rect x="305.50" y="903.96" width="7.93" height="4.97" fill="#6b1d81"/>
<rect x="305.50" y="899.29" width="7.93" height="4.97" fill="#5f187f"/>
<rect x="305.50" y="894.62" width="7.93" height="4.97" fill="#3b0f70"/>
<rect x="313.13" y="908.63" width="7.93" height="4.97" fill="#671b80"/>
<rect x="313.13" y="903.96" width="7.93" height="4.97" fill="#5c167f"/>
<rect x="313.13" y="899.29" width="7.93" height="4.97" fill="#4a1079"/>
<rect x="320.75" y="908.63" width="7.93" height="4.97" fill="#651a80"/>
<rect x="320.75" y="903.96" width="7.93" height="4.97" fill="#59157e"/>
<rect x="320.75" y="899.29" width="7.93" height="4.97" fill="#451077"/>
<rect x="328.38" y="908.63" width="7.93" height="4.97" fill="#641a80"/>
<rect x="328.38" y="903.96" width="7.93" height="4.97" fill="#57157e"/>
<rect x="328.38" y="899.29" width="7.93" height="4.97" fill="#420f75"/>
<rect x="336.01" y="908.63" width="7.93" height="4.97" fill="#621980"/>
<rect x="336.01" y="903.96" width="7.93" height="4.97" fill="#54137d"/>
<rect x="336.01" y="899.29" width="7.93" height="4.97" fill="#311165"/>
<rect x="343.64" y="908.63" width="7.93" height="4.97" fill="#5f187f"/>
<rect x="343.64" y="903.96" width="7.93" height="4.97" fill="#52137c"/>
<rect x="343.64" y="899.29" width="7.93" height="4.97" fill="#29115a"/>
<rect x="351.27" y="908.63" width="7.93" height="4.97" fill="#3b0f70"/>
<rect x="351.27" y="903.96" width="7.93" height="4.97" fill="#29115a"/>
<rect x="358.89" y="908.63" width="7.93" height="4.97" fill="#38106c"/>
<rect x="358.89" y="903.96" width="7.93" height="4.97" fill="#271258"/>
<rect x="366.52" y="908.63" width="7.93" height="4.97" fill="#36106b"/>
<rect x="366.52" y="903.96" width="7.93" height="4.97" fill="#241253"/>
<rect x="374.15" y="908.63" width="7.93" height="4.97" fill="#331067"/>
<rect x="374.15" y="903.96" width="7.93" height="4.97" fill="#21114e"/>
<rect x="381.78" y="908.63" width="7.93" height="4.97" fill="#311165"/>
<rect x="381.78" y="903.96" width="7.93" height="4.97" fill="#1e1149"/>
<rect x="389.40" y="908.63" width="7.93" height="4.97" fill="#0c0926"/>
<rect x="397.03" y="908.63" width="7.93" height="4.97" fill="#090720"/>
<rect x="404.66" y="908.63" width="7.93" height="4.97" fill="#07061c"/>
<rect x="412.29" y="908.63" width="7.93" height="4.97" fill="#060518"/>
</g>
<rect x="114.80" y="530.40" width="328.00" height="382.90" fill="none" stroke="#262626" stroke-width="1.1"/>
<line x1="109.80" y1="910.97" x2="114.80" y2="910.97" stroke="#333" stroke-width="1.1"/>
<text x="105.40" y="917.87" font-size="24" text-anchor="end">2</text>
<line x1="109.80" y1="864.27" x2="114.80" y2="864.27" stroke="#333" stroke-width="1.1"/>
<text x="105.40" y="871.17" font-size="24" text-anchor="end">12</text>
<line x1="109.80" y1="817.57" x2="114.80" y2="817.57" stroke="#333" stroke-width="1.1"/>
<text x="105.40" y="824.47" font-size="24" text-anchor="end">22</text>
<line x1="109.80" y1="770.88" x2="114.80" y2="770.88" stroke="#333" stroke-width="1.1"/>
<text x="105.40" y="777.78" font-size="24" text-anchor="end">32</text>
<line x1="109.80" y1="724.18" x2="114.80" y2="724.18" stroke="#333" stroke-width="1.1"/>
<text x="105.40" y="731.08" font-size="24" text-anchor="end">42</text>
<line x1="109.80" y1="677.49" x2="114.80" y2="677.49" stroke="#333" stroke-width="1.1"/>
<text x="105.40" y="684.39" font-size="24" text-anchor="end">52</text>
<line x1="109.80" y1="630.79" x2="114.80" y2="630.79" stroke="#333" stroke-width="1.1"/>
<text x="105.40" y="637.69" font-size="24" text-anchor="end">62</text>
<line x1="109.80" y1="584.10" x2="114.80" y2="584.10" stroke="#333" stroke-width="1.1"/>
<text x="105.40" y="591.00" font-size="24" text-anchor="end">72</text>
<line x1="109.80" y1="537.40" x2="114.80" y2="537.40" stroke="#333" stroke-width="1.1"/>
<text x="105.40" y="544.30" font-size="24" text-anchor="end">82</text>
<line x1="118.61" y1="913.30" x2="118.61" y2="918.30" stroke="#333" stroke-width="1.1"/>
<text x="118.61" y="944.06" font-size="24" text-anchor="middle" transform="rotate(-45 118.61 935.30)">1</text>
<line x1="156.75" y1="913.30" x2="156.75" y2="918.30" stroke="#333" stroke-width="1.1"/>
<text x="156.75" y="944.06" font-size="24" text-anchor="middle" transform="rotate(-45 156.75 935.30)">6</text>
<line x1="194.89" y1="913.30" x2="194.89" y2="918.30" stroke="#333" stroke-width="1.1"/>
<text x="194.89" y="949.45" font-size="24" text-anchor="middle" transform="rotate(-45 194.89 940.69)">11</text>
<line x1="233.03" y1="913.30" x2="233.03" y2="918.30" stroke="#333" stroke-width="1.1"/>
<text x="233.03" y="949.45" font-size="24" text-anchor="middle" transform="rotate(-45 233.03 940.69)">16</text>
<line x1="271.17" y1="913.30" x2="271.17" y2="918.30" stroke="#333" stroke-width="1.1"/>
<text x="271.17" y="949.45" font-size="24" text-anchor="middle" transform="rotate(-45 271.17 940.69)">21</text>
<line x1="309.31" y1="913.30" x2="309.31" y2="918.30" stroke="#333" stroke-width="1.1"/>
<text x="309.31" y="949.45" font-size="24" text-anchor="middle" transform="rotate(-45 309.31 940.69)">26</text>
<line x1="347.45" y1="913.30" x2="347.45" y2="918.30" stroke="#333" stroke-width="1.1"/>
<text x="347.45" y="949.45" font-size="24" text-anchor="middle" transform="rotate(-45 347.45 940.69)">31</text>
<line x1="385.59" y1="913.30" x2="385.59" y2="918.30" stroke="#333" stroke-width="1.1"/>
<text x="385.59" y="949.45" font-size="24" text-anchor="middle" transform="rotate(-45 385.59 940.69)">36</text>
<line x1="423.73" y1="913.30" x2="423.73" y2="918.30" stroke="#333" stroke-width="1.1"/>
<text x="423.73" y="949.45" font-size="24" text-anchor="middle" transform="rotate(-45 423.73 940.69)">41</text>
<text x="63.50" y="721.85" font-size="28" text-anchor="middle" font-style="italic" transform="rotate(-90 63.50 721.85)">m</text>
<text x="278.80" y="987.70" font-size="28" text-anchor="middle" font-style="italic">k</text>
<text x="50.20" y="530.60" font-size="28" text-anchor="start" font-weight="bold">e</text>
<rect x="234.00" y="536.80" width="197.70" height="218.40" fill="#fff"/>
<clipPath id="cie"><rect x="234.00" y="536.80" width="197.70" height="218.40"/></clipPath>
<g clip-path="url(#cie)">
<circle cx="242.15" cy="546.40" r="4.80" fill="#1f77b4"/>
<circle cx="246.81" cy="564.51" r="4.80" fill="#1f77b4"/>
<circle cx="251.46" cy="596.70" r="4.80" fill="#1f77b4"/>
<circle cx="256.11" cy="606.76" r="4.80" fill="#1f77b4"/>
<circle cx="260.76" cy="628.89" r="4.80" fill="#1f77b4"/>
<circle cx="265.42" cy="665.11" r="4.80" fill="#1f77b4"/>
<circle cx="270.07" cy="671.14" r="4.80" fill="#1f77b4"/>
<circle cx="274.72" cy="674.36" r="4.80" fill="#1f77b4"/>
<circle cx="279.37" cy="677.58" r="4.80" fill="#1f77b4"/>
<circle cx="284.02" cy="680.36" r="4.80" fill="#1f77b4"/>
<circle cx="288.68" cy="682.70" r="4.80" fill="#1f77b4"/>
<circle cx="293.33" cy="685.04" r="4.80" fill="#1f77b4"/>
<circle cx="297.98" cy="687.38" r="4.80" fill="#1f77b4"/>
<circle cx="302.63" cy="689.73" r="4.80" fill="#1f77b4"/>
<circle cx="307.29" cy="692.13" r="4.80" fill="#1f77b4"/>
<circle cx="311.94" cy="694.52" r="4.80" fill="#1f77b4"/>
<circle cx="316.59" cy="696.92" r="4.80" fill="#1f77b4"/>
<circle cx="321.25" cy="699.31" r="4.80" fill="#1f77b4"/>
<circle cx="325.90" cy="702.33" r="4.80" fill="#1f77b4"/>
<circle cx="330.55" cy="720.44" r="4.80" fill="#1f77b4"/>
<circle cx="335.20" cy="731.50" r="4.80" fill="#1f77b4"/>
<circle cx="339.86" cy="734.86" r="4.80" fill="#1f77b4"/>
<circle cx="344.51" cy="736.94" r="4.80" fill="#1f77b4"/>
<circle cx="349.16" cy="737.74" r="4.80" fill="#1f77b4"/>
<circle cx="353.81" cy="738.55" r="4.80" fill="#1f77b4"/>
<circle cx="358.47" cy="738.83" r="4.80" fill="#1f77b4"/>
<circle cx="363.12" cy="739.11" r="4.80" fill="#1f77b4"/>
<circle cx="367.77" cy="739.39" r="4.80" fill="#1f77b4"/>
<circle cx="372.42" cy="739.67" r="4.80" fill="#1f77b4"/>
<circle cx="377.07" cy="739.95" r="4.80" fill="#1f77b4"/>
<circle cx="381.73" cy="740.48" r="4.80" fill="#1f77b4"/>
<circle cx="386.38" cy="741.00" r="4.80" fill="#1f77b4"/>
<circle cx="391.03" cy="741.52" r="4.80" fill="#1f77b4"/>
<circle cx="395.69" cy="742.05" r="4.80" fill="#1f77b4"/>
<circle cx="400.34" cy="742.57" r="4.80" fill="#1f77b4"/>
<circle cx="404.99" cy="743.09" r="4.80" fill="#1f77b4"/>
<circle cx="409.64" cy="743.62" r="4.80" fill="#1f77b4"/>
<circle cx="414.29" cy="744.14" r="4.80" fill="#1f77b4"/>
<circle cx="418.95" cy="744.66" r="4.80" fill="#1f77b4"/>
<circle cx="423.60" cy="745.19" r="4.80" fill="#1f77b4"/>
<path d="M237.65 551.96L246.65 560.96M237.65 560.96L246.65 551.96" stroke="#ff7f0e" stroke-width="1.3" fill="none"/>
<path d="M242.31 572.08L251.31 581.08M242.31 581.08L251.31 572.08" stroke="#ff7f0e" stroke-width="1.3" fill="none"/>
<path d="M246.96 610.31L255.96 619.31M246.96 619.31L255.96 610.31" stroke="#ff7f0e" stroke-width="1.3" fill="none"/>
<path d="M251.61 620.37L260.61 629.37M251.61 629.37L260.61 620.37" stroke="#ff7f0e" stroke-width="1.3" fill="none"/>
<path d="M256.26 640.49L265.26 649.49M256.26 649.49L265.26 640.49" stroke="#ff7f0e" stroke-width="1.3" fill="none"/>
<path d="M260.92 676.70L269.92 685.70M260.92 685.70L269.92 676.70" stroke="#ff7f0e" stroke-width="1.3" fill="none"/>
<path d="M265.57 678.72L274.57 687.72M265.57 687.72L274.57 678.72" stroke="#ff7f0e" stroke-width="1.3" fill="none"/>
<path d="M270.22 680.73L279.22 689.73M270.22 689.73L279.22 680.73" stroke="#ff7f0e" stroke-width="1.3" fill="none"/>
<path d="M274.87 682.74L283.87 691.74M274.87 691.74L283.87 682.74" stroke="#ff7f0e" stroke-width="1.3" fill="none"/>
<path d="M279.52 701.85L288.52 710.85M279.52 710.85L288.52 701.85" stroke="#ff7f0e" stroke-width="1.3" fill="none"/>
<path d="M284.18 703.29L293.18 712.29M284.18 712.29L293.18 703.29" stroke="#ff7f0e" stroke-width="1.3" fill="none"/>
<path d="M288.83 704.73L297.83 713.73M288.83 713.73L297.83 704.73" stroke="#ff7f0e" stroke-width="1.3" fill="none"/>
<path d="M293.48 706.17L302.48 715.17M293.48 715.17L302.48 706.17" stroke="#ff7f0e" stroke-width="1.3" fill="none"/>
<path d="M298.13 707.60L307.13 716.60M298.13 716.60L307.13 707.60" stroke="#ff7f0e" stroke-width="1.3" fill="none"/>
<path d="M302.79 709.04L311.79 718.04M302.79 718.04L311.79 709.04" stroke="#ff7f0e" stroke-width="1.3" fill="none"/>
<path d="M307.44 710.48L316.44 719.48M307.44 719.48L316.44 710.48" stroke="#ff7f0e" stroke-width="1.3" fill="none"/>
<path d="M312.09 711.91L321.09 720.91M312.09 720.91L321.09 711.91" stroke="#ff7f0e" stroke-width="1.3" fill="none"/>
<polygon points="242.15,557.10 236.54,567.36 247.77,567.36" fill="#2ca02c"/>
<polygon points="246.81,583.25 241.19,593.51 252.42,593.51" fill="#2ca02c"/>
<polygon points="251.46,609.41 245.84,619.67 257.07,619.67" fill="#2ca02c"/>
<polygon points="256.11,617.46 250.49,627.72 261.73,627.72" fill="#2ca02c"/>
<polygon points="260.76,673.79 255.15,684.05 266.38,684.05" fill="#2ca02c"/>
<polygon points="265.42,699.95 259.80,710.21 271.03,710.21" fill="#2ca02c"/>
<polygon points="270.07,700.95 264.45,711.21 275.68,711.21" fill="#2ca02c"/>
<polygon points="274.72,701.96 269.10,712.22 280.34,712.22" fill="#2ca02c"/>
<polygon points="279.37,702.97 273.76,713.23 284.99,713.23" fill="#2ca02c"/>
<polygon points="284.02,703.97 278.41,714.23 289.64,714.23" fill="#2ca02c"/>
<rect x="237.25" y="575.70" width="9.80" height="9.80" fill="#d62728"/>
<rect x="241.91" y="593.81" width="9.80" height="9.80" fill="#d62728"/>
<rect x="246.56" y="672.28" width="9.80" height="9.80" fill="#d62728"/>
<rect x="251.21" y="684.35" width="9.80" height="9.80" fill="#d62728"/>
</g>
<rect x="306.90" y="544.50" width="116.70" height="101.70" rx="3" ry="3" fill="#fff" fill-opacity="0.8" stroke="#cccccc" stroke-width="1.1"/>
<circle cx="329.60" cy="558.30" r="4.80" fill="#1f77b4"/>
<text x="358.20" y="563.10" font-size="17.2"><tspan font-style="italic">m</tspan><tspan dx="2.4">=</tspan><tspan dx="1.9">2</tspan></text>
<path d="M325.10 578.20L334.10 587.20M325.10 587.20L334.10 578.20" stroke="#ff7f0e" stroke-width="1.3" fill="none"/>
<text x="358.20" y="587.50" font-size="17.2"><tspan font-style="italic">m</tspan><tspan dx="2.4">=</tspan><tspan dx="1.9">10</tspan></text>
<polygon points="329.60,601.50 323.98,611.76 335.22,611.76" fill="#2ca02c"/>
<text x="358.20" y="611.70" font-size="17.2"><tspan font-style="italic">m</tspan><tspan dx="2.4">=</tspan><tspan dx="1.9">18</tspan></text>
<rect x="324.70" y="626.00" width="9.80" height="9.80" fill="#d62728"/>
<text x="358.20" y="635.70" font-size="17.2"><tspan font-style="italic">m</tspan><tspan dx="2.4">=</tspan><tspan dx="1.9">32</tspan></text>
<rect x="234.00" y="536.80" width="197.70" height="218.40" fill="none" stroke="#111" stroke-width="1.1"/>
<line x1="229.00" y1="546.40" x2="234.00" y2="546.40" stroke="#333" stroke-width="1.1"/>
<text x="224.60" y="554.43" font-size="22" text-anchor="end">1.0</text>
<line x1="229.00" y1="647.00" x2="234.00" y2="647.00" stroke="#333" stroke-width="1.1"/>
<text x="224.60" y="655.03" font-size="22" text-anchor="end">0.5</text>
<line x1="229.00" y1="747.60" x2="234.00" y2="747.60" stroke="#333" stroke-width="1.1"/>
<text x="224.60" y="755.63" font-size="22" text-anchor="end">0.0</text>
<line x1="237.50" y1="755.20" x2="237.50" y2="760.20" stroke="#333" stroke-width="1.1"/>
<text x="237.50" y="783.00" font-size="22" text-anchor="middle">0</text>
<line x1="330.55" y1="755.20" x2="330.55" y2="760.20" stroke="#333" stroke-width="1.1"/>
<text x="330.55" y="783.00" font-size="22" text-anchor="middle">20</text>
<line x1="423.60" y1="755.20" x2="423.60" y2="760.20" stroke="#333" stroke-width="1.1"/>
<text x="423.60" y="783.00" font-size="22" text-anchor="middle">40</text>
<text x="173.70" y="646.00" font-size="24" text-anchor="middle" transform="rotate(-90 173.70 646.00)"><tspan font-style="italic">n</tspan><tspan font-size="17" dy="5.5">(<tspan font-style="italic">k</tspan>, <tspan font-style="italic">m</tspan>)</tspan></text>
<text x="332.00" y="809.40" font-size="25" text-anchor="middle" font-style="italic">k</text>
<rect x="463.50" y="543.10" width="18.10" height="354.10" fill="url(#gme)"/>
<rect x="463.50" y="897.00" width="18.10" height="2.20" fill="#f4f4f4"/>
<line x1="463.50" y1="896.80" x2="481.60" y2="896.80" stroke="#888" stroke-width="0.6"/>
<rect x="463.50" y="543.10" width="18.10" height="356.10" fill="none" stroke="#333" stroke-width="1"/>
<line x1="481.60" y1="543.10" x2="486.60" y2="543.10" stroke="#333" stroke-width="1.1"/>
<line x1="481.60" y1="728.30" x2="486.60" y2="728.30" stroke="#333" stroke-width="1.1"/>
<line x1="481.60" y1="672.55" x2="484.60" y2="672.55" stroke="#333" stroke-width="0.9"/>
<line x1="481.60" y1="639.94" x2="484.60" y2="639.94" stroke="#333" stroke-width="0.9"/>
<line x1="481.60" y1="616.80" x2="484.60" y2="616.80" stroke="#333" stroke-width="0.9"/>
<line x1="481.60" y1="598.85" x2="484.60" y2="598.85" stroke="#333" stroke-width="0.9"/>
<line x1="481.60" y1="584.19" x2="484.60" y2="584.19" stroke="#333" stroke-width="0.9"/>
<line x1="481.60" y1="571.79" x2="484.60" y2="571.79" stroke="#333" stroke-width="0.9"/>
<line x1="481.60" y1="561.05" x2="484.60" y2="561.05" stroke="#333" stroke-width="0.9"/>
<line x1="481.60" y1="551.57" x2="484.60" y2="551.57" stroke="#333" stroke-width="0.9"/>
<line x1="481.60" y1="857.75" x2="484.60" y2="857.75" stroke="#333" stroke-width="0.9"/>
<line x1="481.60" y1="825.14" x2="484.60" y2="825.14" stroke="#333" stroke-width="0.9"/>
<line x1="481.60" y1="802.00" x2="484.60" y2="802.00" stroke="#333" stroke-width="0.9"/>
<line x1="481.60" y1="784.05" x2="484.60" y2="784.05" stroke="#333" stroke-width="0.9"/>
<line x1="481.60" y1="769.39" x2="484.60" y2="769.39" stroke="#333" stroke-width="0.9"/>
<line x1="481.60" y1="756.99" x2="484.60" y2="756.99" stroke="#333" stroke-width="0.9"/>
<line x1="481.60" y1="746.25" x2="484.60" y2="746.25" stroke="#333" stroke-width="0.9"/>
<line x1="481.60" y1="736.77" x2="484.60" y2="736.77" stroke="#333" stroke-width="0.9"/>
<text x="490.80" y="551.40" font-size="24">10<tspan font-size="17.3" dy="-9.0">0</tspan></text>
<text x="491.20" y="736.80" font-size="24">10<tspan font-size="17.3" dy="-9.0">−1</tspan></text>
<text x="452.30" y="518.20" font-size="28"><tspan font-style="italic">n</tspan><tspan font-size="19.6" dy="3.7">(<tspan font-style="italic">k</tspan>, <tspan font-style="italic">m</tspan>)</tspan></text>
<g shape-rendering="crispEdges">
<rect x="642.13" y="908.63" width="7.93" height="4.97" fill="#f1f5f7"/>
<rect x="642.13" y="903.96" width="7.93" height="4.97" fill="#f0f4f7"/>
<rect x="642.13" y="899.29" width="7.93" height="4.97" fill="#f1f5f7"/>
<rect x="642.13" y="894.62" width="7.93" height="4.97" fill="#f8f8f7"/>
<rect x="642.13" y="889.95" width="7.93" height="4.97" fill="#396a9e"/>
<rect x="642.13" y="885.28" width="7.93" height="4.97" fill="#5fa3cc"/>
<rect x="642.13" y="880.61" width="7.93" height="4.97" fill="#ecf2f6"/>
<rect x="642.13" y="875.94" width="7.93" height="4.97" fill="#f2f6f7"/>
<rect x="642.13" y="871.27" width="7.93" height="4.97" fill="#deecf3"/>
<rect x="642.13" y="866.60" width="7.93" height="4.97" fill="#ebf2f6"/>
<rect x="642.13" y="861.94" width="7.93" height="4.97" fill="#366597"/>
<rect x="642.13" y="857.27" width="7.93" height="4.97" fill="#5a9cc8"/>
<rect x="642.13" y="852.60" width="7.93" height="4.97" fill="#5fa3cc"/>
<rect x="642.13" y="847.93" width="7.93" height="4.97" fill="#ecf2f6"/>
<rect x="642.13" y="843.26" width="7.93" height="4.97" fill="#f8f8f7"/>
<rect x="642.13" y="838.59" width="7.93" height="4.97" fill="#eff4f6"/>
<rect x="642.13" y="833.92" width="7.93" height="4.97" fill="#eff4f6"/>
<rect x="642.13" y="829.25" width="7.93" height="4.97" fill="#eff4f6"/>
<rect x="642.13" y="824.58" width="7.93" height="4.97" fill="#f0f4f7"/>
<rect x="642.13" y="819.91" width="7.93" height="4.97" fill="#f0f4f7"/>
<rect x="642.13" y="815.24" width="7.93" height="4.97" fill="#f0f4f7"/>
<rect x="649.76" y="908.63" width="7.93" height="4.97" fill="#f8f8f7"/>
<rect x="649.76" y="903.96" width="7.93" height="4.97" fill="#f5f7f8"/>
<rect x="649.76" y="899.29" width="7.93" height="4.97" fill="#f2f6f7"/>
<rect x="649.76" y="894.62" width="7.93" height="4.97" fill="#d8e9f2"/>
<rect x="649.76" y="889.95" width="7.93" height="4.97" fill="#f8f8f7"/>
<rect x="649.76" y="885.28" width="7.93" height="4.97" fill="#f8f8f7"/>
<rect x="649.76" y="880.61" width="7.93" height="4.97" fill="#eff4f6"/>
<rect x="649.76" y="875.94" width="7.93" height="4.97" fill="#cde4ef"/>
<rect x="649.76" y="871.27" width="7.93" height="4.97" fill="#cde4ef"/>
<rect x="649.76" y="866.60" width="7.93" height="4.97" fill="#deecf3"/>
<rect x="649.76" y="861.94" width="7.93" height="4.97" fill="#deecf3"/>
<rect x="649.76" y="857.27" width="7.93" height="4.97" fill="#e8f1f5"/>
<rect x="649.76" y="852.60" width="7.93" height="4.97" fill="#eff4f6"/>
<rect x="649.76" y="847.93" width="7.93" height="4.97" fill="#f8f8f7"/>
<rect x="649.76" y="843.26" width="7.93" height="4.97" fill="#f2f6f7"/>
<rect x="649.76" y="838.59" width="7.93" height="4.97" fill="#f8f8f7"/>
<rect x="649.76" y="833.92" width="7.93" height="4.97" fill="#f8f8f7"/>
<rect x="649.76" y="829.25" width="7.93" height="4.97" fill="#f5f7f8"/>
<rect x="649.76" y="824.58" width="7.93" height="4.97" fill="#ecf2f6"/>
<rect x="649.76" y="819.91" width="7.93" height="4.97" fill="#f8f8f7"/>
<rect x="649.76" y="815.24" width="7.93" height="4.97" fill="#f8f8f7"/>
<rect x="657.39" y="908.63" width="7.93" height="4.97" fill="#f8f8f7"/>
<rect x="657.39" y="903.96" width="7.93" height="4.97" fill="#edf3f6"/>
<rect x="657.39" y="899.29" width="7.93" height="4.97" fill="#f0f4f7"/>
<rect x="657.39" y="894.62" width="7.93" height="4.97" fill="#f8f8f7"/>
<rect x="657.39" y="889.95" width="7.93" height="4.97" fill="#ecf2f6"/>
<rect x="657.39" y="885.28" width="7.93" height="4.97" fill="#deecf3"/>
<rect x="657.39" y="880.61" width="7.93" height="4.97" fill="#edf3f6"/>
<rect x="657.39" y="875.94" width="7.93" height="4.97" fill="#f8f8f7"/>
<rect x="657.39" y="871.27" width="7.93" height="4.97" fill="#f2f6f7"/>
<rect x="657.39" y="866.60" width="7.93" height="4.97" fill="#f4f6f7"/>
<rect x="657.39" y="861.94" width="7.93" height="4.97" fill="#f8f8f7"/>
<rect x="657.39" y="857.27" width="7.93" height="4.97" fill="#f4f6f7"/>
<rect x="657.39" y="852.60" width="7.93" height="4.97" fill="#ecf2f6"/>
<rect x="657.39" y="847.93" width="7.93" height="4.97" fill="#edf3f6"/>
<rect x="657.39" y="843.26" width="7.93" height="4.97" fill="#f8f8f7"/>
<rect x="657.39" y="838.59" width="7.93" height="4.97" fill="#eff4f6"/>
<rect x="657.39" y="833.92" width="7.93" height="4.97" fill="#eff4f6"/>
<rect x="657.39" y="829.25" width="7.93" height="4.97" fill="#eff4f6"/>
<rect x="657.39" y="824.58" width="7.93" height="4.97" fill="#f1f5f7"/>
<rect x="657.39" y="819.91" width="7.93" height="4.97" fill="#5fa3cc"/>
<rect x="657.39" y="815.24" width="7.93" height="4.97" fill="#deecf3"/>
<rect x="665.02" y="908.63" width="7.93" height="4.97" fill="#f5f7f8"/>
<rect x="665.02" y="903.96" width="7.93" height="4.97" fill="#f1f5f7"/>
<rect x="665.02" y="899.29" width="7.93" height="4.97" fill="#396a9e"/>
<rect x="665.02" y="894.62" width="7.93" height="4.97" fill="#f8f8f7"/>
<rect x="665.02" y="889.95" width="7.93" height="4.97" fill="#81b9d8"/>
<rect x="665.02" y="885.28" width="7.93" height="4.97" fill="#f8f8f7"/>
<rect x="665.02" y="880.61" width="7.93" height="4.97" fill="#f8f8f7"/>
<rect x="665.02" y="875.94" width="7.93" height="4.97" fill="#f4f6f7"/>
<rect x="665.02" y="871.27" width="7.93" height="4.97" fill="#f8f8f7"/>
<rect x="665.02" y="866.60" width="7.93" height="4.97" fill="#f4f6f7"/>
<rect x="665.02" y="861.94" width="7.93" height="4.97" fill="#eff4f6"/>
<rect x="665.02" y="857.27" width="7.93" height="4.97" fill="#f8f8f7"/>
<rect x="665.02" y="852.60" width="7.93" height="4.97" fill="#f8f8f7"/>
<rect x="665.02" y="847.93" width="7.93" height="4.97" fill="#f1f5f7"/>
<rect x="665.02" y="843.26" width="7.93" height="4.97" fill="#94c5de"/>
<rect x="665.02" y="838.59" width="7.93" height="4.97" fill="#a1cde3"/>
<rect x="665.02" y="833.92" width="7.93" height="4.97" fill="#cde4ef"/>
<rect x="665.02" y="829.25" width="7.93" height="4.97" fill="#f1f5f7"/>
<rect x="665.02" y="824.58" width="7.93" height="4.97" fill="#faeee7"/>
<rect x="665.02" y="819.91" width="7.93" height="4.97" fill="#fbede4"/>
<rect x="665.02" y="815.24" width="7.93" height="4.97" fill="#f9f3ef"/>
<rect x="672.65" y="908.63" width="7.93" height="4.97" fill="#edf3f6"/>
<rect x="672.65" y="903.96" width="7.93" height="4.97" fill="#edf3f6"/>
<rect x="672.65" y="899.29" width="7.93" height="4.97" fill="#f8f8f7"/>
<rect x="672.65" y="894.62" width="7.93" height="4.97" fill="#b2d6e7"/>
<rect x="672.65" y="889.95" width="7.93" height="4.97" fill="#ecf2f6"/>
<rect x="672.65" y="885.28" width="7.93" height="4.97" fill="#f8f8f7"/>
<rect x="672.65" y="880.61" width="7.93" height="4.97" fill="#f1f5f7"/>
<rect x="672.65" y="875.94" width="7.93" height="4.97" fill="#f8f8f7"/>
<rect x="672.65" y="871.27" width="7.93" height="4.97" fill="#f4f6f7"/>
<rect x="672.65" y="866.60" width="7.93" height="4.97" fill="#f1f5f7"/>
<rect x="672.65" y="861.94" width="7.93" height="4.97" fill="#f1f5f7"/>
<rect x="672.65" y="857.27" width="7.93" height="4.97" fill="#f8f8f7"/>
<rect x="672.65" y="852.60" width="7.93" height="4.97" fill="#6cacd0"/>
<rect x="672.65" y="847.93" width="7.93" height="4.97" fill="#c7e0ed"/>
<rect x="672.65" y="843.26" width="7.93" height="4.97" fill="#e5eff5"/>
<rect x="672.65" y="838.59" width="7.93" height="4.97" fill="#f8f8f7"/>
<rect x="672.65" y="833.92" width="7.93" height="4.97" fill="#f8f8f7"/>
<rect x="672.65" y="829.25" width="7.93" height="4.97" fill="#f9f3ef"/>
<rect x="680.28" y="908.63" width="7.93" height="4.97" fill="#ecf2f6"/>
<rect x="680.28" y="903.96" width="7.93" height="4.97" fill="#f2f6f7"/>
<rect x="680.28" y="899.29" width="7.93" height="4.97" fill="#f2f6f7"/>
<rect x="680.28" y="894.62" width="7.93" height="4.97" fill="#f2f6f7"/>
<rect x="680.28" y="889.95" width="7.93" height="4.97" fill="#eff4f6"/>
<rect x="680.28" y="885.28" width="7.93" height="4.97" fill="#f4f6f7"/>
<rect x="680.28" y="880.61" width="7.93" height="4.97" fill="#eff4f6"/>
<rect x="680.28" y="875.94" width="7.93" height="4.97" fill="#bddbea"/>
<rect x="680.28" y="871.27" width="7.93" height="4.97" fill="#f1f5f7"/>
<rect x="680.28" y="866.60" width="7.93" height="4.97" fill="#f1f5f7"/>
<rect x="680.28" y="861.94" width="7.93" height="4.97" fill="#ecf2f6"/>
<rect x="680.28" y="857.27" width="7.93" height="4.97" fill="#acd3e6"/>
<rect x="680.28" y="852.60" width="7.93" height="4.97" fill="#e2eef4"/>
<rect x="680.28" y="847.93" width="7.93" height="4.97" fill="#f2f6f7"/>
<rect x="680.28" y="843.26" width="7.93" height="4.97" fill="#f0f4f7"/>
<rect x="680.28" y="838.59" width="7.93" height="4.97" fill="#ecf2f6"/>
<rect x="687.91" y="908.63" width="7.93" height="4.97" fill="#ebf2f6"/>
<rect x="687.91" y="903.96" width="7.93" height="4.97" fill="#f0f4f7"/>
<rect x="687.91" y="899.29" width="7.93" height="4.97" fill="#f8f8f7"/>
<rect x="687.91" y="894.62" width="7.93" height="4.97" fill="#f0f4f7"/>
<rect x="687.91" y="889.95" width="7.93" height="4.97" fill="#f4f6f7"/>
<rect x="687.91" y="885.28" width="7.93" height="4.97" fill="#f8f8f7"/>
<rect x="687.91" y="880.61" width="7.93" height="4.97" fill="#f8f8f7"/>
<rect x="687.91" y="875.94" width="7.93" height="4.97" fill="#f1f5f7"/>
<rect x="687.91" y="871.27" width="7.93" height="4.97" fill="#f8f8f7"/>
<rect x="687.91" y="866.60" width="7.93" height="4.97" fill="#f8f8f7"/>
<rect x="687.91" y="861.94" width="7.93" height="4.97" fill="#cde4ef"/>
<rect x="687.91" y="857.27" width="7.93" height="4.97" fill="#e5eff5"/>
<rect x="687.91" y="852.60" width="7.93" height="4.97" fill="#f1f5f7"/>
<rect x="687.91" y="847.93" width="7.93" height="4.97" fill="#f8f8f7"/>
<rect x="687.91" y="843.26" width="7.93" height="4.97" fill="#f2f6f7"/>
<rect x="695.54" y="908.63" width="7.93" height="4.97" fill="#f4f6f7"/>
<rect x="695.54" y="903.96" width="7.93" height="4.97" fill="#f1f5f7"/>
<rect x="695.54" y="899.29" width="7.93" height="4.97" fill="#ecf2f6"/>
<rect x="695.54" y="894.62" width="7.93" height="4.97" fill="#f4f6f7"/>
<rect x="695.54" y="889.95" width="7.93" height="4.97" fill="#f2f6f7"/>
<rect x="695.54" y="885.28" width="7.93" height="4.97" fill="#edf3f6"/>
<rect x="695.54" y="880.61" width="7.93" height="4.97" fill="#81b9d8"/>
<rect x="695.54" y="875.94" width="7.93" height="4.97" fill="#edf3f6"/>
<rect x="695.54" y="871.27" width="7.93" height="4.97" fill="#f8f8f7"/>
<rect x="695.54" y="866.60" width="7.93" height="4.97" fill="#deecf3"/>
<rect x="695.54" y="861.94" width="7.93" height="4.97" fill="#eff4f6"/>
<rect x="695.54" y="857.27" width="7.93" height="4.97" fill="#f5f7f8"/>
<rect x="695.54" y="852.60" width="7.93" height="4.97" fill="#ecf2f6"/>
<rect x="695.54" y="847.93" width="7.93" height="4.97" fill="#f8f8f7"/>
<rect x="703.17" y="908.63" width="7.93" height="4.97" fill="#ecf2f6"/>
<rect x="703.17" y="903.96" width="7.93" height="4.97" fill="#f1f5f7"/>
<rect x="703.17" y="899.29" width="7.93" height="4.97" fill="#f2f6f7"/>
<rect x="703.17" y="894.62" width="7.93" height="4.97" fill="#f8f8f7"/>
<rect x="703.17" y="889.95" width="7.93" height="4.97" fill="#f8f8f7"/>
<rect x="703.17" y="885.28" width="7.93" height="4.97" fill="#ebf2f6"/>
<rect x="703.17" y="880.61" width="7.93" height="4.97" fill="#edf3f6"/>
<rect x="703.17" y="875.94" width="7.93" height="4.97" fill="#f8f8f7"/>
<rect x="703.17" y="871.27" width="7.93" height="4.97" fill="#f8f8f7"/>
<rect x="703.17" y="866.60" width="7.93" height="4.97" fill="#f0f4f7"/>
<rect x="703.17" y="861.94" width="7.93" height="4.97" fill="#faf2ee"/>
<rect x="703.17" y="857.27" width="7.93" height="4.97" fill="#faf2ee"/>
<rect x="703.17" y="852.60" width="7.93" height="4.97" fill="#faf1ec"/>
<rect x="703.17" y="847.93" width="7.93" height="4.97" fill="#f9c9b2"/>
<rect x="710.80" y="908.63" width="7.93" height="4.97" fill="#edf3f6"/>
<rect x="710.80" y="903.96" width="7.93" height="4.97" fill="#edf3f6"/>
<rect x="710.80" y="899.29" width="7.93" height="4.97" fill="#f8f8f7"/>
<rect x="710.80" y="894.62" width="7.93" height="4.97" fill="#f2f6f7"/>
<rect x="710.80" y="889.95" width="7.93" height="4.97" fill="#f8f8f7"/>
<rect x="710.80" y="885.28" width="7.93" height="4.97" fill="#f8f8f7"/>
<rect x="710.80" y="880.61" width="7.93" height="4.97" fill="#f2f6f7"/>
<rect x="710.80" y="875.94" width="7.93" height="4.97" fill="#f1f5f7"/>
<rect x="710.80" y="871.27" width="7.93" height="4.97" fill="#eff4f6"/>
<rect x="710.80" y="866.60" width="7.93" height="4.97" fill="#faf1ec"/>
<rect x="710.80" y="861.94" width="7.93" height="4.97" fill="#faf0eb"/>
<rect x="710.80" y="857.27" width="7.93" height="4.97" fill="#f9f5f3"/>
<rect x="710.80" y="852.60" width="7.93" height="4.97" fill="#fde0cf"/>
<rect x="718.43" y="908.63" width="7.93" height="4.97" fill="#ecf2f6"/>
<rect x="718.43" y="903.96" width="7.93" height="4.97" fill="#f1f5f7"/>
<rect x="718.43" y="899.29" width="7.93" height="4.97" fill="#eff4f6"/>
<rect x="718.43" y="894.62" width="7.93" height="4.97" fill="#f4f6f7"/>
<rect x="718.43" y="889.95" width="7.93" height="4.97" fill="#f5f7f8"/>
<rect x="718.43" y="885.28" width="7.93" height="4.97" fill="#f1f5f7"/>
<rect x="718.43" y="880.61" width="7.93" height="4.97" fill="#f8f8f7"/>
<rect x="718.43" y="875.94" width="7.93" height="4.97" fill="#f4f6f7"/>
<rect x="718.43" y="871.27" width="7.93" height="4.97" fill="#faf2ee"/>
<rect x="718.43" y="866.60" width="7.93" height="4.97" fill="#faf1ec"/>
<rect x="718.43" y="861.94" width="7.93" height="4.97" fill="#f9f5f3"/>
<rect x="718.43" y="857.27" width="7.93" height="4.97" fill="#faf0eb"/>
<rect x="726.06" y="908.63" width="7.93" height="4.97" fill="#f5f7f8"/>
<rect x="726.06" y="903.96" width="7.93" height="4.97" fill="#f2f6f7"/>
<rect x="726.06" y="899.29" width="7.93" height="4.97" fill="#f4f6f7"/>
<rect x="726.06" y="894.62" width="7.93" height="4.97" fill="#eff4f6"/>
<rect x="726.06" y="889.95" width="7.93" height="4.97" fill="#f8f8f7"/>
<rect x="726.06" y="885.28" width="7.93" height="4.97" fill="#f0f4f7"/>
<rect x="726.06" y="880.61" width="7.93" height="4.97" fill="#f0f4f7"/>
<rect x="726.06" y="875.94" width="7.93" height="4.97" fill="#f9f6f4"/>
<rect x="726.06" y="871.27" width="7.93" height="4.97" fill="#faf1ec"/>
<rect x="726.06" y="866.60" width="7.93" height="4.97" fill="#f9f6f4"/>
<rect x="726.06" y="861.94" width="7.93" height="4.97" fill="#faf1ec"/>
<rect x="733.69" y="908.63" width="7.93" height="4.97" fill="#f8f8f7"/>
<rect x="733.69" y="903.96" width="7.93" height="4.97" fill="#f2f6f7"/>
<rect x="733.69" y="899.29" width="7.93" height="4.97" fill="#f8f8f7"/>
<rect x="733.69" y="894.62" width="7.93" height="4.97" fill="#f8f8f7"/>
<rect x="733.69" y="889.95" width="7.93" height="4.97" fill="#f2f6f7"/>
<rect x="733.69" y="885.28" width="7.93" height="4.97" fill="#cd5959"/>
<rect x="733.69" y="880.61" width="7.93" height="4.97" fill="#faf2ee"/>
<rect x="733.69" y="875.94" width="7.93" height="4.97" fill="#faf0eb"/>
<rect x="733.69" y="871.27" width="7.93" height="4.97" fill="#f9f3ef"/>
<rect x="741.32" y="908.63" width="7.93" height="4.97" fill="#ecf2f6"/>
<rect x="741.32" y="903.96" width="7.93" height="4.97" fill="#f8f8f7"/>
<rect x="741.32" y="899.29" width="7.93" height="4.97" fill="#edf3f6"/>
<rect x="741.32" y="894.62" width="7.93" height="4.97" fill="#f1f5f7"/>
<rect x="741.32" y="889.95" width="7.93" height="4.97" fill="#e18371"/>
<rect x="741.32" y="885.28" width="7.93" height="4.97" fill="#faf1ec"/>
<rect x="741.32" y="880.61" width="7.93" height="4.97" fill="#faf2ee"/>
<rect x="741.32" y="875.94" width="7.93" height="4.97" fill="#f9f4f1"/>
<rect x="748.95" y="908.63" width="7.93" height="4.97" fill="#f4f6f7"/>
<rect x="748.95" y="903.96" width="7.93" height="4.97" fill="#edf3f6"/>
<rect x="748.95" y="899.29" width="7.93" height="4.97" fill="#f5f7f8"/>
<rect x="748.95" y="894.62" width="7.93" height="4.97" fill="#f1f5f7"/>
<rect x="748.95" y="889.95" width="7.93" height="4.97" fill="#7e2641"/>
<rect x="748.95" y="885.28" width="7.93" height="4.97" fill="#f9f3ef"/>
<rect x="748.95" y="880.61" width="7.93" height="4.97" fill="#f9f3ef"/>
<rect x="748.95" y="875.94" width="7.93" height="4.97" fill="#fce8dc"/>
<rect x="756.58" y="908.63" width="7.93" height="4.97" fill="#f8f8f7"/>
<rect x="756.58" y="903.96" width="7.93" height="4.97" fill="#f0f4f7"/>
<rect x="756.58" y="899.29" width="7.93" height="4.97" fill="#f2f6f7"/>
<rect x="756.58" y="894.62" width="7.93" height="4.97" fill="#7e2641"/>
<rect x="756.58" y="889.95" width="7.93" height="4.97" fill="#f9f3ef"/>
<rect x="756.58" y="885.28" width="7.93" height="4.97" fill="#faf2ee"/>
<rect x="756.58" y="880.61" width="7.93" height="4.97" fill="#fde0cf"/>
<rect x="764.21" y="908.63" width="7.93" height="4.97" fill="#eff4f6"/>
<rect x="764.21" y="903.96" width="7.93" height="4.97" fill="#faf0eb"/>
<rect x="764.21" y="899.29" width="7.93" height="4.97" fill="#f0a68b"/>
<rect x="764.21" y="894.62" width="7.93" height="4.97" fill="#f9f4f1"/>
<rect x="764.21" y="889.95" width="7.93" height="4.97" fill="#faf1ec"/>
<rect x="771.84" y="908.63" width="7.93" height="4.97" fill="#f8f8f7"/>
<rect x="771.84" y="903.96" width="7.93" height="4.97" fill="#f9f3ef"/>
<rect x="771.84" y="899.29" width="7.93" height="4.97" fill="#f7bb9f"/>
<rect x="771.84" y="894.62" width="7.93" height="4.97" fill="#faf1ec"/>
<rect x="771.84" y="889.95" width="7.93" height="4.97" fill="#fde0cf"/>
<rect x="642.13" y="707.84" width="7.93" height="4.97" fill="#eff4f6"/>
<rect x="642.13" y="717.18" width="7.93" height="4.97" fill="#faf1ec"/>
<rect x="642.13" y="726.52" width="7.93" height="4.97" fill="#ebf2f6"/>
<rect x="642.13" y="731.19" width="7.93" height="4.97" fill="#d8e9f2"/>
<rect x="642.13" y="740.53" width="7.93" height="4.97" fill="#366597"/>
<rect x="642.13" y="745.20" width="7.93" height="4.97" fill="#366597"/>
<rect x="642.13" y="754.54" width="7.93" height="4.97" fill="#f1f5f7"/>
<rect x="642.13" y="759.21" width="7.93" height="4.97" fill="#e5eff5"/>
<rect x="642.13" y="773.21" width="7.93" height="4.97" fill="#fcd7c4"/>
<rect x="642.13" y="777.88" width="7.93" height="4.97" fill="#eff4f6"/>
<rect x="642.13" y="782.55" width="7.93" height="4.97" fill="#f9f3ef"/>
<rect x="649.76" y="745.20" width="7.93" height="4.97" fill="#fbeadf"/>
<rect x="649.76" y="749.87" width="7.93" height="4.97" fill="#f9f3ef"/>
<rect x="649.76" y="754.54" width="7.93" height="4.97" fill="#faeee7"/>
<rect x="649.76" y="759.21" width="7.93" height="4.97" fill="#f9f3ef"/>
<rect x="649.76" y="763.88" width="7.93" height="4.97" fill="#f9f3ef"/>
<rect x="649.76" y="768.55" width="7.93" height="4.97" fill="#f9f3ef"/>
<rect x="649.76" y="773.21" width="7.93" height="4.97" fill="#fbeadf"/>
<rect x="649.76" y="787.22" width="7.93" height="4.97" fill="#f1f5f7"/>
<rect x="649.76" y="791.89" width="7.93" height="4.97" fill="#e2eef4"/>
<rect x="657.39" y="777.88" width="7.93" height="4.97" fill="#f9f3ef"/>
<rect x="657.39" y="782.55" width="7.93" height="4.97" fill="#f9f3ef"/>
<rect x="657.39" y="787.22" width="7.93" height="4.97" fill="#faeee7"/>
<rect x="657.39" y="791.89" width="7.93" height="4.97" fill="#faeee7"/>
<rect x="657.39" y="796.56" width="7.93" height="4.97" fill="#fbeadf"/>
<rect x="657.39" y="801.23" width="7.93" height="4.97" fill="#fbede4"/>
<rect x="657.39" y="805.90" width="7.93" height="4.97" fill="#f9f3ef"/>
<rect x="657.39" y="810.57" width="7.93" height="4.97" fill="#eff4f6"/>
<rect x="665.02" y="810.57" width="7.93" height="4.97" fill="#f7bb9f"/>
<rect x="741.32" y="871.27" width="7.93" height="4.97" fill="#7e2641"/>
<rect x="810.00" y="894.62" width="7.93" height="4.97" fill="#fde0cf"/>
<rect x="802.37" y="894.62" width="7.93" height="4.97" fill="#f9f3ef"/>
<rect x="848.15" y="899.29" width="7.93" height="4.97" fill="#fce8dc"/>
<rect x="840.52" y="899.29" width="7.93" height="4.97" fill="#f9f3ef"/>
<rect x="901.56" y="903.96" width="7.93" height="4.97" fill="#faeee7"/>
<rect x="909.19" y="903.96" width="7.93" height="4.97" fill="#faeee7"/>
<rect x="787.10" y="908.63" width="7.93" height="4.97" fill="#fbeadf"/>
<rect x="794.73" y="894.62" width="7.93" height="4.97" fill="#f9f3ef"/>
<rect x="779.47" y="894.62" width="7.93" height="4.97" fill="#f9f3ef"/>
<rect x="787.10" y="894.62" width="7.93" height="4.97" fill="#f9f3ef"/>
<rect x="779.47" y="908.63" width="7.93" height="4.97" fill="#faf1ec"/>
<rect x="794.73" y="908.63" width="7.93" height="4.97" fill="#f1f5f7"/>
<rect x="832.89" y="908.63" width="7.93" height="4.97" fill="#f1f5f7"/>
<rect x="871.04" y="908.63" width="7.93" height="4.97" fill="#f1f5f7"/>
<rect x="649.76" y="740.53" width="7.93" height="4.97" fill="#7e2641"/>
<rect x="657.39" y="773.21" width="7.93" height="4.97" fill="#7e2641"/>
<rect x="657.39" y="768.55" width="7.93" height="4.97" fill="#7e2641"/>
<rect x="665.02" y="805.90" width="7.93" height="4.97" fill="#7e2641"/>
<rect x="665.02" y="801.23" width="7.93" height="4.97" fill="#7e2641"/>
<rect x="665.02" y="796.56" width="7.93" height="4.97" fill="#7e2641"/>
<rect x="672.65" y="824.58" width="7.93" height="4.97" fill="#7e2641"/>
<rect x="672.65" y="819.91" width="7.93" height="4.97" fill="#7e2641"/>
<rect x="672.65" y="815.24" width="7.93" height="4.97" fill="#7e2641"/>
<rect x="672.65" y="810.57" width="7.93" height="4.97" fill="#7e2641"/>
<rect x="672.65" y="805.90" width="7.93" height="4.97" fill="#7e2641"/>
<rect x="680.28" y="833.92" width="7.93" height="4.97" fill="#7e2641"/>
<rect x="680.28" y="829.25" width="7.93" height="4.97" fill="#7e2641"/>
<rect x="680.28" y="824.58" width="7.93" height="4.97" fill="#7e2641"/>
<rect x="680.28" y="819.91" width="7.93" height="4.97" fill="#7e2641"/>
<rect x="680.28" y="815.24" width="7.93" height="4.97" fill="#7e2641"/>
<rect x="687.91" y="838.59" width="7.93" height="4.97" fill="#7e2641"/>
<rect x="687.91" y="833.92" width="7.93" height="4.97" fill="#7e2641"/>
<rect x="687.91" y="829.25" width="7.93" height="4.97" fill="#7e2641"/>
<rect x="687.91" y="824.58" width="7.93" height="4.97" fill="#7e2641"/>
<rect x="687.91" y="819.91" width="7.93" height="4.97" fill="#7e2641"/>
<rect x="695.54" y="843.26" width="7.93" height="4.97" fill="#7e2641"/>
<rect x="695.54" y="838.59" width="7.93" height="4.97" fill="#7e2641"/>
<rect x="695.54" y="833.92" width="7.93" height="4.97" fill="#7e2641"/>
<rect x="695.54" y="829.25" width="7.93" height="4.97" fill="#7e2641"/>
<rect x="703.17" y="843.26" width="7.93" height="4.97" fill="#7e2641"/>
<rect x="703.17" y="838.59" width="7.93" height="4.97" fill="#7e2641"/>
<rect x="703.17" y="833.92" width="7.93" height="4.97" fill="#7e2641"/>
<rect x="710.80" y="847.93" width="7.93" height="4.97" fill="#7e2641"/>
<rect x="710.80" y="843.26" width="7.93" height="4.97" fill="#7e2641"/>
<rect x="710.80" y="838.59" width="7.93" height="4.97" fill="#7e2641"/>
<rect x="718.43" y="852.60" width="7.93" height="4.97" fill="#7e2641"/>
<rect x="718.43" y="847.93" width="7.93" height="4.97" fill="#7e2641"/>
<rect x="718.43" y="843.26" width="7.93" height="4.97" fill="#7e2641"/>
<rect x="726.06" y="857.27" width="7.93" height="4.97" fill="#7e2641"/>
<rect x="726.06" y="852.60" width="7.93" height="4.97" fill="#7e2641"/>
<rect x="726.06" y="847.93" width="7.93" height="4.97" fill="#7e2641"/>
<rect x="733.69" y="866.60" width="7.93" height="4.97" fill="#7e2641"/>
<rect x="733.69" y="861.94" width="7.93" height="4.97" fill="#7e2641"/>
<rect x="733.69" y="857.27" width="7.93" height="4.97" fill="#7e2641"/>
<rect x="733.69" y="852.60" width="7.93" height="4.97" fill="#7e2641"/>
<rect x="741.32" y="866.60" width="7.93" height="4.97" fill="#7e2641"/>
<rect x="741.32" y="861.94" width="7.93" height="4.97" fill="#7e2641"/>
<rect x="741.32" y="857.27" width="7.93" height="4.97" fill="#7e2641"/>
<rect x="748.95" y="871.27" width="7.93" height="4.97" fill="#7e2641"/>
<rect x="748.95" y="866.60" width="7.93" height="4.97" fill="#7e2641"/>
<rect x="748.95" y="861.94" width="7.93" height="4.97" fill="#7e2641"/>
<rect x="756.58" y="875.94" width="7.93" height="4.97" fill="#7e2641"/>
<rect x="756.58" y="871.27" width="7.93" height="4.97" fill="#7e2641"/>
<rect x="756.58" y="866.60" width="7.93" height="4.97" fill="#7e2641"/>
<rect x="764.21" y="885.28" width="7.93" height="4.97" fill="#7e2641"/>
<rect x="764.21" y="880.61" width="7.93" height="4.97" fill="#7e2641"/>
<rect x="764.21" y="875.94" width="7.93" height="4.97" fill="#7e2641"/>
<rect x="771.84" y="885.28" width="7.93" height="4.97" fill="#7e2641"/>
<rect x="779.47" y="889.95" width="7.93" height="4.97" fill="#7e2641"/>
<rect x="779.47" y="903.96" width="7.93" height="4.97" fill="#7e2641"/>
<rect x="787.10" y="889.95" width="7.93" height="4.97" fill="#7e2641"/>
<rect x="817.63" y="894.62" width="7.93" height="4.97" fill="#7e2641"/>
<rect x="825.26" y="894.62" width="7.93" height="4.97" fill="#7e2641"/>
<rect x="855.78" y="899.29" width="7.93" height="4.97" fill="#7e2641"/>
<rect x="863.41" y="899.29" width="7.93" height="4.97" fill="#7e2641"/>
</g>
<rect x="634.50" y="530.40" width="328.10" height="382.90" fill="none" stroke="#262626" stroke-width="1.1"/>
<line x1="629.50" y1="910.97" x2="634.50" y2="910.97" stroke="#333" stroke-width="1.1"/>
<text x="625.10" y="917.87" font-size="24" text-anchor="end">2</text>
<line x1="629.50" y1="864.27" x2="634.50" y2="864.27" stroke="#333" stroke-width="1.1"/>
<text x="625.10" y="871.17" font-size="24" text-anchor="end">12</text>
<line x1="629.50" y1="817.57" x2="634.50" y2="817.57" stroke="#333" stroke-width="1.1"/>
<text x="625.10" y="824.47" font-size="24" text-anchor="end">22</text>
<line x1="629.50" y1="770.88" x2="634.50" y2="770.88" stroke="#333" stroke-width="1.1"/>
<text x="625.10" y="777.78" font-size="24" text-anchor="end">32</text>
<line x1="629.50" y1="724.18" x2="634.50" y2="724.18" stroke="#333" stroke-width="1.1"/>
<text x="625.10" y="731.08" font-size="24" text-anchor="end">42</text>
<line x1="629.50" y1="677.49" x2="634.50" y2="677.49" stroke="#333" stroke-width="1.1"/>
<text x="625.10" y="684.39" font-size="24" text-anchor="end">52</text>
<line x1="629.50" y1="630.79" x2="634.50" y2="630.79" stroke="#333" stroke-width="1.1"/>
<text x="625.10" y="637.69" font-size="24" text-anchor="end">62</text>
<line x1="629.50" y1="584.10" x2="634.50" y2="584.10" stroke="#333" stroke-width="1.1"/>
<text x="625.10" y="591.00" font-size="24" text-anchor="end">72</text>
<line x1="629.50" y1="537.40" x2="634.50" y2="537.40" stroke="#333" stroke-width="1.1"/>
<text x="625.10" y="544.30" font-size="24" text-anchor="end">82</text>
<line x1="638.32" y1="913.30" x2="638.32" y2="918.30" stroke="#333" stroke-width="1.1"/>
<text x="638.32" y="944.06" font-size="24" text-anchor="middle" transform="rotate(-45 638.32 935.30)">1</text>
<line x1="676.47" y1="913.30" x2="676.47" y2="918.30" stroke="#333" stroke-width="1.1"/>
<text x="676.47" y="944.06" font-size="24" text-anchor="middle" transform="rotate(-45 676.47 935.30)">6</text>
<line x1="714.62" y1="913.30" x2="714.62" y2="918.30" stroke="#333" stroke-width="1.1"/>
<text x="714.62" y="949.45" font-size="24" text-anchor="middle" transform="rotate(-45 714.62 940.69)">11</text>
<line x1="752.77" y1="913.30" x2="752.77" y2="918.30" stroke="#333" stroke-width="1.1"/>
<text x="752.77" y="949.45" font-size="24" text-anchor="middle" transform="rotate(-45 752.77 940.69)">16</text>
<line x1="790.92" y1="913.30" x2="790.92" y2="918.30" stroke="#333" stroke-width="1.1"/>
<text x="790.92" y="949.45" font-size="24" text-anchor="middle" transform="rotate(-45 790.92 940.69)">21</text>
<line x1="829.07" y1="913.30" x2="829.07" y2="918.30" stroke="#333" stroke-width="1.1"/>
<text x="829.07" y="949.45" font-size="24" text-anchor="middle" transform="rotate(-45 829.07 940.69)">26</text>
<line x1="867.22" y1="913.30" x2="867.22" y2="918.30" stroke="#333" stroke-width="1.1"/>
<text x="867.22" y="949.45" font-size="24" text-anchor="middle" transform="rotate(-45 867.22 940.69)">31</text>
<line x1="905.37" y1="913.30" x2="905.37" y2="918.30" stroke="#333" stroke-width="1.1"/>
<text x="905.37" y="949.45" font-size="24" text-anchor="middle" transform="rotate(-45 905.37 940.69)">36</text>
<line x1="943.52" y1="913.30" x2="943.52" y2="918.30" stroke="#333" stroke-width="1.1"/>
<text x="943.52" y="949.45" font-size="24" text-anchor="middle" transform="rotate(-45 943.52 940.69)">41</text>
<text x="583.20" y="721.85" font-size="28" text-anchor="middle" font-style="italic" transform="rotate(-90 583.20 721.85)">m</text>
<text x="798.55" y="987.70" font-size="28" text-anchor="middle" font-style="italic">k</text>
<text x="570.40" y="530.60" font-size="28" text-anchor="start" font-weight="bold">f</text>
<polygon points="982.80,559.50 991.70,543.50 1000.60,559.50" fill="#67001f"/>
<polygon points="982.80,883.60 991.70,899.60 1000.60,883.60" fill="#053061"/>
<rect x="982.80" y="559.50" width="17.80" height="322.10" fill="url(#gf)"/>
<rect x="982.80" y="881.40" width="17.80" height="2.20" fill="#f4f4f4"/>
<line x1="982.80" y1="881.20" x2="1000.60" y2="881.20" stroke="#666" stroke-width="0.6"/>
<rect x="982.80" y="559.50" width="17.80" height="324.10" fill="none" stroke="#333" stroke-width="1"/>
<line x1="1000.60" y1="576.70" x2="1005.60" y2="576.70" stroke="#333" stroke-width="1.1"/>
<text x="1010.10" y="585.30" font-size="24" text-anchor="start">50</text>
<line x1="1000.60" y1="672.70" x2="1005.60" y2="672.70" stroke="#333" stroke-width="1.1"/>
<text x="1010.10" y="681.30" font-size="24" text-anchor="start">0</text>
<line x1="1000.60" y1="768.70" x2="1005.60" y2="768.70" stroke="#333" stroke-width="1.1"/>
<text x="1010.10" y="777.30" font-size="24" text-anchor="start">−50</text>
<line x1="1000.60" y1="864.70" x2="1005.60" y2="864.70" stroke="#333" stroke-width="1.1"/>
<text x="1010.10" y="873.30" font-size="24" text-anchor="start">−100</text>
<text x="971.00" y="519.10" font-size="28"><tspan font-style="italic">z</tspan><tspan font-size="19.6" dy="3.7">(<tspan font-style="italic">k</tspan>, <tspan font-style="italic">m</tspan>)</tspan></text>
<polyline points="1169.8,45.7 1170.1,107.9 1170.5,110.1 1170.8,112.2 1171.1,114.3 1171.5,116.4 1171.8,117.6 1172.5,118.7 1173.1,119.7 1173.8,120.8 1174.5,121.9 1175.1,123.0 1175.8,123.9 1176.5,124.7 1177.1,125.5 1177.8,126.3 1178.5,127.0 1179.1,127.8 1179.8,128.6 1180.5,129.3 1181.1,130.1 1181.8,131.0 1182.5,131.9 1183.1,132.9 1183.8,133.8 1184.1,151.0 1184.5,166.6 1184.8,170.5 1185.1,174.3 1185.5,177.0 1185.8,179.8 1186.1,183.3 1186.5,187.5 1186.8,191.8 1187.1,196.1 1187.8,196.5 1188.5,196.9 1189.1,197.3 1189.8,197.7 1190.5,198.2 1191.2,198.6 1191.8,199.0 1192.5,199.4 1193.2,199.9 1193.8,200.5 1194.5,201.2 1195.2,201.9 1195.8,202.6 1196.5,203.2 1197.2,203.9 1197.8,204.6 1198.5,205.3 1199.2,205.9 1199.8,206.6 1200.5,207.3 1201.2,208.3 1201.5,208.9 1201.8,209.6 1202.2,210.3 1202.5,210.9 1202.8,211.6 1203.2,212.2 1203.5,212.9 1203.8,213.6 1204.2,214.2 1204.5,214.9 1204.8,215.5 1205.2,216.2 1205.5,216.9 1205.8,217.5 1206.2,218.2 1206.5,218.9 1206.8,219.5 1207.2,220.2 1207.5,220.8 1207.8,221.5 1208.2,222.2 1208.5,222.8 1208.8,223.4 1209.5,224.2 1210.2,225.0 1210.8,225.8 1211.5,226.6 1212.2,227.4 1212.8,228.2 1213.5,229.0 1214.2,229.8 1214.8,230.6 1215.5,231.4 1216.2,232.2 1216.8,233.0 1217.5,233.8 1218.2,234.6 1218.8,235.7 1219.2,236.4 1219.5,237.0 1219.8,237.7 1220.2,238.4 1220.5,239.0 1220.8,239.7 1221.2,240.4 1221.5,241.1 1221.8,241.7 1222.2,242.4 1222.5,243.1 1222.8,243.7 1223.2,244.4 1223.5,245.1 1223.8,245.7 1224.2,246.4 1224.5,247.1 1224.8,247.8 1225.2,248.4 1225.5,249.1 1225.8,249.8 1226.2,250.4 1226.5,251.1 1226.8,251.8 1227.2,252.4 1227.5,253.1 1227.8,253.8 1228.2,254.4 1228.8,255.5 1229.5,256.6 1230.2,257.7 1230.8,258.7 1231.5,259.8 1232.2,260.9 1232.9,262.0 1233.5,263.0 1234.2,264.1 1234.9,265.2 1235.5,266.2 1236.2,267.3 1236.9,268.4 1237.5,269.5 1238.2,270.4 1238.9,270.9 1239.5,271.5 1240.2,272.1 1240.9,272.6 1241.5,273.2 1242.2,273.8 1242.9,274.3 1243.5,274.9 1244.2,275.5 1244.9,276.0 1245.5,276.6 1246.2,277.1 1246.9,277.7 1247.5,278.3 1248.2,278.8 1248.9,279.4 1249.5,280.0 1250.2,280.5 1250.9,281.1 1251.5,281.6 1252.2,282.3 1252.9,283.0 1253.5,283.6 1254.2,284.3 1254.9,285.0 1255.5,285.6 1256.2,286.3 1256.9,287.0 1257.5,287.6 1258.2,288.3 1258.9,289.0 1259.5,289.7 1260.2,290.3 1260.9,291.0 1261.5,291.7 1262.2,292.3 1262.9,293.0 1263.5,293.7 1264.2,294.3 1264.9,295.0 1265.5,295.7 1266.2,296.3 1266.9,297.0 1267.5,297.5 1268.2,297.8 1268.9,298.2 1269.5,298.5 1270.2,298.9 1270.9,299.2 1271.5,299.5 1272.2,299.9 1272.9,300.2 1273.5,300.6 1274.2,300.9 1274.9,301.2 1275.6,301.6 1276.2,301.9 1276.9,302.2 1277.6,302.6 1278.2,302.9 1278.9,303.3 1279.6,303.6 1280.2,303.9 1280.9,304.3 1281.6,304.6 1282.2,305.0 1282.9,305.3 1283.6,305.6 1284.2,306.0 1284.9,306.3 1285.6,306.7 1286.2,307.0 1286.9,307.3 1287.6,307.8 1288.2,308.3 1288.9,308.7 1289.6,309.2 1290.2,309.7 1290.9,310.1 1291.6,310.6 1292.2,311.1 1292.9,311.5 1293.6,312.0 1294.2,312.5 1294.9,312.9 1295.6,313.4 1296.2,313.9 1296.9,314.3 1297.6,314.8 1298.2,315.3 1298.9,315.7 1299.6,316.2 1300.2,316.7 1300.9,317.1 1301.6,317.6 1302.2,318.0 1302.9,318.5 1303.6,319.0 1304.2,319.4 1304.9,319.9 1305.6,320.4 1306.2,320.8 1306.9,321.7 1307.6,322.5 1308.2,323.3 1308.9,324.2 1309.6,325.0 1310.2,325.8 1310.9,326.7 1311.6,327.5 1312.2,328.3 1312.9,329.2 1313.6,330.0 1314.2,330.8 1314.9,331.7 1315.6,332.5 1316.3,333.3 1316.9,334.2 1317.6,335.0 1318.3,335.8 1318.9,336.6 1319.6,337.5 1320.3,338.3 1320.9,339.1 1321.6,340.0 1322.3,340.7 1322.9,341.2 1323.6,341.7 1324.3,342.3 1324.9,342.8 1325.6,343.3 1326.3,343.9 1326.9,344.4 1327.6,344.9 1328.3,345.5 1328.9,346.0 1329.6,346.5 1330.3,347.1 1330.9,347.6 1331.6,348.1 1332.3,348.7 1332.9,349.2 1333.6,349.8 1334.3,350.3 1334.9,350.8 1335.6,351.4 1336.3,351.9 1336.9,352.4 1337.6,353.0 1338.3,353.5 1338.9,354.0 1339.6,354.6 1340.3,355.1 1340.9,355.6 1341.6,356.1 1342.3,356.4 1342.9,356.8 1343.6,357.1 1344.3,357.4 1344.9,357.8 1345.6,358.1 1346.3,358.4 1346.9,358.7 1347.6,359.1 1348.3,359.4 1348.9,359.7 1349.6,360.1 1350.3,360.4 1350.9,360.7 1351.6,361.1 1352.3,361.4 1352.9,361.7 1353.6,362.1 1354.3,362.4 1354.9,362.7 1355.6,363.0 1356.3,363.4 1356.9,363.7 1357.6,364.0 1358.3,364.4 1359.0,364.7 1359.6,365.0 1360.3,365.4 1361.0,365.7 1361.6,366.0 1362.3,366.4 1363.0,366.7 1363.6,367.0 1364.3,367.3 1365.0,367.7 1365.6,368.0 1366.3,368.2 1367.0,368.5 1367.6,368.8 1368.3,369.1 1369.0,369.4 1369.6,369.6 1370.3,369.9 1371.0,370.2 1371.6,370.5 1372.3,370.7 1373.0,371.0 1373.6,371.3 1374.3,371.6 1375.0,371.9 1375.6,372.1 1376.3,372.4 1377.0,372.7 1377.6,373.0 1378.3,373.3 1379.0,373.5 1379.6,373.8 1380.3,374.1 1381.0,374.4 1381.6,374.7 1382.3,374.9 1383.0,375.2 1383.6,375.5 1384.3,375.8 1385.0,376.1 1385.6,376.3 1386.3,376.6 1387.0,376.9 1387.6,377.2 1388.3,377.5 1389.0,377.7 1389.6,377.9 1390.3,378.1 1391.0,378.4 1391.6,378.6 1392.3,378.8 1393.0,379.0 1393.6,379.3 1394.3,379.5 1395.0,379.7 1395.6,379.9 1396.3,380.2 1397.0,380.4 1397.6,380.6 1398.3,380.8 1399.0,381.1 1399.7,381.3 1400.3,381.5 1401.0,381.7 1401.7,382.0 1402.3,382.2 1403.0,382.4 1403.7,382.6 1404.3,382.9 1405.0,383.1 1405.7,383.3 1406.3,383.5 1407.0,383.8 1407.7,384.0 1408.3,384.2 1409.0,384.4 1409.7,384.7 1410.3,384.9 1411.0,385.1 1411.7,385.3 1412.3,385.5 1413.0,385.7 1413.7,385.8 1414.3,386.0 1415.0,386.2 1415.7,386.3 1416.3,386.5 1417.0,386.7 1417.7,386.8 1418.3,387.0 1419.0,387.2 1419.7,387.3 1420.3,387.5 1421.0,387.7 1421.7,387.8 1422.3,388.0 1423.0,388.2 1423.7,388.3 1424.3,388.5 1425.0,388.7 1425.7,388.8 1426.3,389.0 1427.0,389.2 1427.7,389.3 1428.3,389.5 1429.0,389.7 1429.7,389.8 1430.3,390.0 1431.0,390.2 1431.7,390.3 1432.3,390.5 1433.0,390.7 1433.7,390.8 1434.3,391.0 1435.0,391.2 1435.7,391.2 1436.3,391.3 1437.0,391.3 1437.7,391.4 1438.3,391.5 1439.0,391.5 1439.7,391.6 1440.3,391.6 1441.0,391.7 1441.7,391.7 1442.4,391.8 1443.0,391.9 1443.7,391.9 1444.4,392.0 1445.0,392.0 1445.7,392.1 1446.4,392.1 1447.0,392.2 1447.7,392.3 1448.4,392.3 1449.0,392.4 1449.7,392.4 1450.4,392.5 1451.0,392.5 1451.7,392.6 1452.4,392.7 1453.0,392.7 1453.7,392.8 1454.4,392.8 1455.0,392.9 1455.7,392.9 1456.4,393.0 1457.0,393.1 1457.7,393.1 1458.4,393.2 1459.0,393.2 1459.7,393.3 1460.4,393.3 1461.0,393.4 1461.7,393.5 1462.4,393.5 1463.0,393.6 1463.7,393.6 1464.4,393.7 1465.0,393.7 1465.7,393.8 1466.4,393.9 1467.0,393.9 1467.7,393.9 1468.4,393.9 1469.0,393.9 1469.7,393.9 1470.4,393.9 1471.0,393.9 1471.7,393.9 1472.4,393.9 1473.0,394.0 1473.7,394.0 1474.4,394.0 1475.0,394.0 1475.7,394.0 1476.4,394.0 1477.0,394.0 1477.7,394.0 1478.4,394.0 1479.0,394.0 1479.7,394.1 1480.4,394.1 1481.0,394.1 1481.7,394.1 1482.4,394.1 1483.1,394.1 1483.7,394.1 1484.4,394.1 1485.1,394.1 1485.7,394.1 1486.4,394.2 1487.1,394.2 1487.7,394.2 1488.4,394.2 1489.1,394.2 1489.7,394.2 1490.4,394.2 1491.1,394.2 1491.7,394.2 1492.4,394.2 1493.1,394.3 1493.7,394.3 1494.4,394.3 1495.1,394.3 1495.7,394.3 1496.4,394.3 1497.1,394.3 1497.7,394.3 1498.4,394.3" fill="none" stroke="none" marker-start="url(#ms3cb371)" marker-mid="url(#ms3cb371)" marker-end="url(#ms3cb371)"/>
<rect x="1153.90" y="28.00" width="358.70" height="383.60" fill="none" stroke="#262626" stroke-width="1.1"/>
<line x1="1148.90" y1="394.80" x2="1153.90" y2="394.80" stroke="#333" stroke-width="1.1"/>
<text x="1144.50" y="404.20" font-size="24" text-anchor="end">0</text>
<line x1="1148.90" y1="315.95" x2="1153.90" y2="315.95" stroke="#333" stroke-width="1.1"/>
<text x="1144.50" y="325.35" font-size="24" text-anchor="end">5</text>
<line x1="1148.90" y1="237.10" x2="1153.90" y2="237.10" stroke="#333" stroke-width="1.1"/>
<text x="1144.50" y="246.50" font-size="24" text-anchor="end">10</text>
<line x1="1148.90" y1="158.25" x2="1153.90" y2="158.25" stroke="#333" stroke-width="1.1"/>
<text x="1144.50" y="167.65" font-size="24" text-anchor="end">15</text>
<line x1="1148.90" y1="79.40" x2="1153.90" y2="79.40" stroke="#333" stroke-width="1.1"/>
<text x="1144.50" y="88.80" font-size="24" text-anchor="end">20</text>
<line x1="1169.80" y1="411.60" x2="1169.80" y2="416.60" stroke="#333" stroke-width="1.1"/>
<text x="1169.80" y="439.50" font-size="24" text-anchor="middle">0</text>
<line x1="1253.20" y1="411.60" x2="1253.20" y2="416.60" stroke="#333" stroke-width="1.1"/>
<text x="1253.20" y="439.50" font-size="24" text-anchor="middle">250</text>
<line x1="1336.60" y1="411.60" x2="1336.60" y2="416.60" stroke="#333" stroke-width="1.1"/>
<text x="1336.60" y="439.50" font-size="24" text-anchor="middle">500</text>
<line x1="1420.00" y1="411.60" x2="1420.00" y2="416.60" stroke="#333" stroke-width="1.1"/>
<text x="1420.00" y="439.50" font-size="24" text-anchor="middle">750</text>
<line x1="1503.40" y1="411.60" x2="1503.40" y2="416.60" stroke="#333" stroke-width="1.1"/>
<text x="1503.40" y="439.50" font-size="24" text-anchor="middle">1000</text>
<text x="1333.25" y="469.90" font-size="28" text-anchor="middle"><tspan font-style="italic">Rank</tspan>(<tspan font-style="italic">i</tspan>)</text>
<text x="1101.90" y="219.80" font-size="28" text-anchor="middle" transform="rotate(-90 1101.90 219.80)"><tspan font-style="italic">R</tspan>(<tspan font-style="italic">i</tspan>)</text>
<text x="1082.80" y="28.30" font-size="28" text-anchor="start" font-weight="bold">c</text>
<rect x="1326.70" y="44.80" width="178.90" height="163.60" fill="#fff"/>
<clipPath id="ci1326"><rect x="1326.70" y="44.80" width="178.90" height="163.60"/></clipPath>
<g clip-path="url(#ci1326)">
<polyline points="1340.5,199.7 1355.6,186.4 1356.9,182.6 1376.2,168.1 1341.1,194.5 1348.9,172.0 1376.0,184.6 1338.0,197.5 1357.5,177.2 1365.4,185.1 1359.9,169.3 1354.9,180.8 1342.5,186.7 1349.0,187.6 1363.5,168.8 1392.9,172.0 1345.8,190.5 1397.6,168.5 1383.0,158.0 1339.9,195.7 1412.0,165.4 1342.5,192.5 1350.6,192.6 1354.5,181.4 1354.5,177.3 1395.3,167.1 1379.0,149.1 1338.3,198.2 1379.7,140.9 1353.7,189.2 1363.1,175.0 1353.9,174.1 1341.9,187.9 1336.3,197.3 1371.5,177.4 1342.2,193.7 1368.0,173.1 1356.2,185.7 1335.3,200.7 1383.4,174.4 1425.3,201.1 1342.8,195.0 1336.1,200.2 1339.3,197.7 1346.3,194.0 1335.2,201.1 1380.9,177.1 1386.6,129.7 1345.2,198.1 1358.1,180.6 1355.1,193.8 1399.4,159.0 1350.5,196.9 1340.5,193.8 1342.5,189.8 1352.6,188.0 1334.5,201.1 1334.7,199.1 1356.3,185.8 1357.0,185.4 1348.7,192.1 1362.6,186.3 1365.1,174.2 1360.2,180.7 1410.6,142.5 1355.0,177.7 1343.1,196.6 1344.8,189.9 1355.1,187.1 1368.4,166.0 1334.8,201.1 1342.8,197.4 1340.0,195.8 1339.0,199.8 1347.4,191.7 1343.2,196.1 1343.6,191.6 1378.9,177.6 1338.5,200.2 1384.1,146.8 1348.1,190.0 1351.6,184.7 1339.1,195.1 1338.9,201.1 1341.7,193.3 1372.1,185.8 1344.0,191.1 1370.7,167.0 1341.5,197.8 1346.8,187.2 1346.4,189.2 1334.3,201.1 1400.5,115.2 1347.4,201.1 1403.5,137.1 1365.8,179.6 1376.1,175.9 1342.1,199.2 1343.8,193.5 1354.7,182.8 1342.0,194.6 1388.2,163.4 1361.5,164.8 1387.3,173.5 1354.1,175.1 1338.6,197.3 1342.4,197.4 1346.5,196.8 1398.8,162.5 1340.9,198.2 1379.9,186.6 1344.2,192.3 1339.3,201.1 1338.5,199.1 1370.4,157.3 1374.3,179.5 1334.4,201.1 1335.4,201.1 1341.5,196.0 1346.9,185.2 1349.0,189.7 1335.5,200.3 1337.3,197.9 1419.1,130.4 1378.7,155.0 1343.0,191.8 1342.9,198.0 1354.6,177.7 1344.5,191.7 1337.3,196.3 1352.9,188.0 1336.1,201.1 1338.7,200.8 1369.5,164.5 1345.3,190.5 1347.3,197.8 1345.0,200.0 1346.8,191.2 1361.6,185.9 1351.9,186.4 1361.6,172.3 1347.0,188.9 1383.1,152.2 1386.9,165.6 1370.4,174.1 1337.2,195.4 1373.0,182.8 1370.5,190.9 1359.6,182.5 1336.7,201.1 1354.7,181.7 1368.6,174.5 1335.2,199.3 1383.3,160.2 1338.8,191.3 1337.2,198.0 1377.1,178.1 1404.6,175.9 1354.2,185.2 1367.9,177.6 1350.7,189.0 1366.1,180.7 1397.2,139.9 1353.4,184.2 1374.9,169.5 1340.8,193.6 1356.3,183.9 1344.8,197.5 1345.9,195.1 1336.2,197.2 1350.2,183.0 1366.0,178.2 1338.2,199.9 1360.1,193.4 1351.0,196.6 1386.8,158.7 1337.9,193.9 1391.6,143.4 1351.0,196.9 1339.0,195.6 1341.4,194.0 1342.9,189.1 1340.3,199.7 1342.3,201.1 1362.4,193.3 1354.5,178.8 1341.4,195.4 1349.3,188.3 1345.3,190.4 1343.2,190.7 1368.6,156.4 1349.3,176.2 1355.3,197.5 1374.0,166.4 1353.0,196.6 1379.1,164.4 1346.0,193.3 1348.8,201.1 1340.2,195.9 1360.2,168.8 1407.8,136.4 1339.1,199.4 1341.1,193.5 1379.4,149.3 1387.3,161.1 1342.9,186.1 1346.9,191.6 1336.4,200.6 1375.7,171.9 1354.3,179.7 1360.2,174.1 1347.4,190.7 1349.6,187.4 1406.0,123.5 1345.7,194.6 1341.6,195.9 1359.5,169.5 1389.5,139.6 1336.6,196.7 1368.4,178.1 1366.9,179.8 1358.7,171.4 1372.1,173.6 1409.3,113.1 1360.0,185.0 1349.9,189.6 1344.2,194.7 1353.5,195.7 1338.8,200.4 1338.8,201.1 1385.2,165.6 1396.3,159.9 1337.7,200.8 1355.2,175.5 1352.9,190.9 1342.9,198.1 1338.7,192.9 1366.6,170.1 1352.3,187.6 1341.3,199.2 1345.4,191.6 1350.4,189.8 1340.8,195.6 1343.6,197.9 1346.1,200.0 1344.3,195.3 1377.6,160.8 1336.6,197.8 1337.0,198.1 1338.9,201.1 1339.0,201.1 1373.3,162.3 1366.1,180.8 1345.9,193.6 1339.2,201.1 1339.4,197.9 1340.9,195.8 1371.8,174.7 1385.5,149.5 1352.8,188.7 1354.4,197.6 1361.0,196.8 1342.4,191.8 1355.4,190.8 1364.2,163.2 1359.3,181.6 1349.8,195.3 1339.2,197.8 1351.6,180.8 1358.2,180.6 1347.8,201.1 1385.6,174.9 1337.6,197.4 1335.4,201.1 1344.5,193.0 1352.1,184.9 1395.6,167.6 1361.6,165.3 1337.5,195.9 1394.7,170.5 1363.3,179.2 1372.2,181.3 1396.2,142.8 1366.9,183.5 1349.5,188.0 1336.1,199.1 1339.4,195.0 1362.0,171.6 1352.0,195.2 1342.6,191.8 1348.6,189.8 1338.8,200.9 1387.3,162.7 1344.9,197.2 1351.6,191.2 1334.3,201.1 1339.6,196.5 1348.4,193.1 1339.2,196.7 1346.1,189.0 1338.5,196.3 1338.5,197.6 1349.8,188.0 1347.9,190.1 1346.3,192.3 1346.1,193.4 1345.9,179.8 1339.9,195.2 1336.5,201.0 1356.7,183.1 1344.0,192.5 1364.3,176.0 1341.6,194.4 1396.6,169.9 1342.5,194.7 1373.1,162.9 1357.1,185.3 1360.7,177.8 1414.7,140.6 1334.9,200.7 1336.4,199.0 1335.5,199.5 1358.7,178.2 1418.4,144.2 1349.2,185.5 1399.2,184.8 1335.0,201.1 1401.9,127.8 1336.3,200.9 1337.0,193.4 1345.6,195.9 1395.2,134.5 1338.6,198.0 1375.9,187.1 1352.8,181.5 1346.6,193.8 1340.2,195.7 1341.5,199.9 1338.5,198.6 1362.8,190.3 1345.5,195.1 1362.9,178.7 1334.7,201.1 1360.3,178.3 1336.6,198.8 1358.0,168.7 1382.9,154.1 1386.7,171.2 1364.7,181.9 1335.9,197.5 1346.0,189.9 1353.6,187.0 1336.9,195.3 1340.6,193.6 1335.4,198.1 1354.6,177.6 1334.5,200.1 1339.9,187.4 1353.3,196.1 1355.6,178.8 1370.1,179.7 1338.7,198.1 1336.1,199.0 1334.8,201.1 1412.6,128.3 1336.3,193.9 1348.7,188.3 1356.3,171.2 1357.9,181.8 1344.0,201.1 1355.6,187.8 1375.9,167.2 1355.0,183.3 1352.1,191.1 1348.6,190.3 1344.0,195.3 1349.5,183.0 1364.9,172.6 1346.9,195.4 1339.8,200.7 1344.2,189.4 1347.2,191.2 1336.2,199.2 1395.9,144.6 1364.1,160.2 1356.1,198.7 1396.1,169.1 1402.5,152.4 1388.1,144.7 1368.5,178.1 1346.3,180.8 1342.2,195.1 1397.1,150.0 1363.8,174.8 1342.3,200.6 1335.2,200.8 1365.8,178.4 1344.0,189.0 1365.5,177.2 1336.7,201.1 1342.4,196.2 1338.0,197.5 1367.4,183.4 1424.2,187.2 1382.5,169.1 1342.8,192.7 1348.6,196.7 1344.5,194.1 1378.4,169.9 1384.5,148.3 1372.2,174.1 1372.2,164.5 1334.4,198.9 1351.9,182.0 1338.4,195.8 1368.2,173.0 1348.7,180.6 1423.7,137.1 1335.0,200.3 1347.3,190.3 1343.7,188.6 1336.5,198.2 1342.8,194.3 1346.7,182.5 1341.2,191.9 1357.0,181.5 1360.2,169.0 1340.8,199.6 1337.6,198.2 1350.6,198.7 1375.3,177.9 1338.5,198.7 1334.6,201.1 1388.9,182.1 1348.8,196.2 1373.1,192.0 1355.5,191.8 1338.5,195.8 1338.9,201.1 1352.5,201.1 1346.3,195.0 1371.7,163.2 1348.1,187.4 1342.9,195.0 1351.3,197.8 1374.8,158.7 1396.1,156.4 1353.9,187.0 1352.6,191.9 1362.8,178.6 1390.3,141.2 1344.9,188.7 1350.9,176.4 1358.0,194.2 1339.2,195.4 1345.4,193.9 1374.9,173.3 1403.4,135.6 1400.7,156.6 1341.9,191.6 1337.5,198.6 1336.1,191.9 1340.2,196.0 1351.5,185.5 1365.6,170.3 1373.5,183.6 1334.3,201.1 1335.9,193.1 1341.4,198.6 1352.5,186.5 1335.3,199.7 1337.8,190.5 1388.7,140.2 1360.1,159.1 1358.3,181.0 1367.1,173.4 1338.7,195.4 1382.2,142.7 1335.4,197.1 1345.3,194.0 1336.8,201.1 1341.8,187.8 1337.5,197.6 1344.2,191.5 1391.1,149.0 1398.9,146.5 1424.5,131.2 1403.8,131.7 1349.5,190.7 1334.7,201.1 1344.0,193.7 1353.6,197.4 1348.6,195.7 1351.9,189.1 1375.5,164.8 1396.6,133.4 1377.8,154.9 1376.5,142.4 1338.4,198.1 1335.5,198.4 1422.8,168.8 1337.0,195.7 1334.5,197.9 1360.9,190.9 1351.4,187.6 1352.2,190.0 1347.6,186.5 1343.2,189.6 1350.5,192.1 1344.5,190.4 1355.4,168.9 1380.0,169.3 1375.9,176.0 1341.5,185.2 1337.2,201.1 1343.8,193.7 1358.1,186.6 1348.1,176.9 1349.2,200.6 1433.7,133.9 1351.6,195.5 1335.9,198.5 1347.0,186.2 1335.6,201.1 1378.7,191.5 1344.8,184.4 1339.8,201.1 1347.2,194.3 1380.9,168.0 1342.5,198.5 1350.5,193.1 1358.6,178.1 1382.3,170.2 1339.9,197.7 1344.9,194.8 1336.2,200.6 1343.1,194.4 1352.1,185.9 1392.9,179.4 1374.9,173.6 1376.2,158.5 1360.7,185.2 1337.2,196.7 1349.1,193.3 1385.3,163.8 1374.3,163.5 1355.3,183.5 1344.2,192.9 1334.4,200.2 1341.6,197.6 1345.6,197.4 1357.1,184.1 1359.1,185.1 1423.6,128.6 1361.3,172.7 1366.6,171.3 1335.8,196.8 1346.9,191.0 1386.1,155.7 1346.7,195.4 1354.4,182.3 1345.7,194.4 1336.3,199.9 1397.4,155.3 1351.3,190.2 1340.3,197.1 1348.8,185.6 1341.9,199.0 1427.1,143.8 1339.4,200.7 1342.4,193.0 1351.7,189.5 1356.6,191.3 1389.8,139.4 1379.2,167.1 1335.6,201.1 1347.3,192.3 1381.6,157.2 1339.8,193.1 1337.1,201.1 1390.8,165.4 1339.0,196.0 1335.1,201.1 1378.3,167.1 1375.6,158.8 1345.6,190.7 1338.7,197.6 1361.6,173.7 1343.8,191.3 1347.7,188.4 1353.4,186.0 1339.8,191.3 1359.9,185.1 1366.3,180.0 1345.8,198.5 1357.1,185.9 1347.7,182.2 1379.6,159.0 1349.8,193.0 1387.1,165.5 1360.9,178.0 1433.0,83.2 1344.0,188.5 1338.7,197.7 1363.4,186.0 1354.4,176.5 1336.8,201.1 1349.2,191.4 1352.1,183.0 1349.9,193.7 1354.4,183.6 1336.5,201.1 1367.3,183.1 1385.7,165.2 1384.1,199.7 1376.0,177.5 1366.0,176.9 1360.4,179.8 1364.9,183.4 1353.5,180.3 1340.8,197.6 1345.5,198.2 1336.9,201.1 1364.0,180.7 1338.6,199.4 1346.3,189.8 1354.0,184.1 1349.4,188.2 1339.4,199.2 1336.7,199.3 1352.0,176.5 1350.9,193.7 1345.9,188.6 1342.9,193.0 1399.8,121.6 1349.2,180.6 1347.4,192.0 1339.0,188.9 1353.8,190.3 1340.0,196.8 1431.9,116.6 1388.1,181.1 1336.6,200.6 1340.1,201.1 1348.3,185.6 1367.4,176.9 1338.4,199.2 1350.6,192.5 1345.0,187.6 1350.4,195.6 1361.1,193.4 1341.1,192.8 1352.4,192.4 1335.3,201.1 1338.5,199.2 1367.0,180.8 1350.4,177.9 1364.2,182.9 1345.0,187.2 1365.8,173.7 1392.9,153.5 1425.1,119.1 1365.3,191.7 1337.9,197.7 1352.3,191.2 1338.3,201.1 1337.6,201.1 1337.6,201.1 1334.4,197.3 1345.6,188.1 1348.3,183.0 1341.3,195.9 1362.1,173.0 1361.9,179.7 1338.5,193.9 1343.4,193.0 1416.2,109.8 1345.6,187.3 1372.0,186.4 1343.3,191.9 1340.1,201.1 1344.0,191.2 1340.2,197.9 1343.0,193.4 1353.9,194.4 1342.1,196.5 1334.8,198.4 1339.3,196.7 1353.6,187.2 1355.4,173.3 1359.3,182.7 1347.0,197.3 1342.7,187.7 1350.2,184.9 1336.6,195.8 1356.8,187.9 1347.5,176.7 1338.5,188.8 1344.7,190.7 1350.2,188.8 1349.3,189.3 1346.6,180.4 1334.5,201.1 1362.7,179.1 1381.2,161.8 1360.2,182.5 1342.6,198.1 1342.6,194.0 1337.5,199.5 1411.1,147.6 1335.2,198.7 1336.2,200.0 1365.8,191.9 1350.6,190.4 1357.2,174.1 1350.8,184.0 1409.9,136.0 1360.3,180.9 1394.4,175.6 1353.2,181.8 1345.7,198.6 1334.9,199.8 1342.6,194.9 1349.0,193.9 1341.1,199.3 1365.7,166.8 1406.8,157.0 1343.7,193.4 1335.6,199.8 1356.0,175.2 1340.6,195.5 1338.7,196.2 1350.3,189.1 1353.4,173.1 1343.8,194.8 1364.7,176.6 1366.3,186.0 1341.5,190.7 1339.9,196.4 1355.7,180.1 1357.9,183.3 1367.8,179.6 1349.2,194.2 1347.3,186.9 1339.4,201.0 1363.2,171.3 1391.2,147.0 1371.4,152.4 1363.0,174.4 1368.8,175.1 1387.3,147.2 1402.1,133.4 1342.2,189.5 1347.4,199.8 1337.8,197.1 1346.9,182.1 1343.0,201.1 1341.0,192.9 1334.6,198.7 1345.4,193.7 1420.2,136.6 1384.7,156.9 1340.7,194.6 1340.2,188.1 1387.7,165.7 1339.8,194.2 1352.3,193.0 1350.6,190.7 1342.4,189.8 1366.5,194.4 1373.8,163.3 1339.5,195.9 1338.1,191.4 1390.9,163.6 1353.1,181.6 1335.5,198.2 1388.5,160.4 1401.5,135.8 1339.4,194.5 1359.5,184.8 1336.8,196.7 1344.0,196.2 1358.7,187.0 1337.3,200.0 1354.0,172.9 1343.9,192.2 1338.5,198.6 1343.0,192.5 1352.3,191.8 1342.1,193.0 1349.6,188.2 1367.9,185.1 1349.4,186.9 1377.7,162.9 1349.3,194.4 1377.5,158.6 1345.1,195.6 1334.5,199.2 1352.4,194.3 1348.1,189.6 1349.0,190.5 1426.2,143.9 1337.0,197.7 1370.8,177.6 1341.2,191.5 1376.4,162.1 1377.3,145.1 1335.5,201.1 1345.2,186.5 1348.1,184.9 1365.7,167.5 1360.3,201.1 1382.3,169.0 1385.4,163.3 1336.4,194.8 1341.8,191.4 1359.3,176.6 1363.3,177.7 1335.1,201.1 1339.8,197.4 1362.4,179.9 1367.8,188.3 1361.9,174.5 1352.0,187.1 1415.1,133.6 1337.4,194.7 1377.5,180.9 1359.8,178.3 1337.6,199.2 1379.6,187.3 1341.8,195.0 1387.3,152.2 1347.5,195.7 1361.9,173.5 1343.0,198.0 1368.8,160.4 1342.3,186.5 1364.4,168.9 1355.0,199.1 1347.2,183.9 1339.8,194.1 1355.4,181.1 1344.7,186.8 1348.4,192.7 1359.1,190.4 1350.0,193.6 1430.7,132.6 1432.7,147.7 1432.4,142.3 1432.9,153.7 1430.5,135.0 1432.0,147.1 1429.0,150.6 1431.0,128.3 1427.3,148.4 1428.6,109.0 1430.3,128.8 1429.2,124.1 1432.6,123.5 1427.3,135.2 1430.5,155.1 1432.5,141.3 1429.2,125.8 1431.1,132.3 1432.9,131.2 1429.6,154.1 1430.9,139.0 1430.8,139.8 1427.4,155.4 1428.4,152.6 1432.9,128.0 1428.9,121.5 1431.5,154.2 1432.2,145.8 1433.8,150.2 1429.2,144.8 1432.9,116.0 1431.1,149.8 1430.1,121.9 1427.7,110.9 1432.8,110.3 1403.4,141.8 1419.4,142.5 1380.7,177.6 1373.5,158.1 1368.6,163.9 1386.0,145.6 1407.0,136.6 1411.9,156.6 1378.4,170.3 1387.9,151.8 1413.9,129.3 1416.7,128.7 1383.7,161.1 1406.3,132.3 1384.4,166.1 1398.6,160.0 1414.1,156.5 1400.5,148.9 1374.3,165.9 1390.5,139.0 1414.2,134.7 1413.4,124.3 1372.6,157.8 1411.2,122.0 1407.0,147.5 1375.0,162.4 1375.3,158.3 1396.3,139.6 1383.7,168.7 1415.3,131.0 1384.9,158.2 1388.2,152.6 1392.9,162.2 1419.7,119.4 1406.9,151.7 1374.3,160.0 1410.6,135.0 1375.4,159.6 1393.3,158.7 1397.1,152.9 1459.8,51.7 1459.8,117.0 1459.8,119.7 1459.8,122.4 1459.8,132.5 1459.8,134.5 1495.9,80.0 1495.9,82.7 1495.9,85.3 1495.9,88.0 1472.8,96.8 1397.7,85.3 1398.5,87.4 1399.2,88.7 1397.0,88.0 1389.1,89.4 1386.2,89.4 1441.1,104.2 1377.5,110.2 1363.8,123.7 1418.0,156.0 1429.5,156.7" fill="none" stroke="none" marker-start="url(#mring)" marker-mid="url(#mring)" marker-end="url(#mring)"/>
</g>
<rect x="1326.70" y="44.80" width="178.90" height="163.60" fill="none" stroke="#111" stroke-width="1.1"/>
<line x1="1321.70" y1="201.10" x2="1326.70" y2="201.10" stroke="#333" stroke-width="1.1"/>
<text x="1317.30" y="209.13" font-size="22" text-anchor="end">0</text>
<line x1="1321.70" y1="133.80" x2="1326.70" y2="133.80" stroke="#333" stroke-width="1.1"/>
<text x="1317.30" y="141.83" font-size="22" text-anchor="end">10</text>
<line x1="1321.70" y1="66.50" x2="1326.70" y2="66.50" stroke="#333" stroke-width="1.1"/>
<text x="1317.30" y="74.53" font-size="22" text-anchor="end">20</text>
<line x1="1334.20" y1="208.40" x2="1334.20" y2="213.40" stroke="#333" stroke-width="1.1"/>
<text x="1334.20" y="235.60" font-size="22" text-anchor="middle">0</text>
<line x1="1478.60" y1="208.40" x2="1478.60" y2="213.40" stroke="#333" stroke-width="1.1"/>
<text x="1478.60" y="235.60" font-size="22" text-anchor="middle">1000</text>
<text x="1278.40" y="126.60" font-size="25" text-anchor="middle" transform="rotate(-90 1278.40 126.60)"><tspan font-style="italic">R</tspan>(<tspan font-style="italic">i</tspan>)</text>
<text x="1416.15" y="262.80" font-size="25" text-anchor="middle"><tspan font-style="italic">S</tspan>(<tspan font-style="italic">i</tspan>)</text>
<polyline points="1638.4,45.5 1638.7,48.3 1639.1,51.1 1639.4,51.8 1640.1,52.2 1640.7,52.2 1641.4,63.6 1641.7,69.9 1642.1,74.0 1642.4,77.7 1642.7,80.3 1643.1,83.0 1643.4,85.6 1643.7,86.5 1644.4,86.8 1645.1,87.1 1645.7,87.3 1646.4,87.6 1647.1,87.9 1647.7,88.1 1648.4,88.4 1649.1,88.7 1649.7,89.0 1650.4,89.2 1651.1,89.5 1651.7,90.0 1652.4,90.5 1653.1,91.1 1653.7,91.7 1654.4,92.3 1655.1,92.8 1655.7,93.4 1656.4,94.0 1657.1,94.6 1657.7,95.1 1658.4,95.7 1659.1,96.3 1659.4,96.9 1659.7,97.5 1660.1,98.2 1660.4,98.8 1660.7,99.5 1661.1,100.1 1661.4,100.8 1661.7,101.4 1662.1,102.1 1662.4,102.7 1662.7,103.4 1663.1,104.0 1663.4,104.6 1663.7,105.3 1664.1,105.9 1664.4,108.2 1664.7,111.6 1665.1,115.0 1665.4,118.3 1665.7,121.7 1666.1,123.7 1666.4,125.6 1666.7,127.5 1667.1,129.5 1667.4,131.4 1667.7,133.4 1668.1,135.3 1668.4,136.0 1669.1,137.0 1669.7,138.0 1670.4,139.1 1671.1,140.1 1671.7,141.2 1672.4,142.2 1673.1,143.2 1673.7,144.3 1674.4,145.3 1675.1,146.4 1675.7,147.4 1676.4,148.4 1677.1,149.5 1677.7,150.6 1678.4,151.7 1679.1,152.8 1679.7,153.9 1680.4,154.9 1681.0,156.0 1681.7,157.1 1682.4,158.2 1683.0,159.3 1683.7,160.4 1684.4,161.5 1685.0,162.6 1685.7,163.6 1686.4,164.7 1687.0,165.7 1687.7,166.7 1688.4,167.7 1689.0,168.7 1689.7,169.7 1690.4,170.7 1691.0,171.7 1691.7,172.7 1692.4,173.7 1693.0,174.7 1693.7,175.7 1694.4,176.9 1694.7,177.8 1695.0,178.6 1695.4,179.5 1695.7,180.4 1696.0,181.3 1696.4,182.1 1696.7,183.0 1697.0,183.9 1697.4,184.8 1697.7,185.7 1698.0,186.5 1698.4,187.4 1698.7,188.3 1699.0,189.2 1699.4,190.0 1699.7,190.9 1700.0,191.8 1700.4,192.5 1700.7,193.2 1701.0,193.8 1701.4,194.5 1701.7,195.1 1702.0,195.8 1702.4,196.5 1702.7,197.1 1703.0,197.8 1703.4,198.4 1703.7,199.1 1704.0,199.8 1704.4,200.4 1704.7,201.1 1705.0,201.7 1705.4,202.4 1705.7,203.1 1706.0,203.7 1706.4,204.4 1706.7,205.0 1707.0,205.7 1707.4,206.4 1707.7,207.0 1708.0,207.7 1708.4,208.3 1708.7,209.0 1709.0,209.7 1709.4,210.3 1709.7,211.0 1710.4,211.8 1711.0,212.4 1711.7,212.9 1712.4,213.5 1713.0,214.1 1713.7,214.6 1714.4,215.2 1715.0,215.8 1715.7,216.4 1716.4,216.9 1717.0,217.5 1717.7,218.1 1718.4,218.6 1719.0,219.2 1719.7,219.8 1720.4,220.4 1721.0,220.9 1721.7,221.5 1722.4,222.1 1723.0,222.6 1723.7,223.1 1724.4,223.5 1725.0,223.8 1725.7,224.2 1726.4,224.5 1727.0,224.9 1727.7,225.2 1728.4,225.6 1729.0,225.9 1729.7,226.3 1730.4,226.6 1731.0,227.0 1731.7,227.3 1732.4,227.7 1733.0,228.0 1733.7,228.3 1734.4,228.7 1735.0,229.0 1735.7,229.4 1736.4,229.7 1737.0,230.1 1737.7,230.4 1738.4,230.8 1739.0,231.1 1739.7,231.6 1740.4,232.2 1741.0,232.7 1741.7,233.3 1742.4,233.8 1743.0,234.3 1743.7,234.9 1744.4,235.4 1745.0,235.9 1745.7,236.5 1746.4,237.0 1747.0,237.6 1747.7,238.1 1748.4,238.6 1749.0,239.2 1749.7,239.7 1750.4,240.3 1751.0,240.8 1751.7,241.6 1752.4,242.3 1753.0,243.1 1753.7,243.9 1754.4,244.6 1755.0,245.4 1755.7,246.1 1756.4,246.9 1757.0,247.6 1757.7,248.4 1758.4,249.1 1759.0,249.9 1759.7,250.6 1760.4,251.4 1761.0,252.2 1761.7,252.9 1762.4,253.7 1763.0,254.4 1763.7,255.2 1764.3,255.9 1765.0,256.7 1765.7,257.4 1766.3,258.2 1767.0,259.0 1767.7,259.9 1768.3,260.8 1769.0,261.7 1769.7,262.6 1770.3,263.5 1771.0,264.3 1771.7,265.2 1772.3,266.1 1773.0,267.0 1773.7,267.9 1774.3,268.7 1775.0,269.6 1775.7,270.5 1776.3,271.4 1777.0,272.3 1777.7,273.2 1778.3,274.0 1779.0,274.8 1779.7,275.5 1780.3,276.3 1781.0,277.0 1781.7,277.8 1782.3,278.5 1783.0,279.3 1783.7,280.1 1784.3,280.8 1785.0,281.6 1785.7,282.3 1786.3,283.1 1787.0,283.8 1787.7,284.6 1788.3,285.3 1789.0,286.1 1789.7,286.8 1790.3,287.6 1791.0,288.4 1791.7,289.1 1792.3,289.9 1793.0,290.6 1793.7,291.4 1794.3,292.1 1795.0,292.8 1795.7,293.6 1796.3,294.3 1797.0,295.1 1797.7,295.8 1798.3,296.5 1799.0,297.3 1799.7,298.0 1800.3,298.7 1801.0,299.5 1801.7,300.2 1802.3,300.9 1803.0,301.7 1803.7,302.4 1804.3,303.1 1805.0,303.9 1805.7,304.6 1806.3,305.4 1807.0,306.1 1807.7,306.8 1808.3,307.6 1809.0,308.3 1809.7,309.0 1810.3,309.8 1811.0,310.5 1811.7,311.2 1812.3,312.0 1813.0,312.7 1813.7,313.6 1814.3,314.5 1815.0,315.4 1815.7,316.3 1816.3,317.3 1817.0,318.2 1817.7,319.1 1818.3,320.0 1819.0,321.0 1819.7,321.9 1820.3,322.8 1821.0,323.7 1821.7,324.7 1822.3,325.6 1823.0,326.5 1823.7,327.4 1824.3,328.4 1825.0,329.3 1825.7,330.2 1826.3,331.1 1827.0,332.0 1827.7,333.0 1828.3,333.9 1829.0,334.8 1829.7,335.7 1830.3,336.7 1831.0,337.6 1831.7,338.5 1832.3,339.4 1833.0,340.3 1833.7,340.8 1834.3,341.3 1835.0,341.8 1835.7,342.3 1836.3,342.8 1837.0,343.3 1837.7,343.8 1838.3,344.3 1839.0,344.8 1839.7,345.3 1840.3,345.8 1841.0,346.3 1841.7,346.8 1842.3,347.3 1843.0,347.8 1843.7,348.3 1844.3,348.8 1845.0,349.3 1845.7,349.8 1846.3,350.3 1847.0,350.9 1847.6,351.4 1848.3,351.9 1849.0,352.4 1849.6,352.9 1850.3,353.4 1851.0,353.9 1851.6,354.4 1852.3,354.9 1853.0,355.4 1853.6,355.9 1854.3,356.4 1855.0,356.9 1855.6,357.4 1856.3,357.9 1857.0,358.4 1857.6,358.8 1858.3,359.3 1859.0,359.8 1859.6,360.2 1860.3,360.7 1861.0,361.2 1861.6,361.6 1862.3,362.1 1863.0,362.6 1863.6,363.1 1864.3,363.5 1865.0,364.0 1865.6,364.5 1866.3,364.9 1867.0,365.4 1867.6,365.9 1868.3,366.4 1869.0,366.8 1869.6,367.3 1870.3,367.8 1871.0,368.2 1871.6,368.7 1872.3,369.2 1873.0,369.6 1873.6,370.1 1874.3,370.6 1875.0,371.1 1875.6,371.5 1876.3,371.9 1877.0,372.1 1877.6,372.4 1878.3,372.7 1879.0,373.0 1879.6,373.3 1880.3,373.6 1881.0,373.9 1881.6,374.1 1882.3,374.4 1883.0,374.7 1883.6,375.0 1884.3,375.3 1885.0,375.6 1885.6,375.8 1886.3,376.1 1887.0,376.4 1887.6,376.7 1888.3,377.0 1889.0,377.3 1889.6,377.6 1890.3,377.8 1891.0,378.1 1891.6,378.4 1892.3,378.7 1893.0,379.0 1893.6,379.3 1894.3,379.5 1895.0,379.8 1895.6,380.1 1896.3,380.4 1897.0,380.7 1897.6,381.0 1898.3,381.2 1899.0,381.5 1899.6,381.8 1900.3,382.1 1901.0,382.4 1901.6,382.7 1902.3,383.0 1903.0,383.2 1903.6,383.4 1904.3,383.6 1905.0,383.8 1905.6,384.0 1906.3,384.2 1907.0,384.4 1907.6,384.6 1908.3,384.8 1909.0,385.0 1909.6,385.1 1910.3,385.3 1911.0,385.5 1911.6,385.7 1912.3,385.9 1913.0,386.1 1913.6,386.3 1914.3,386.5 1915.0,386.7 1915.6,386.9 1916.3,387.0 1917.0,387.2 1917.6,387.4 1918.3,387.6 1919.0,387.8 1919.6,388.0 1920.3,388.2 1921.0,388.4 1921.6,388.6 1922.3,388.7 1923.0,388.9 1923.6,389.1 1924.3,389.3 1925.0,389.5 1925.6,389.7 1926.3,389.9 1927.0,390.1 1927.6,390.3 1928.3,390.4 1929.0,390.6 1929.6,390.8 1930.3,391.0 1930.9,391.1 1931.6,391.2 1932.3,391.2 1932.9,391.3 1933.6,391.3 1934.3,391.4 1934.9,391.5 1935.6,391.5 1936.3,391.6 1936.9,391.6 1937.6,391.7 1938.3,391.8 1938.9,391.8 1939.6,391.9 1940.3,392.0 1940.9,392.0 1941.6,392.1 1942.3,392.1 1942.9,392.2 1943.6,392.3 1944.3,392.3 1944.9,392.4 1945.6,392.4 1946.3,392.5 1946.9,392.6 1947.6,392.6 1948.3,392.7 1948.9,392.7 1949.6,392.8 1950.3,392.9 1950.9,392.9 1951.6,393.0 1952.3,393.0 1952.9,393.1 1953.6,393.2 1954.3,393.2 1954.9,393.3 1955.6,393.3 1956.3,393.4 1956.9,393.5 1957.6,393.5 1958.3,393.6 1958.9,393.6 1959.6,393.7 1960.3,393.8 1960.9,393.8 1961.6,393.9 1962.3,393.9 1962.9,394.0 1963.6,394.1 1964.3,394.1 1964.9,394.2 1965.6,394.2" fill="none" stroke="none" marker-start="url(#msff0000)" marker-mid="url(#msff0000)" marker-end="url(#msff0000)"/>
<rect x="1622.10" y="28.00" width="358.50" height="383.60" fill="none" stroke="#262626" stroke-width="1.1"/>
<line x1="1617.10" y1="395.30" x2="1622.10" y2="395.30" stroke="#333" stroke-width="1.1"/>
<text x="1612.70" y="404.70" font-size="24" text-anchor="end">0.0</text>
<line x1="1617.10" y1="324.70" x2="1622.10" y2="324.70" stroke="#333" stroke-width="1.1"/>
<text x="1612.70" y="334.10" font-size="24" text-anchor="end">0.2</text>
<line x1="1617.10" y1="254.10" x2="1622.10" y2="254.10" stroke="#333" stroke-width="1.1"/>
<text x="1612.70" y="263.50" font-size="24" text-anchor="end">0.4</text>
<line x1="1617.10" y1="183.50" x2="1622.10" y2="183.50" stroke="#333" stroke-width="1.1"/>
<text x="1612.70" y="192.90" font-size="24" text-anchor="end">0.6</text>
<line x1="1617.10" y1="112.90" x2="1622.10" y2="112.90" stroke="#333" stroke-width="1.1"/>
<text x="1612.70" y="122.30" font-size="24" text-anchor="end">0.8</text>
<line x1="1617.10" y1="42.30" x2="1622.10" y2="42.30" stroke="#333" stroke-width="1.1"/>
<text x="1612.70" y="51.70" font-size="24" text-anchor="end">1.0</text>
<line x1="1638.40" y1="411.60" x2="1638.40" y2="416.60" stroke="#333" stroke-width="1.1"/>
<text x="1638.40" y="439.50" font-size="24" text-anchor="middle">0</text>
<line x1="1721.70" y1="411.60" x2="1721.70" y2="416.60" stroke="#333" stroke-width="1.1"/>
<text x="1721.70" y="439.50" font-size="24" text-anchor="middle">250</text>
<line x1="1805.00" y1="411.60" x2="1805.00" y2="416.60" stroke="#333" stroke-width="1.1"/>
<text x="1805.00" y="439.50" font-size="24" text-anchor="middle">500</text>
<line x1="1888.30" y1="411.60" x2="1888.30" y2="416.60" stroke="#333" stroke-width="1.1"/>
<text x="1888.30" y="439.50" font-size="24" text-anchor="middle">750</text>
<line x1="1971.60" y1="411.60" x2="1971.60" y2="416.60" stroke="#333" stroke-width="1.1"/>
<text x="1971.60" y="439.50" font-size="24" text-anchor="middle">1000</text>
<text x="1801.35" y="469.90" font-size="28" text-anchor="middle"><tspan font-style="italic">Rank</tspan>(<tspan font-style="italic">i</tspan>)</text>
<text x="1562.80" y="219.80" font-size="28" text-anchor="middle" transform="rotate(-90 1562.80 219.80)"><tspan font-style="italic">R</tspan><tspan font-size="0.7em" dy="0.2em" font-style="italic">w</tspan><tspan dy="-0.2em">(<tspan font-style="italic">i</tspan>)</tspan></text>
<text x="1546.40" y="28.30" font-size="28" text-anchor="start" font-weight="bold">d</text>
<rect x="1793.20" y="43.80" width="180.10" height="165.50" fill="#fff"/>
<clipPath id="ci1793"><rect x="1793.20" y="43.80" width="180.10" height="165.50"/></clipPath>
<g clip-path="url(#ci1793)">
<polyline points="1821.1,167.3 1856.2,131.0 1828.0,150.5 1814.6,180.0 1856.5,121.2 1805.1,202.0 1814.7,178.7 1818.8,160.0 1803.1,200.7 1849.2,98.3 1830.0,137.9 1805.7,188.6 1820.8,166.6 1841.2,126.6 1807.3,189.9 1841.3,86.2 1809.3,182.0 1824.0,163.7 1807.2,185.6 1866.3,89.9 1844.8,124.7 1806.3,190.5 1805.8,192.1 1820.2,165.3 1803.0,202.0 1809.8,193.7 1834.8,151.0 1815.2,177.3 1825.7,130.7 1803.3,196.7 1828.8,150.3 1831.8,147.4 1811.4,186.2 1803.8,200.6 1806.6,191.2 1829.2,152.7 1852.5,90.1 1811.1,188.2 1816.8,174.3 1828.7,157.1 1832.7,141.7 1857.3,99.7 1804.7,202.0 1849.6,91.3 1810.7,179.5 1809.9,192.0 1810.0,187.0 1805.9,194.2 1824.7,153.3 1803.8,200.2 1817.1,179.3 1819.7,165.5 1835.6,151.4 1804.0,198.5 1849.2,92.6 1836.9,132.3 1805.5,198.4 1821.5,188.7 1831.9,135.3 1805.9,192.6 1837.7,138.3 1838.6,117.6 1814.2,192.1 1815.1,177.3 1809.3,192.4 1811.7,182.6 1862.9,101.6 1810.6,192.5 1804.6,199.8 1840.6,103.3 1811.3,183.0 1825.0,176.2 1823.3,161.7 1825.7,167.6 1809.1,200.5 1824.8,157.6 1809.4,180.8 1819.1,174.6 1803.1,202.0 1823.7,163.6 1814.5,174.9 1832.7,160.1 1810.9,193.1 1835.8,154.8 1810.9,178.9 1824.7,176.8 1861.4,112.1 1806.3,196.1 1836.7,121.8 1824.8,163.7 1826.6,156.5 1831.2,154.1 1819.1,175.0 1821.1,174.8 1830.7,160.0 1803.4,202.0 1806.2,202.0 1807.5,190.0 1824.5,161.8 1814.8,180.4 1807.7,189.7 1810.0,186.9 1806.6,194.2 1814.6,177.3 1811.8,191.6 1808.0,197.2 1846.5,100.6 1809.0,190.1 1812.8,172.7 1811.6,176.4 1803.6,202.0 1817.6,175.7 1810.6,201.4 1834.8,155.7 1813.0,178.2 1811.5,194.2 1805.8,202.0 1861.7,101.8 1867.2,92.1 1844.7,129.5 1802.9,197.4 1820.7,159.7 1805.7,202.0 1811.7,195.3 1813.4,180.5 1870.0,68.8 1811.8,169.8 1819.8,173.8 1808.5,184.0 1812.9,183.4 1810.1,180.5 1809.2,190.4 1815.0,170.6 1813.8,173.5 1809.4,187.0 1803.1,202.0 1817.1,177.2 1831.3,118.7 1808.2,192.1 1809.4,185.8 1820.4,180.9 1820.2,166.2 1828.3,138.4 1809.6,181.8 1817.1,177.8 1817.0,168.6 1814.6,187.3 1819.6,158.1 1803.6,200.7 1849.3,93.0 1843.8,124.7 1831.0,147.7 1813.3,191.8 1821.6,172.3 1815.2,171.5 1812.2,187.5 1838.6,128.5 1836.0,126.9 1804.2,195.6 1813.5,191.0 1809.2,187.1 1805.8,202.0 1815.1,186.9 1810.4,189.7 1806.0,202.0 1804.2,202.0 1807.8,188.1 1823.2,178.2 1803.4,202.0 1825.5,186.6 1803.8,198.3 1822.3,169.9 1859.7,93.6 1809.4,192.7 1849.6,97.2 1812.9,174.6 1806.2,196.8 1805.0,198.9 1811.8,182.5 1818.9,169.5 1828.2,148.2 1813.4,184.1 1810.0,194.2 1855.0,112.8 1811.7,175.0 1806.0,193.2 1821.5,186.4 1818.0,173.2 1821.0,167.6 1808.4,183.8 1828.8,157.4 1807.9,192.6 1811.6,185.4 1826.2,163.2 1822.8,150.7 1804.7,194.7 1805.4,200.3 1842.0,131.7 1815.1,184.3 1803.5,193.4 1827.0,149.1 1859.6,87.6 1824.2,159.5 1870.1,68.8 1823.3,159.8 1821.2,170.9 1811.1,185.5 1820.7,159.1 1810.9,189.1 1836.1,132.4 1822.4,160.5 1838.5,146.5 1816.5,184.3 1828.1,160.9 1812.3,182.2 1807.1,192.9 1803.7,196.4 1829.6,158.4 1802.9,202.0 1820.9,163.1 1813.3,184.9 1806.0,195.3 1806.1,199.4 1842.5,114.1 1806.0,196.1 1806.2,191.2 1809.2,189.0 1803.5,195.4 1851.1,135.5 1824.6,141.8 1823.8,185.0 1805.2,195.2 1823.5,165.6 1827.3,138.5 1806.2,195.1 1807.8,191.2 1804.4,202.0 1811.4,174.9 1809.9,193.5 1827.5,152.2 1826.5,151.7 1823.7,155.0 1855.6,111.1 1803.0,202.0 1804.1,198.8 1803.8,202.0 1817.7,162.8 1810.9,186.8 1804.7,188.7 1815.5,170.1 1854.1,89.2 1803.9,198.9 1812.4,178.5 1812.7,180.9 1809.7,187.0 1869.4,70.2 1806.6,200.4 1817.0,174.8 1804.5,199.7 1817.5,169.9 1850.4,136.7 1807.4,199.7 1803.2,202.0 1818.7,173.6 1811.7,192.6 1848.5,131.8 1809.8,199.9 1807.6,189.3 1805.2,198.4 1830.5,143.4 1834.9,142.2 1804.5,196.5 1808.1,186.4 1819.0,165.9 1808.2,183.2 1803.8,197.4 1807.1,195.1 1804.8,193.5 1813.1,186.8 1818.1,159.3 1845.2,134.5 1818.9,183.0 1813.8,176.3 1860.7,115.5 1827.2,157.2 1834.1,150.7 1811.9,182.7 1806.4,193.8 1808.6,193.1 1804.1,202.0 1829.8,152.0 1803.9,200.5 1805.5,202.0 1858.5,68.8 1820.6,166.3 1811.3,178.5 1810.4,178.8 1835.6,136.7 1827.1,143.6 1806.4,191.4 1826.0,180.6 1832.5,134.6 1805.2,202.0 1814.4,164.1 1813.5,192.9 1854.3,90.5 1817.1,163.3 1804.9,199.3 1834.3,144.3 1803.5,200.0 1819.0,188.7 1812.2,182.2 1807.4,193.8 1818.3,166.2 1811.1,185.9 1811.0,191.2 1808.2,180.3 1838.3,135.8 1820.9,171.1 1836.2,132.7 1815.5,172.8 1804.8,197.5 1826.5,150.1 1832.7,148.7 1810.2,193.0 1821.1,183.4 1833.0,144.5 1816.3,175.1 1819.4,166.3 1810.0,182.2 1803.4,202.0 1815.0,171.4 1825.6,181.8 1834.5,118.7 1851.0,117.1 1817.3,185.6 1832.8,154.4 1824.1,150.2 1816.7,175.8 1804.6,196.7 1811.1,195.9 1826.3,165.1 1809.7,184.1 1826.4,159.8 1804.3,199.1 1861.6,117.2 1845.4,130.6 1827.9,172.8 1820.5,164.7 1845.2,101.2 1808.0,184.8 1812.2,185.2 1803.0,202.0 1822.7,159.5 1845.8,99.8 1812.0,189.3 1805.1,200.2 1826.4,168.8 1811.6,181.3 1809.7,191.6 1808.7,200.0 1806.3,202.0 1821.6,164.8 1804.1,202.0 1818.5,163.0 1827.2,174.2 1813.0,190.2 1846.8,107.4 1809.6,190.5 1866.3,68.8 1806.8,191.7 1818.3,171.1 1820.2,165.9 1819.8,163.8 1822.3,169.8 1804.1,202.0 1815.3,167.9 1810.1,201.9 1838.4,152.2 1807.8,202.0 1825.2,152.1 1804.9,202.0 1806.9,192.8 1806.0,194.0 1820.8,154.8 1827.8,142.0 1834.5,133.5 1851.0,133.7 1861.6,124.0 1804.9,202.0 1804.9,194.9 1811.7,183.1 1814.4,184.9 1804.5,202.0 1812.5,189.8 1805.2,198.8 1819.9,178.5 1815.7,168.5 1864.3,74.6 1829.5,151.5 1826.7,157.0 1815.1,174.5 1811.1,187.3 1811.9,199.9 1809.3,199.1 1831.9,145.1 1818.9,173.0 1838.1,121.3 1816.6,167.2 1808.0,190.2 1823.4,154.9 1804.8,196.5 1815.0,168.7 1812.0,185.0 1853.6,88.9 1834.0,134.8 1803.0,201.4 1803.2,202.0 1808.3,197.1 1816.5,173.4 1803.9,197.5 1813.8,161.0 1814.8,173.4 1860.7,81.0 1824.6,163.0 1812.2,183.9 1831.0,161.8 1846.3,108.6 1822.2,166.0 1803.4,202.0 1830.3,169.0 1835.5,124.5 1849.0,157.0 1829.3,120.9 1844.4,104.9 1813.1,171.9 1869.7,68.8 1813.1,182.2 1808.8,195.4 1823.4,160.4 1805.4,194.4 1804.3,194.4 1811.9,173.0 1807.0,201.1 1803.2,195.8 1820.0,189.0 1805.6,195.7 1854.7,68.8 1803.5,198.9 1808.7,184.8 1829.1,164.7 1806.0,189.4 1816.5,162.9 1804.7,199.8 1805.1,200.8 1811.5,190.4 1815.0,195.8 1808.0,199.5 1818.6,172.2 1827.4,140.3 1805.6,202.0 1803.1,200.9 1830.4,160.5 1820.5,162.3 1832.3,131.0 1803.6,198.7 1812.0,185.1 1809.5,188.0 1814.1,189.8 1811.5,198.0 1817.0,178.9 1858.7,137.2 1809.6,181.6 1804.4,189.2 1814.0,181.1 1812.1,192.6 1851.1,114.5 1835.9,121.5 1805.7,200.2 1818.5,163.4 1807.2,195.4 1804.6,198.1 1810.7,176.0 1808.6,178.4 1808.9,188.1 1808.6,200.6 1835.9,146.8 1821.4,172.5 1808.2,192.7 1813.7,165.9 1845.4,115.3 1803.9,197.7 1828.0,154.4 1803.7,200.6 1835.3,165.2 1803.7,200.2 1819.5,159.1 1820.5,157.7 1820.6,163.5 1805.1,185.4 1804.1,200.5 1804.2,201.5 1814.4,189.0 1826.7,173.9 1804.2,202.0 1805.3,202.0 1829.1,151.3 1802.9,198.1 1829.4,175.0 1814.6,180.8 1806.1,195.0 1857.7,80.6 1807.2,189.1 1804.4,196.6 1813.2,189.4 1806.5,200.5 1805.7,202.0 1814.0,179.8 1818.8,166.8 1808.7,192.4 1815.6,193.7 1818.0,176.6 1823.2,177.6 1836.6,124.7 1809.4,185.6 1811.2,182.6 1844.1,123.6 1822.0,151.3 1861.3,68.8 1810.6,179.5 1804.9,202.0 1819.2,182.7 1803.9,195.5 1821.8,166.8 1826.9,155.8 1810.4,180.8 1804.8,191.0 1812.8,178.3 1840.9,116.3 1806.6,193.0 1856.5,87.3 1816.1,192.8 1805.0,201.1 1803.4,199.3 1818.4,172.7 1816.3,172.1 1853.4,84.5 1804.9,199.9 1830.2,137.7 1804.5,194.7 1817.5,179.7 1817.8,170.2 1870.3,84.2 1816.4,173.2 1849.6,128.3 1849.8,94.3 1810.3,184.7 1805.7,202.0 1803.9,195.0 1813.8,183.8 1849.5,128.7 1809.1,193.1 1828.3,152.8 1829.4,137.2 1820.2,164.1 1825.1,153.5 1827.3,124.1 1805.6,185.9 1806.3,190.3 1820.9,161.4 1839.2,119.7 1805.0,191.2 1819.1,170.4 1803.9,195.5 1826.7,142.3 1810.6,179.3 1819.6,176.0 1841.5,139.7 1849.9,113.2 1842.0,112.5 1805.6,201.6 1805.5,194.4 1822.8,162.5 1802.9,202.0 1856.6,111.2 1823.1,144.7 1813.1,176.4 1810.7,195.3 1827.5,171.4 1820.7,167.7 1832.6,136.3 1802.9,197.5 1832.1,141.8 1803.7,202.0 1817.2,178.2 1807.1,193.4 1838.6,130.3 1822.6,145.4 1812.0,187.4 1808.9,193.8 1803.1,202.0 1828.3,164.8 1816.0,182.7 1827.7,149.8 1811.6,194.4 1813.9,187.7 1824.5,152.4 1837.2,131.1 1805.9,195.3 1830.0,148.3 1805.0,202.0 1833.2,139.3 1815.0,180.1 1832.5,144.6 1830.1,164.7 1820.7,179.6 1826.4,147.3 1803.3,202.0 1843.2,113.2 1804.2,199.7 1810.7,181.7 1804.6,195.8 1807.5,186.8 1809.6,188.9 1827.3,159.5 1860.1,82.6 1844.9,124.1 1812.5,187.8 1814.1,181.6 1814.3,178.9 1830.1,156.9 1824.3,179.1 1829.8,131.7 1832.3,164.5 1812.9,188.0 1842.9,142.5 1826.2,162.9 1810.3,186.1 1808.3,195.7 1806.9,202.0 1817.1,170.0 1804.8,202.0 1820.3,171.4 1809.2,187.0 1803.0,198.9 1805.0,193.6 1803.0,202.0 1836.4,146.9 1810.3,185.3 1805.9,197.1 1803.0,196.0 1829.3,144.8 1815.0,175.5 1849.8,128.0 1820.4,173.3 1813.3,182.8 1813.7,178.5 1809.4,193.3 1834.6,125.7 1807.5,189.9 1823.3,165.8 1827.4,157.0 1812.7,189.0 1831.1,125.7 1809.8,189.9 1816.6,179.1 1804.5,202.0 1821.8,181.5 1803.7,202.0 1813.8,181.4 1806.0,197.1 1804.3,194.0 1823.8,160.8 1804.7,194.4 1809.6,184.1 1804.8,200.1 1810.8,183.9 1810.7,187.7 1807.3,196.1 1804.8,202.0 1839.9,140.0 1814.2,169.9 1841.2,117.3 1809.2,188.1 1808.6,187.7 1810.8,193.5 1816.1,170.3 1814.1,188.1 1822.9,170.5 1813.3,186.7 1805.5,202.0 1809.7,183.8 1811.4,192.7 1806.5,199.4 1813.9,180.7 1805.0,199.3 1829.2,147.1 1804.5,199.9 1821.3,169.1 1803.6,194.0 1814.3,176.2 1825.0,151.0 1816.2,166.6 1820.9,181.0 1838.0,126.6 1810.1,181.4 1821.2,151.3 1811.5,176.0 1831.5,119.3 1812.1,189.8 1839.2,123.7 1828.6,152.0 1827.2,163.2 1806.5,193.9 1812.8,176.1 1808.4,193.8 1820.9,178.6 1814.2,175.9 1809.2,178.5 1823.0,158.8 1808.1,199.6 1816.0,176.4 1846.1,115.3 1810.6,192.5 1820.6,156.3 1803.8,190.8 1815.8,178.2 1803.8,194.5 1807.6,182.6 1807.6,193.6 1814.3,176.0 1806.9,193.7 1809.9,188.3 1805.1,195.9 1828.1,134.2 1884.9,80.0 1861.2,79.8 1857.1,81.3 1882.5,76.5 1855.0,79.3 1887.5,71.0 1882.9,72.8 1889.9,75.5 1869.5,75.2 1865.5,83.4 1864.7,77.0 1859.3,82.7 1864.2,78.3 1891.7,76.5 1887.0,72.6 1877.6,79.0 1869.8,79.1 1879.2,71.0 1885.2,79.4 1860.4,83.8 1877.3,80.5 1854.8,79.3 1863.5,80.8 1880.4,75.1 1865.5,72.8 1862.6,70.0 1859.2,74.9 1881.9,72.8 1873.5,70.7 1879.0,73.4 1857.7,81.1 1872.7,75.7 1858.3,72.7 1868.0,76.7 1874.8,71.2 1866.3,75.4 1878.1,74.0 1866.7,79.7 1872.8,74.8 1879.6,81.9 1871.9,75.4 1862.1,82.4 1890.6,83.6 1873.9,79.4 1855.8,79.8 1860.9,77.8 1889.9,82.7 1868.2,73.4 1878.8,83.6 1863.5,79.7 1901.2,119.3 1898.3,122.2 1899.6,113.3 1898.7,134.5 1899.2,76.3 1899.6,73.5 1897.4,109.6 1899.6,138.3 1899.9,120.0 1899.2,124.6 1900.2,76.5 1898.6,105.4 1898.2,142.3 1898.9,144.1 1899.9,147.7 1900.4,111.6 1900.5,146.8 1898.3,107.3 1901.7,136.5 1895.3,101.4 1901.6,144.0 1900.3,108.1 1899.4,138.2 1901.8,112.9 1899.5,125.0 1901.7,76.3 1895.1,69.8 1896.8,71.6 1896.5,110.8 1901.2,117.3 1896.7,83.9 1895.7,79.1 1900.3,143.6 1896.6,74.4 1898.2,76.0 1896.7,72.0 1895.6,105.4 1898.7,144.2 1901.6,70.4 1897.9,80.0 1901.9,106.2 1900.6,79.3 1898.1,135.3 1895.9,140.6 1897.0,77.4 1856.0,127.2 1849.1,155.7 1854.5,125.7 1864.5,104.3 1852.8,122.9 1846.7,161.9 1859.3,122.8 1861.0,124.0 1856.0,124.5 1843.7,138.4 1842.8,151.5 1839.1,166.8 1849.9,132.4 1849.2,141.7 1845.7,159.3 1854.8,118.0 1841.6,168.5 1857.9,118.6 1862.4,102.5 1868.2,118.1 1860.7,105.7 1852.9,144.9 1858.4,115.1 1846.5,133.9 1856.0,118.9 1857.5,86.1 1869.3,117.9 1866.2,146.0 1870.5,88.4 1858.5,86.8 1853.7,79.4 1854.3,83.8 1867.6,83.0 1864.8,150.8 1853.2,105.0 1869.5,103.0 1847.0,129.2 1854.9,143.1 1851.8,115.9 1855.6,135.6 1856.6,82.0 1861.4,97.4 1870.1,154.1 1868.7,149.1 1851.1,98.4 1865.4,108.2 1858.3,99.7 1857.0,141.3 1851.7,147.7 1846.9,81.6 1870.5,129.1 1856.6,134.6 1866.2,117.8 1850.4,87.0 1870.0,152.9 1857.8,139.2 1862.5,128.3 1853.7,132.8 1861.7,117.0 1858.6,103.0 1858.2,82.0 1857.3,94.3 1870.0,107.6 1861.2,94.4 1864.4,141.3 1856.8,144.2 1846.5,102.5 1854.5,136.5 1846.7,154.8 1863.3,128.4 1857.3,103.4 1869.4,101.4 1851.6,78.7 1850.7,110.9 1862.6,134.0 1869.0,108.6 1864.3,145.7 1867.5,134.0 1862.0,98.6 1854.3,135.7 1854.5,79.6 1863.0,119.5 1860.5,105.0 1852.8,150.6 1848.8,110.8 1927.8,52.1 1927.8,55.1 1963.7,65.7 1963.7,88.4 1963.7,91.5 1963.7,94.5 1963.7,97.5 1963.7,100.6 1940.8,105.1 1906.3,136.9 1881.9,146.0 1876.1,141.4 1871.8,141.4 1880.4,111.2 1879.0,103.6 1820.1,177.8 1851.7,174.7 1870.4,96.0 1877.6,93.0 1894.8,59.7" fill="none" stroke="none" marker-start="url(#mring)" marker-mid="url(#mring)" marker-end="url(#mring)"/>
</g>
<rect x="1793.20" y="43.80" width="180.10" height="165.50" fill="none" stroke="#111" stroke-width="1.1"/>
<line x1="1788.20" y1="202.00" x2="1793.20" y2="202.00" stroke="#333" stroke-width="1.1"/>
<text x="1783.80" y="210.03" font-size="22" text-anchor="end">0.0</text>
<line x1="1788.20" y1="126.30" x2="1793.20" y2="126.30" stroke="#333" stroke-width="1.1"/>
<text x="1783.80" y="134.33" font-size="22" text-anchor="end">0.5</text>
<line x1="1788.20" y1="50.60" x2="1793.20" y2="50.60" stroke="#333" stroke-width="1.1"/>
<text x="1783.80" y="58.63" font-size="22" text-anchor="end">1.0</text>
<line x1="1802.90" y1="209.30" x2="1802.90" y2="214.30" stroke="#333" stroke-width="1.1"/>
<text x="1802.90" y="236.50" font-size="22" text-anchor="middle">0</text>
<line x1="1946.50" y1="209.30" x2="1946.50" y2="214.30" stroke="#333" stroke-width="1.1"/>
<text x="1946.50" y="236.50" font-size="22" text-anchor="middle">1000</text>
<text x="1737.10" y="126.55" font-size="25" text-anchor="middle" transform="rotate(-90 1737.10 126.55)"><tspan font-style="italic">R</tspan><tspan font-size="0.7em" dy="0.2em" font-style="italic">w</tspan><tspan dy="-0.2em">(<tspan font-style="italic">i</tspan>)</tspan></text>
<text x="1883.25" y="262.80" font-size="25" text-anchor="middle"><tspan font-style="italic">S</tspan>(<tspan font-style="italic">i</tspan>)</text>
<polyline points="1169.8,547.6 1170.1,549.4 1170.4,551.2 1170.7,553.1 1171.0,554.9 1171.3,556.7 1171.6,558.6 1171.9,560.4 1172.2,562.2 1172.5,564.1 1172.8,565.6 1173.0,566.8 1173.3,568.0 1173.6,569.1 1173.9,570.3 1174.2,571.5 1174.5,572.7 1174.8,573.9 1175.1,575.0 1175.4,576.2 1175.7,577.4 1176.0,578.6 1176.3,579.8 1176.6,581.2 1176.9,583.4 1177.2,585.6 1177.5,587.7 1177.8,589.9 1178.1,592.1 1178.4,594.3 1179.0,595.1 1179.5,595.8 1180.1,596.5 1180.7,597.3 1181.3,598.0 1181.9,598.7 1182.5,599.5 1183.1,600.2 1183.7,600.9 1184.3,601.7 1184.9,602.4 1185.4,603.1 1186.0,603.9 1186.6,604.9 1186.9,605.5 1187.2,606.1 1187.5,606.7 1187.8,607.3 1188.1,607.9 1188.4,608.5 1188.7,609.1 1189.0,609.7 1189.3,610.3 1189.6,610.9 1189.9,611.5 1190.2,612.1 1190.5,612.7 1190.8,613.3 1191.1,613.9 1191.3,614.5 1191.6,615.1 1191.9,615.7 1192.2,616.7 1192.5,618.0 1192.8,619.3 1193.1,620.6 1193.4,621.9 1193.7,623.2 1194.0,624.5 1194.3,625.8 1194.6,627.1 1194.9,628.4 1195.2,629.8 1195.5,631.1 1195.8,632.4 1196.1,633.5 1196.7,634.0 1197.3,634.4 1197.8,634.9 1198.4,635.4 1199.0,635.9 1199.6,636.4 1200.2,636.9 1200.8,637.4 1201.4,637.9 1202.0,638.4 1202.6,638.8 1203.2,639.3 1203.7,639.8 1204.3,640.3 1204.9,640.8 1205.5,641.3 1206.1,641.6 1206.7,641.8 1207.3,642.0 1207.9,642.2 1208.5,642.4 1209.1,642.7 1209.7,642.9 1210.2,643.1 1210.8,643.3 1211.4,643.5 1212.0,643.7 1212.6,643.9 1213.2,644.1 1213.8,644.3 1214.4,644.5 1215.0,644.7 1215.6,644.9 1216.1,645.2 1216.7,645.4 1217.3,645.6 1217.9,645.8 1218.5,646.0 1219.1,646.2 1219.7,646.4 1220.3,646.6 1220.9,646.8 1221.5,647.0 1222.1,647.3 1222.6,647.5 1223.2,647.8 1223.8,648.0 1224.4,648.2 1225.0,648.5 1225.6,648.7 1226.2,649.0 1226.8,649.2 1227.4,649.5 1228.0,649.7 1228.5,650.0 1229.1,650.2 1229.7,650.5 1230.3,650.7 1230.9,650.9 1231.5,651.2 1232.1,651.4 1232.7,651.7 1233.3,651.9 1233.9,652.2 1234.4,652.4 1235.0,652.7 1235.6,652.9 1236.2,653.1 1236.8,653.4 1237.4,653.6 1238.0,653.9 1238.6,654.1 1239.2,654.4 1239.8,654.6 1240.4,654.9 1240.9,655.1 1241.5,655.3 1242.1,655.5 1242.7,655.7 1243.3,655.9 1243.9,656.1 1244.5,656.3 1245.1,656.5 1245.7,656.6 1246.3,656.8 1246.8,657.0 1247.4,657.2 1248.0,657.4 1248.6,657.6 1249.2,657.8 1249.8,658.0 1250.4,658.2 1251.0,658.4 1251.6,658.6 1252.2,658.8 1252.8,659.0 1253.3,659.2 1253.9,659.4 1254.5,659.6 1255.1,659.7 1255.7,659.9 1256.3,660.1 1256.9,660.3 1257.5,660.5 1258.1,660.7 1258.7,660.9 1259.2,661.1 1259.8,661.3 1260.4,661.5 1261.0,661.7 1261.6,661.9 1262.2,662.1 1262.8,662.3 1263.4,662.5 1264.0,662.7 1264.6,662.9 1265.1,663.2 1265.7,663.5 1266.3,663.8 1266.9,664.1 1267.5,664.4 1268.1,664.7 1268.7,665.0 1269.3,665.3 1269.9,665.6 1270.5,665.9 1271.1,666.2 1271.6,666.5 1272.2,666.7 1272.8,667.0 1273.4,667.3 1274.0,667.6 1274.6,667.9 1275.2,668.2 1275.8,668.5 1276.4,668.8 1277.0,669.1 1277.5,669.4 1278.1,669.7 1278.7,670.0 1279.3,670.3 1279.9,670.6 1280.5,670.9 1281.1,671.2 1281.7,671.5 1282.3,671.8 1282.9,672.1 1283.5,672.4 1284.0,672.7 1284.6,673.0 1285.2,673.3 1285.8,673.6 1286.4,673.8 1287.0,674.1 1287.6,674.4 1288.2,674.7 1288.8,675.0 1289.4,675.3 1289.9,675.6 1290.5,675.9 1291.1,676.2 1291.7,676.5 1292.3,676.8 1292.9,677.1 1293.5,677.4 1294.1,677.7 1294.7,678.0 1295.3,678.3 1295.9,678.6 1296.4,678.8 1297.0,679.1 1297.6,679.4 1298.2,679.7 1298.8,680.0 1299.4,680.3 1300.0,680.6 1300.6,680.9 1301.2,681.2 1301.8,681.5 1302.3,681.8 1302.9,682.1 1303.5,682.5 1304.1,683.1 1304.7,683.7 1305.3,684.3 1305.9,684.9 1306.5,685.5 1307.1,686.1 1307.7,686.7 1308.2,687.3 1308.8,687.9 1309.4,688.5 1310.0,689.1 1310.6,689.7 1311.2,690.3 1311.8,690.9 1312.4,691.5 1313.0,692.1 1313.6,692.7 1314.2,693.3 1314.7,693.9 1315.3,694.4 1315.9,694.8 1316.5,695.2 1317.1,695.5 1317.7,695.9 1318.3,696.3 1318.9,696.7 1319.5,697.1 1320.1,697.5 1320.6,697.8 1321.2,698.2 1321.8,698.6 1322.4,699.0 1323.0,699.4 1323.6,699.7 1324.2,700.1 1324.8,700.5 1325.4,700.9 1326.0,701.3 1326.6,701.7 1327.1,701.9 1327.7,702.1 1328.3,702.3 1328.9,702.5 1329.5,702.7 1330.1,702.9 1330.7,703.1 1331.3,703.3 1331.9,703.5 1332.5,703.7 1333.0,703.9 1333.6,704.1 1334.2,704.3 1334.8,704.5 1335.4,704.7 1336.0,704.9 1336.6,705.0 1337.2,705.2 1337.8,705.4 1338.4,705.6 1338.9,705.8 1339.5,706.0 1340.1,706.2 1340.7,706.4 1341.3,706.6 1341.9,706.8 1342.5,707.0 1343.1,707.2 1343.7,707.4 1344.3,707.6 1344.9,707.8 1345.4,708.0 1346.0,708.1 1346.6,708.3 1347.2,708.5 1347.8,708.7 1348.4,708.9 1349.0,709.1 1349.6,709.3 1350.2,709.5 1350.8,709.9 1351.3,710.2 1351.9,710.6 1352.5,710.9 1353.1,711.3 1353.7,711.6 1354.3,712.0 1354.9,712.4 1355.5,712.7 1356.1,713.1 1356.7,713.4 1357.3,713.8 1357.8,714.2 1358.4,714.5 1359.0,714.9 1359.6,715.2 1360.2,715.6 1360.8,715.9 1361.4,716.3 1362.0,716.7 1362.6,717.0 1363.2,717.4 1363.7,717.7 1364.3,718.1 1364.9,718.4 1365.5,718.8 1366.1,719.2 1366.7,719.5 1367.3,719.9 1367.9,720.2 1368.5,720.6 1369.1,721.0 1369.7,721.3 1370.2,721.8 1370.8,722.2 1371.4,722.7 1372.0,723.2 1372.6,723.7 1373.2,724.1 1373.8,724.6 1374.4,725.1 1375.0,725.6 1375.6,726.0 1376.1,726.5 1376.7,727.0 1377.3,727.5 1377.9,727.9 1378.5,728.4 1379.1,728.9 1379.7,729.4 1380.3,729.8 1380.9,730.3 1381.5,730.8 1382.0,731.3 1382.6,731.7 1383.2,732.2 1383.8,732.7 1384.4,733.2 1385.0,733.7 1385.6,734.1 1386.2,734.6 1386.8,735.1 1387.4,735.6 1388.0,736.0 1388.5,736.5 1389.1,737.0 1389.7,737.5 1390.3,738.1 1390.9,738.7 1391.5,739.3 1392.1,739.9 1392.7,740.4 1393.3,741.0 1393.9,741.6 1394.4,742.2 1395.0,742.8 1395.6,743.4 1396.2,743.9 1396.8,744.5 1397.4,745.1 1398.0,745.7 1398.6,746.3 1399.2,746.9 1399.8,747.4 1400.4,748.0 1400.9,748.6 1401.5,749.6 1402.1,750.6 1402.7,751.5 1403.3,752.5 1403.9,753.5 1404.5,754.5 1405.1,755.4 1405.7,756.4 1406.3,757.4 1406.8,758.4 1407.4,759.4 1408.0,760.3 1408.6,761.3 1409.2,762.3 1409.8,763.3 1410.4,764.2 1411.0,765.2 1411.6,766.2 1412.2,767.2 1412.7,768.1 1413.3,769.1 1413.9,770.0 1414.5,770.9 1415.1,771.8 1415.7,772.7 1416.3,773.6 1416.9,774.6 1417.5,775.5 1418.1,776.4 1418.7,777.3 1419.2,778.2 1419.8,779.1 1420.4,780.0 1420.7,781.2 1421.0,782.4 1421.3,783.6 1421.6,784.7 1421.9,785.9 1422.2,787.1 1422.5,788.2 1422.8,789.4 1423.1,790.6 1423.4,791.7 1423.7,792.9 1424.0,794.1 1424.3,795.2 1424.6,796.4 1424.9,797.6 1425.1,798.8 1425.4,799.9 1425.7,801.1 1426.0,802.3 1426.3,803.4 1426.6,805.2 1426.9,806.9 1427.2,808.6 1427.5,810.4 1427.8,812.1 1428.1,813.8 1428.4,815.5 1428.7,817.3 1429.0,819.0 1429.3,820.7 1429.6,822.5 1429.9,824.2 1430.2,825.9 1430.5,828.1 1430.8,830.6 1431.1,833.2 1431.3,835.7 1431.6,838.2 1431.9,840.8 1432.2,843.3 1432.5,845.9 1432.8,848.4 1433.1,850.7 1433.4,852.3 1433.7,853.9 1434.0,855.6 1434.3,857.2 1434.6,858.8 1434.9,860.4 1435.2,862.1 1435.5,863.7 1435.8,865.3 1436.1,867.0 1436.4,868.6 1436.7,870.2 1437.0,871.9 1437.5,872.4 1438.1,872.9 1438.7,873.4 1439.3,873.9 1439.9,874.4 1440.5,875.0 1441.1,875.5 1441.7,876.0 1442.3,876.5 1442.9,877.0 1443.5,877.5 1444.0,878.1 1444.6,878.6 1445.2,879.1 1445.8,879.6 1446.4,880.1 1447.0,880.6 1447.6,881.2 1448.2,881.5 1448.8,881.8 1449.4,882.0 1449.9,882.2 1450.5,882.5 1451.1,882.7 1451.7,883.0 1452.3,883.2 1452.9,883.4 1453.5,883.7 1454.1,883.9 1454.7,884.2 1455.3,884.4 1455.8,884.6 1456.4,884.9 1457.0,885.1 1457.6,885.3 1458.2,885.6 1458.8,885.8 1459.4,886.1 1460.0,886.3 1460.6,886.5 1461.2,886.8 1461.8,887.0 1462.3,887.2 1462.9,887.5 1463.5,887.7 1464.1,888.0 1464.7,888.2 1465.3,888.4 1465.9,888.7 1466.5,888.9 1467.1,889.2 1467.7,889.3 1468.2,889.5 1468.8,889.6 1469.4,889.8 1470.0,889.9 1470.6,890.1 1471.2,890.2 1471.8,890.3 1472.4,890.5 1473.0,890.6 1473.6,890.8 1474.2,890.9 1474.7,891.0 1475.3,891.2 1475.9,891.3 1476.5,891.5 1477.1,891.6 1477.7,891.8 1478.3,891.9 1478.9,892.0 1479.5,892.2 1480.1,892.3 1480.6,892.5 1481.2,892.6 1481.8,892.7 1482.4,892.9 1483.0,893.0 1483.6,893.2 1484.2,893.3 1484.8,893.5 1485.4,893.6 1486.0,893.7 1486.5,893.9 1487.1,894.0 1487.7,894.2 1488.3,894.3 1488.9,894.4 1489.5,894.6 1490.1,894.7 1490.7,894.9 1491.3,895.0 1491.9,895.2 1492.5,895.3 1493.0,895.4 1493.6,895.6 1494.2,895.7 1494.8,895.9 1495.4,896.0 1496.0,896.1 1496.6,896.3" fill="none" stroke="none" marker-start="url(#ms3cb371)" marker-mid="url(#ms3cb371)" marker-end="url(#ms3cb371)"/>
<rect x="1153.80" y="530.20" width="358.50" height="383.20" fill="none" stroke="#262626" stroke-width="1.1"/>
<line x1="1148.80" y1="896.50" x2="1153.80" y2="896.50" stroke="#333" stroke-width="1.1"/>
<text x="1144.40" y="905.90" font-size="24" text-anchor="end">0</text>
<line x1="1148.80" y1="811.50" x2="1153.80" y2="811.50" stroke="#333" stroke-width="1.1"/>
<text x="1144.40" y="820.90" font-size="24" text-anchor="end">20</text>
<line x1="1148.80" y1="726.50" x2="1153.80" y2="726.50" stroke="#333" stroke-width="1.1"/>
<text x="1144.40" y="735.90" font-size="24" text-anchor="end">40</text>
<line x1="1148.80" y1="641.50" x2="1153.80" y2="641.50" stroke="#333" stroke-width="1.1"/>
<text x="1144.40" y="650.90" font-size="24" text-anchor="end">60</text>
<line x1="1148.80" y1="556.50" x2="1153.80" y2="556.50" stroke="#333" stroke-width="1.1"/>
<text x="1144.40" y="565.90" font-size="24" text-anchor="end">80</text>
<line x1="1169.80" y1="913.40" x2="1169.80" y2="918.40" stroke="#333" stroke-width="1.1"/>
<text x="1169.80" y="941.30" font-size="24" text-anchor="middle">0</text>
<line x1="1243.60" y1="913.40" x2="1243.60" y2="918.40" stroke="#333" stroke-width="1.1"/>
<text x="1243.60" y="941.30" font-size="24" text-anchor="middle">250</text>
<line x1="1317.40" y1="913.40" x2="1317.40" y2="918.40" stroke="#333" stroke-width="1.1"/>
<text x="1317.40" y="941.30" font-size="24" text-anchor="middle">500</text>
<line x1="1391.20" y1="913.40" x2="1391.20" y2="918.40" stroke="#333" stroke-width="1.1"/>
<text x="1391.20" y="941.30" font-size="24" text-anchor="middle">750</text>
<line x1="1465.00" y1="913.40" x2="1465.00" y2="918.40" stroke="#333" stroke-width="1.1"/>
<text x="1465.00" y="941.30" font-size="24" text-anchor="middle">1000</text>
<text x="1333.05" y="971.70" font-size="28" text-anchor="middle"><tspan font-style="italic">Rank</tspan>(<tspan font-style="italic">i</tspan>)</text>
<text x="1101.80" y="721.80" font-size="28" text-anchor="middle" transform="rotate(-90 1101.80 721.80)"><tspan font-style="italic">R</tspan>(<tspan font-style="italic">i</tspan>)</text>
<text x="1082.80" y="530.50" font-size="28" text-anchor="start" font-weight="bold">g</text>
<rect x="1306.50" y="543.90" width="188.70" height="106.10" fill="#fff"/>
<clipPath id="ci1306"><rect x="1306.50" y="543.90" width="188.70" height="106.10"/></clipPath>
<g clip-path="url(#ci1306)">
<polyline points="1326.7,645.5 1337.3,642.8 1314.7,643.0 1316.6,645.9 1329.1,645.3 1324.5,645.7 1333.0,642.4 1318.6,645.3 1320.8,644.7 1338.8,641.9 1330.0,645.1 1334.1,642.9 1317.2,645.5 1333.6,642.3 1325.6,645.0 1320.0,645.4 1321.9,645.7 1337.8,642.4 1337.6,642.0 1327.4,645.5 1315.1,643.3 1317.4,644.6 1330.2,644.0 1338.0,641.9 1319.8,645.4 1328.7,645.7 1315.0,644.6 1338.7,642.2 1325.5,644.4 1317.0,644.8 1329.7,644.5 1339.7,641.0 1315.9,644.2 1318.4,645.3 1321.6,641.0 1317.7,645.8 1333.1,643.5 1330.6,644.9 1315.6,644.6 1330.0,643.8 1334.9,642.9 1337.2,642.7 1329.9,644.0 1340.4,642.1 1329.6,642.9 1323.1,645.7 1325.9,645.6 1323.0,644.5 1316.8,645.5 1335.1,643.5 1315.2,645.5 1327.6,643.5 1333.2,644.5 1325.7,643.7 1320.6,644.6 1324.3,645.7 1337.1,642.0 1319.0,644.5 1336.7,643.5 1340.1,642.2 1319.0,642.1 1330.5,643.9 1314.8,645.1 1324.7,645.6 1330.6,643.9 1318.2,645.7 1329.3,645.2 1329.1,645.1 1332.8,643.2 1333.0,643.9 1334.6,641.9 1318.9,644.0 1333.3,644.1 1327.5,643.1 1317.1,644.3 1319.1,645.5 1331.1,642.9 1320.3,644.8 1314.8,645.3 1329.2,644.2 1324.7,645.2 1339.4,641.4 1328.6,645.4 1340.6,642.4 1337.9,641.6 1328.6,645.3 1338.4,641.2 1328.8,644.9 1322.4,645.6 1317.2,643.8 1332.9,643.0 1331.2,644.6 1315.9,644.9 1337.6,642.5 1320.6,645.0 1330.9,643.1 1337.5,641.5 1330.6,644.8 1332.3,644.3 1319.5,645.7 1330.5,645.0 1323.8,645.5 1326.9,645.7 1334.9,644.0 1323.3,646.0 1339.6,642.6 1330.0,641.2 1336.4,643.0 1317.3,645.4 1335.0,643.2 1319.6,645.9 1317.7,645.3 1339.2,641.5 1334.0,644.1 1326.8,644.7 1331.2,644.9 1320.7,645.9 1319.7,644.3 1326.1,645.7 1317.2,645.9 1335.5,642.9 1336.9,643.1 1330.4,645.2 1321.7,645.5 1322.4,644.8 1335.2,640.3 1338.2,640.5 1338.7,641.8 1339.9,641.7 1321.0,645.3 1346.7,638.0 1351.0,630.2 1342.9,637.8 1344.0,634.6 1346.8,638.1 1339.0,644.1 1342.9,639.5 1345.6,633.9 1339.0,643.7 1338.1,646.0 1347.1,636.4 1346.7,631.4 1349.6,627.5 1339.4,645.9 1345.5,636.3 1345.7,635.1 1344.2,635.1 1350.9,632.8 1345.0,631.8 1340.8,637.4 1345.4,635.6 1352.5,628.6 1336.3,644.0 1337.3,642.5 1350.7,625.5 1349.0,609.0 1350.6,630.3 1353.2,624.0 1347.3,625.1 1348.9,629.0 1352.1,609.5 1351.5,633.9 1353.1,633.6 1350.2,609.6 1353.0,608.4 1354.1,626.4 1345.5,621.4 1353.1,627.6 1348.1,612.9 1348.4,617.1 1351.2,607.8 1343.8,628.9 1354.5,615.2 1344.8,630.4 1346.4,618.8 1356.2,628.0 1346.3,614.7 1364.7,604.7 1378.0,570.3 1373.9,589.5 1367.0,584.6 1363.9,599.1 1366.0,618.7 1368.9,615.5 1380.3,575.1 1362.5,608.7 1379.4,577.8 1357.2,636.5 1368.1,588.0 1372.5,596.5 1382.1,574.6 1378.3,579.4 1369.7,590.7 1360.3,594.4 1355.4,620.0 1364.1,602.7 1375.9,609.5 1352.6,616.8 1356.8,609.4 1357.6,606.0 1372.4,604.2 1378.0,584.5 1376.2,580.7 1363.3,609.1 1381.6,583.0 1366.5,596.6 1357.0,608.9 1354.3,632.0 1381.8,583.8 1370.7,595.5 1381.3,578.3 1357.6,614.5 1353.2,630.9 1378.2,583.9 1357.8,604.8 1355.2,618.6 1361.1,609.1 1371.4,587.5 1380.9,587.3 1361.5,599.6 1380.2,581.3 1374.7,588.8 1357.9,613.4 1377.8,582.4 1373.7,597.2 1373.6,580.5 1353.7,626.1 1381.1,592.0 1353.2,633.0 1378.0,587.6 1362.8,617.8 1362.3,625.3 1367.6,597.6 1382.1,577.7 1361.2,617.4 1376.5,583.1 1368.1,598.8 1379.1,585.4 1377.2,586.8 1359.5,618.7 1365.6,581.3 1364.2,595.7 1381.4,571.6 1376.5,572.6 1371.7,594.6 1365.1,602.8 1363.6,582.0 1381.5,585.7 1382.3,574.7 1360.5,609.0 1351.6,616.4 1357.7,607.2 1370.6,600.2 1381.9,571.2 1357.2,607.8 1372.2,599.8 1355.9,619.2 1357.6,635.6 1366.2,607.9 1375.1,596.3 1371.7,598.6 1375.7,573.2 1365.9,613.5 1366.4,608.8 1354.1,635.1 1374.2,579.9 1353.7,634.6 1368.1,596.9 1356.0,627.1 1368.2,610.2 1381.0,579.2 1360.3,612.0 1373.5,570.3 1373.4,578.4 1375.5,586.3 1378.9,580.3 1367.4,610.5 1375.6,582.6 1363.1,606.1 1382.3,581.4 1373.3,594.8 1379.1,571.1 1361.6,615.8 1381.6,596.5 1359.4,609.2 1376.8,597.0 1353.5,631.2 1377.0,578.9 1365.6,596.5 1377.6,581.7 1379.2,584.2 1375.7,588.1 1378.7,584.2 1360.5,600.5 1353.0,623.7 1354.1,627.0 1380.0,570.3 1377.0,575.2 1359.2,617.8 1373.7,584.9 1382.0,576.6 1368.3,609.5 1364.2,606.7 1359.1,620.7 1373.3,591.2 1374.3,570.3 1357.1,603.8 1355.5,617.3 1367.1,614.3 1363.6,616.2 1368.6,596.0 1361.9,613.4 1376.8,598.3 1354.0,604.6 1354.0,628.5 1362.9,599.1 1358.3,633.6 1380.9,571.5 1371.1,594.4 1356.3,605.4 1353.3,620.6 1356.4,624.8 1377.2,579.0 1356.1,613.3 1379.5,582.8 1353.6,627.7 1379.9,570.3 1373.1,579.8 1369.9,605.6 1360.2,610.2 1371.7,586.6 1359.5,603.9 1362.9,597.6 1371.7,600.7 1371.8,576.3 1378.9,581.1 1374.9,605.9 1381.1,580.2 1360.1,607.3 1351.9,617.6 1358.7,612.8 1363.9,604.9 1351.5,636.5 1373.8,587.2 1353.0,624.1 1376.8,590.8 1371.6,602.7 1414.0,602.3 1412.3,602.5 1395.4,602.1 1394.2,578.1 1397.3,588.2 1399.2,596.5 1409.9,589.1 1399.0,581.5 1396.4,608.9 1408.0,577.3 1409.5,583.3 1413.0,574.4 1405.3,603.6 1405.6,593.9 1408.3,596.9 1394.9,603.0 1396.4,581.9 1407.9,589.7 1400.1,582.1 1402.8,591.2 1397.5,571.6 1402.7,592.1 1397.8,593.0 1403.3,593.9 1409.1,597.5 1406.5,584.4 1396.2,578.4 1394.9,600.5 1410.9,605.9 1399.2,594.4 1413.3,572.7 1398.0,585.5 1410.9,590.5 1400.0,604.6 1394.9,608.8 1394.4,582.3 1405.8,607.9 1413.1,572.1 1402.1,596.4 1411.8,584.6 1409.1,603.4 1408.7,593.3 1394.6,608.7 1399.0,601.4 1399.0,575.0 1401.8,602.4 1395.6,608.3 1401.9,594.1 1395.1,590.4 1400.6,609.8 1403.4,604.4 1397.2,581.2 1402.4,596.6 1405.1,581.9 1406.6,573.5 1408.5,597.2 1413.5,609.9 1397.4,605.8 1401.4,596.7 1401.6,585.8 1400.7,591.7 1407.6,574.4 1413.5,596.1 1401.5,571.8 1411.1,576.3 1395.8,599.2 1402.3,598.5 1403.2,573.7 1401.6,590.8 1400.2,587.5 1404.9,603.4 1394.7,581.2 1410.9,597.3 1397.6,606.6 1406.5,587.9 1412.9,607.8 1404.6,610.2 1412.3,601.0 1395.2,623.6 1394.3,626.7 1411.0,599.7 1402.9,605.5 1406.6,608.5 1400.4,599.9 1398.4,624.2 1392.5,604.7 1409.4,602.9 1409.8,620.7 1399.7,619.1 1411.3,627.0 1398.4,608.5 1406.0,627.0 1393.9,622.3 1396.4,612.6 1392.0,603.6 1402.1,608.6 1399.7,603.0 1393.7,602.5 1397.0,612.5 1404.3,608.0 1403.9,606.7 1392.5,611.9 1402.9,609.5 1393.8,607.0 1393.2,625.8 1415.5,573.1 1417.8,578.3 1415.6,579.7 1419.0,579.8 1430.0,578.4 1425.8,577.7 1414.5,589.5 1419.4,582.4 1471.6,591.0 1436.7,594.7 1450.9,588.7 1439.4,595.8 1436.2,595.3 1475.2,591.8 1447.1,588.2 1470.5,589.5 1464.0,591.7 1478.5,588.3 1470.1,592.2 1471.2,586.7 1465.0,585.9 1444.9,591.2 1439.0,603.1 1457.8,592.8 1460.0,592.2 1479.9,590.8 1479.9,584.2 1476.8,587.2 1482.8,588.4 1451.2,595.2 1473.7,587.4 1463.4,596.0 1459.8,590.7 1463.1,587.6 1447.9,588.7 1436.5,594.3 1473.4,590.0 1471.8,594.9 1446.9,591.8 1445.7,589.4 1471.8,594.4 1457.2,585.5 1480.9,586.6 1450.5,595.3 1481.0,589.8 1469.1,584.4 1467.5,588.1 1456.1,600.9 1467.8,595.4 1457.9,586.5 1472.2,590.9 1461.8,591.3 1459.1,599.2 1457.5,590.5 1469.9,584.4 1454.9,586.9 1466.1,588.2 1466.1,585.9 1470.0,583.1 1473.4,587.5 1460.7,589.2 1435.7,593.8 1442.6,595.5 1473.1,589.1 1466.3,585.4 1445.1,588.5 1476.9,586.9 1473.7,586.5 1487.6,606.2 1489.6,559.2 1490.0,554.1 1489.4,590.6 1488.5,556.5 1485.5,603.8 1490.1,602.8 1489.7,585.7 1486.6,585.9 1489.6,569.9 1486.0,559.6 1487.1,559.4 1487.8,557.2 1488.0,587.3 1490.1,550.2 1488.0,577.3 1488.3,568.2 1486.7,553.1 1487.4,549.2 1488.2,553.9 1489.8,591.9 1485.6,573.8 1488.2,588.2 1487.1,592.0 1485.9,581.0 1487.9,582.3 1489.5,582.4 1489.0,563.5 1487.8,580.7 1486.6,567.6 1489.6,550.8 1489.2,550.9 1488.2,581.4 1490.1,568.4 1485.8,557.7 1488.3,557.6 1487.4,570.8 1488.3,571.8 1489.6,584.8 1488.6,552.6 1485.9,557.5 1488.7,582.1 1485.6,578.9 1486.2,596.6 1487.8,571.1 1489.9,570.9 1489.1,575.9 1485.6,588.7 1486.0,572.4 1486.9,572.0 1487.0,605.5 1486.5,553.0 1487.6,569.0 1488.0,580.9 1488.7,554.6 1488.4,561.5 1487.1,591.8 1485.5,576.6 1485.7,592.3 1487.6,586.1 1486.4,583.3 1489.8,574.9 1488.6,549.1 1488.5,551.9 1488.7,560.3 1488.3,549.1 1488.1,588.3 1488.5,602.6 1487.5,552.5 1486.1,584.0 1486.9,571.6 1489.5,589.2 1488.1,606.3 1486.6,583.4 1488.5,556.2 1489.7,578.1 1486.7,559.5 1489.5,561.3 1488.6,570.9 1487.3,574.4 1487.2,566.5 1489.6,590.3 1488.9,602.1 1485.9,597.0 1486.8,582.5 1487.3,554.6 1485.7,557.0 1486.6,590.3 1487.7,581.8 1488.2,606.2 1453.9,557.3 1477.6,571.5 1467.0,568.0 1474.9,583.3 1446.0,601.1 1450.2,602.2 1403.9,563.2 1407.1,566.8 1389.2,618.8" fill="none" stroke="none" marker-start="url(#mring)" marker-mid="url(#mring)" marker-end="url(#mring)"/>
</g>
<rect x="1306.50" y="543.90" width="188.70" height="106.10" fill="none" stroke="#111" stroke-width="1.1"/>
<line x1="1301.50" y1="646.00" x2="1306.50" y2="646.00" stroke="#333" stroke-width="1.1"/>
<text x="1297.10" y="654.03" font-size="22" text-anchor="end">0</text>
<line x1="1301.50" y1="598.70" x2="1306.50" y2="598.70" stroke="#333" stroke-width="1.1"/>
<text x="1297.10" y="606.73" font-size="22" text-anchor="end">40</text>
<line x1="1301.50" y1="551.40" x2="1306.50" y2="551.40" stroke="#333" stroke-width="1.1"/>
<text x="1297.10" y="559.43" font-size="22" text-anchor="end">80</text>
<line x1="1314.50" y1="650.00" x2="1314.50" y2="655.00" stroke="#333" stroke-width="1.1"/>
<text x="1314.50" y="677.00" font-size="22" text-anchor="middle">0</text>
<line x1="1419.70" y1="650.00" x2="1419.70" y2="655.00" stroke="#333" stroke-width="1.1"/>
<text x="1419.70" y="677.00" font-size="22" text-anchor="middle">200</text>
<text x="1260.00" y="596.95" font-size="25" text-anchor="middle" transform="rotate(-90 1260.00 596.95)"><tspan font-style="italic">R</tspan>(<tspan font-style="italic">i</tspan>)</text>
<text x="1400.85" y="705.00" font-size="25" text-anchor="middle"><tspan font-style="italic">S</tspan>(<tspan font-style="italic">i</tspan>)</text>
<polyline points="1638.4,547.8 1639.0,548.9 1639.6,550.0 1640.2,551.1 1640.8,552.2 1641.3,553.3 1641.9,554.3 1642.5,555.4 1643.1,556.5 1643.7,558.3 1644.0,559.8 1644.3,561.2 1644.6,562.7 1644.9,564.2 1645.2,565.7 1645.5,567.2 1645.8,568.7 1646.1,570.1 1646.4,571.6 1646.7,573.1 1646.9,574.6 1647.2,576.1 1647.5,577.2 1647.8,578.1 1648.1,579.0 1648.4,579.9 1648.7,580.8 1649.0,581.6 1649.3,582.5 1649.6,583.4 1649.9,584.3 1650.2,585.2 1650.5,586.0 1650.8,586.9 1651.1,587.8 1651.4,588.7 1651.7,589.5 1652.0,590.4 1652.3,591.3 1652.6,592.2 1652.8,593.1 1653.1,593.9 1653.7,594.6 1654.3,595.1 1654.9,595.5 1655.5,596.0 1656.1,596.5 1656.7,596.9 1657.3,597.4 1657.9,597.8 1658.4,598.3 1659.0,598.7 1659.6,599.2 1660.2,599.6 1660.8,600.1 1661.4,600.3 1662.0,600.5 1662.6,600.6 1663.2,600.8 1663.8,600.9 1664.3,601.0 1664.9,601.2 1665.5,601.3 1666.1,601.5 1666.7,601.6 1667.3,601.8 1667.9,601.9 1668.5,602.1 1669.1,602.2 1669.6,602.3 1670.2,602.5 1670.8,602.6 1671.4,602.8 1672.0,602.9 1672.6,603.1 1673.2,603.2 1673.8,603.4 1674.4,603.5 1675.0,603.6 1675.5,603.8 1676.1,603.9 1676.7,604.1 1677.3,604.9 1677.9,605.6 1678.5,606.3 1679.1,607.0 1679.7,607.7 1680.3,608.4 1680.9,609.2 1681.4,609.9 1682.0,610.6 1682.6,611.3 1683.2,612.0 1683.8,612.8 1684.4,613.5 1685.0,614.2 1685.6,614.9 1686.2,615.6 1686.7,616.9 1687.0,617.8 1687.3,618.7 1687.6,619.6 1687.9,620.5 1688.2,621.4 1688.5,622.3 1688.8,623.1 1689.1,624.0 1689.4,624.9 1689.7,625.8 1690.0,626.7 1690.3,627.6 1690.6,628.5 1690.9,629.3 1691.2,630.2 1691.5,631.1 1691.8,632.0 1692.1,632.9 1692.3,633.8 1692.6,634.7 1692.9,635.6 1693.2,636.4 1693.5,637.3 1693.8,638.2 1694.1,639.1 1694.4,640.4 1694.7,641.9 1695.0,643.3 1695.3,644.8 1695.6,646.3 1695.9,647.8 1696.2,649.2 1696.5,650.7 1696.8,652.2 1697.1,653.6 1697.4,655.1 1697.7,656.6 1697.9,658.1 1698.2,659.8 1698.5,661.8 1698.8,663.9 1699.1,666.0 1699.4,668.0 1699.7,670.1 1700.0,672.2 1700.3,674.2 1700.6,676.3 1700.9,678.4 1701.2,680.4 1701.5,682.5 1701.8,684.5 1702.1,686.3 1702.4,687.1 1702.7,687.8 1703.0,688.5 1703.3,689.3 1703.6,690.0 1703.8,690.7 1704.1,691.5 1704.4,692.2 1704.7,692.9 1705.0,693.7 1705.3,694.4 1705.6,695.1 1705.9,695.8 1706.5,696.2 1707.1,696.4 1707.7,696.6 1708.3,696.9 1708.9,697.1 1709.4,697.3 1710.0,697.5 1710.6,697.8 1711.2,698.0 1711.8,698.2 1712.4,698.4 1713.0,698.7 1713.6,698.9 1714.2,699.1 1714.8,699.3 1715.3,699.6 1715.9,699.8 1716.5,700.0 1717.1,700.2 1717.7,700.4 1718.3,700.7 1718.9,700.9 1719.5,701.1 1720.1,701.3 1720.6,701.6 1721.2,701.8 1721.8,702.1 1722.4,702.6 1723.0,703.0 1723.6,703.5 1724.2,704.0 1724.8,704.4 1725.4,704.9 1726.0,705.4 1726.5,705.8 1727.1,706.3 1727.7,706.8 1728.3,707.2 1728.9,707.7 1729.5,708.2 1730.1,708.6 1730.7,709.1 1731.3,709.5 1731.6,710.6 1731.9,711.9 1732.1,713.3 1732.4,714.7 1732.7,716.1 1733.0,717.4 1733.3,718.8 1733.6,720.2 1733.9,721.5 1734.2,722.9 1734.5,724.3 1734.8,725.6 1735.1,727.0 1735.4,728.4 1735.7,729.8 1736.0,731.1 1736.3,732.5 1736.6,733.9 1736.9,735.2 1737.2,736.6 1737.5,737.5 1737.7,738.2 1738.0,739.0 1738.3,739.7 1738.6,740.4 1738.9,741.2 1739.2,741.9 1739.5,742.7 1739.8,743.4 1740.1,744.1 1740.4,744.9 1740.7,745.6 1741.0,746.4 1741.6,746.8 1742.2,747.0 1742.8,747.1 1743.3,747.3 1743.9,747.4 1744.5,747.6 1745.1,747.8 1745.7,747.9 1746.3,748.1 1746.9,748.3 1747.5,748.4 1748.1,748.6 1748.7,748.8 1749.2,748.9 1749.8,749.1 1750.4,749.2 1751.0,749.4 1751.6,749.6 1752.2,749.7 1752.8,749.9 1753.4,750.1 1754.0,750.2 1754.6,750.4 1755.1,750.6 1755.7,750.7 1756.3,750.9 1756.9,751.0 1757.5,751.2 1758.1,751.4 1758.7,751.5 1759.3,751.7 1759.9,751.9 1760.4,752.0 1761.0,752.2 1761.6,752.3 1762.2,752.5 1762.8,752.7 1763.4,753.1 1764.0,753.4 1764.6,753.8 1765.2,754.1 1765.8,754.5 1766.3,754.8 1766.9,755.2 1767.5,755.5 1768.1,755.9 1768.7,756.2 1769.3,756.6 1769.9,756.9 1770.5,757.3 1771.1,757.6 1771.6,758.0 1772.2,758.3 1772.8,758.7 1773.4,759.0 1774.0,759.4 1774.6,759.7 1775.2,760.1 1775.8,760.4 1776.4,760.7 1777.0,761.1 1777.5,761.4 1778.1,761.8 1778.7,762.1 1779.3,762.5 1779.9,762.8 1780.5,763.2 1781.1,763.5 1781.7,763.9 1782.3,764.3 1782.9,764.8 1783.4,765.2 1784.0,765.7 1784.6,766.2 1785.2,766.7 1785.8,767.2 1786.4,767.7 1787.0,768.2 1787.6,768.7 1788.2,769.2 1788.7,769.7 1789.3,770.2 1789.9,770.7 1790.5,771.1 1791.1,771.6 1791.7,772.1 1792.3,772.6 1792.9,773.1 1793.5,773.6 1794.1,774.0 1794.6,774.2 1795.2,774.5 1795.8,774.7 1796.4,774.9 1797.0,775.1 1797.6,775.4 1798.2,775.6 1798.8,775.8 1799.4,776.0 1800.0,776.3 1800.5,776.5 1801.1,776.7 1801.7,776.9 1802.3,777.2 1802.9,777.4 1803.5,777.6 1804.1,777.8 1804.7,778.1 1805.3,778.3 1805.8,778.5 1806.4,778.7 1807.0,779.0 1807.6,779.2 1808.2,779.4 1808.8,779.6 1809.4,779.9 1810.0,780.1 1810.6,780.4 1811.2,780.7 1811.7,781.0 1812.3,781.3 1812.9,781.6 1813.5,781.9 1814.1,782.2 1814.7,782.5 1815.3,782.8 1815.9,783.1 1816.5,783.3 1817.0,783.6 1817.6,783.9 1818.2,784.2 1818.8,784.5 1819.4,784.8 1820.0,785.1 1820.6,785.4 1821.2,785.7 1821.8,786.0 1822.4,786.2 1822.9,786.5 1823.5,786.8 1824.1,787.1 1824.7,787.4 1825.3,787.7 1825.9,788.1 1826.5,788.5 1827.1,788.8 1827.7,789.2 1828.3,789.5 1828.8,789.9 1829.4,790.2 1830.0,790.6 1830.6,791.0 1831.2,791.3 1831.8,791.7 1832.4,792.0 1833.0,792.4 1833.6,792.8 1834.1,793.1 1834.7,793.5 1835.3,793.8 1835.9,794.2 1836.5,794.5 1837.1,794.9 1837.7,795.3 1838.3,795.6 1838.9,796.0 1839.5,796.3 1840.0,796.7 1840.6,797.1 1841.2,797.4 1841.8,797.8 1842.4,798.1 1843.0,798.5 1843.6,798.8 1844.2,799.2 1844.8,799.7 1845.3,800.5 1845.9,801.4 1846.5,802.2 1847.1,803.0 1847.7,803.8 1848.3,804.7 1848.9,805.5 1849.5,806.3 1850.1,807.1 1850.7,807.9 1851.2,808.8 1851.8,809.6 1852.4,810.4 1853.0,811.2 1853.6,812.0 1854.2,812.9 1854.8,813.2 1855.4,813.4 1856.0,813.6 1856.6,813.8 1857.1,814.0 1857.7,814.2 1858.3,814.4 1858.9,814.6 1859.5,814.8 1860.1,815.0 1860.7,815.2 1861.3,815.4 1861.9,815.6 1862.4,815.8 1863.0,816.0 1863.6,816.2 1864.2,816.4 1864.8,816.6 1865.4,816.8 1866.0,817.0 1866.6,817.2 1867.2,817.4 1867.8,817.6 1868.3,817.8 1868.9,818.0 1869.5,818.2 1870.1,818.4 1870.7,818.6 1871.3,818.8 1871.9,819.0 1872.5,819.4 1873.1,819.8 1873.7,820.2 1874.2,820.6 1874.8,821.0 1875.4,821.4 1876.0,821.8 1876.6,822.2 1877.2,822.6 1877.8,823.0 1878.4,823.4 1879.0,823.8 1879.5,824.2 1880.1,824.6 1880.7,825.0 1881.3,825.4 1881.9,825.8 1882.5,826.2 1883.1,826.6 1883.7,827.0 1884.3,827.4 1884.9,827.8 1885.4,828.2 1886.0,828.6 1886.6,829.0 1887.2,829.4 1887.8,829.8 1888.4,830.2 1889.0,830.6 1889.6,831.0 1890.2,832.0 1890.7,833.1 1891.3,834.1 1891.9,835.1 1892.5,836.1 1893.1,837.1 1893.7,838.1 1894.3,839.1 1894.9,840.1 1895.5,841.1 1896.1,842.1 1896.6,843.1 1897.2,844.1 1897.8,844.5 1898.4,844.8 1899.0,845.1 1899.6,845.5 1900.2,845.8 1900.8,846.1 1901.4,846.4 1902.0,846.8 1902.5,847.1 1903.1,847.4 1903.7,847.7 1904.3,848.1 1904.9,848.4 1905.5,848.7 1906.1,849.1 1906.7,849.4 1907.3,849.7 1907.8,850.0 1908.4,850.4 1909.0,850.7 1909.6,851.0 1910.2,851.4 1910.8,851.7 1911.4,852.0 1912.0,852.3 1912.6,852.7 1913.2,853.0 1913.7,853.3 1914.3,853.7 1914.9,854.0 1915.5,854.8 1916.1,855.6 1916.7,856.5 1917.3,857.3 1917.9,858.1 1918.5,858.9 1919.0,859.7 1919.6,860.5 1920.2,861.4 1920.8,862.2 1921.4,863.0 1922.0,863.8 1922.6,864.6 1923.2,865.5 1923.8,866.3 1924.4,867.1 1924.9,867.9 1925.5,868.7 1926.1,869.5 1926.7,870.4 1927.3,871.2 1927.9,872.0 1928.5,872.8 1929.1,873.6 1929.7,874.4 1930.3,875.3 1930.8,875.9 1931.4,876.3 1932.0,876.7 1932.6,877.1 1933.2,877.5 1933.8,877.9 1934.4,878.3 1935.0,878.7 1935.6,879.2 1936.1,879.6 1936.7,880.0 1937.3,880.4 1937.9,880.8 1938.5,881.2 1939.1,881.6 1939.7,882.0 1940.3,882.5 1940.9,882.9 1941.5,883.3 1942.0,883.7 1942.6,884.1 1943.2,884.5 1943.8,884.9 1944.4,885.3 1945.0,885.8 1945.6,886.2 1946.2,886.6 1946.8,887.0 1947.4,887.4 1947.9,887.8 1948.5,888.2 1949.1,888.6 1949.7,889.1 1950.3,889.4 1950.9,889.7 1951.5,890.0 1952.1,890.3 1952.7,890.6 1953.2,890.9 1953.8,891.2 1954.4,891.5 1955.0,891.8 1955.6,892.1 1956.2,892.4 1956.8,892.7 1957.4,893.0 1958.0,893.3 1958.6,893.6 1959.1,893.9 1959.7,894.2 1960.3,894.5 1960.9,894.8 1961.5,895.1" fill="none" stroke="none" marker-start="url(#msff0000)" marker-mid="url(#msff0000)" marker-end="url(#msff0000)"/>
<rect x="1622.10" y="530.20" width="358.50" height="383.20" fill="none" stroke="#262626" stroke-width="1.1"/>
<line x1="1617.10" y1="897.30" x2="1622.10" y2="897.30" stroke="#333" stroke-width="1.1"/>
<text x="1612.70" y="906.70" font-size="24" text-anchor="end">0.0</text>
<line x1="1617.10" y1="827.40" x2="1622.10" y2="827.40" stroke="#333" stroke-width="1.1"/>
<text x="1612.70" y="836.80" font-size="24" text-anchor="end">0.2</text>
<line x1="1617.10" y1="757.50" x2="1622.10" y2="757.50" stroke="#333" stroke-width="1.1"/>
<text x="1612.70" y="766.90" font-size="24" text-anchor="end">0.4</text>
<line x1="1617.10" y1="687.60" x2="1622.10" y2="687.60" stroke="#333" stroke-width="1.1"/>
<text x="1612.70" y="697.00" font-size="24" text-anchor="end">0.6</text>
<line x1="1617.10" y1="617.70" x2="1622.10" y2="617.70" stroke="#333" stroke-width="1.1"/>
<text x="1612.70" y="627.10" font-size="24" text-anchor="end">0.8</text>
<line x1="1617.10" y1="547.80" x2="1622.10" y2="547.80" stroke="#333" stroke-width="1.1"/>
<text x="1612.70" y="557.20" font-size="24" text-anchor="end">1.0</text>
<line x1="1638.40" y1="913.40" x2="1638.40" y2="918.40" stroke="#333" stroke-width="1.1"/>
<text x="1638.40" y="941.30" font-size="24" text-anchor="middle">0</text>
<line x1="1712.10" y1="913.40" x2="1712.10" y2="918.40" stroke="#333" stroke-width="1.1"/>
<text x="1712.10" y="941.30" font-size="24" text-anchor="middle">250</text>
<line x1="1785.80" y1="913.40" x2="1785.80" y2="918.40" stroke="#333" stroke-width="1.1"/>
<text x="1785.80" y="941.30" font-size="24" text-anchor="middle">500</text>
<line x1="1859.50" y1="913.40" x2="1859.50" y2="918.40" stroke="#333" stroke-width="1.1"/>
<text x="1859.50" y="941.30" font-size="24" text-anchor="middle">750</text>
<line x1="1933.20" y1="913.40" x2="1933.20" y2="918.40" stroke="#333" stroke-width="1.1"/>
<text x="1933.20" y="941.30" font-size="24" text-anchor="middle">1000</text>
<text x="1801.35" y="971.70" font-size="28" text-anchor="middle"><tspan font-style="italic">Rank</tspan>(<tspan font-style="italic">i</tspan>)</text>
<text x="1562.80" y="721.80" font-size="28" text-anchor="middle" transform="rotate(-90 1562.80 721.80)"><tspan font-style="italic">R</tspan><tspan font-size="0.7em" dy="0.2em" font-style="italic">w</tspan><tspan dy="-0.2em">(<tspan font-style="italic">i</tspan>)</tspan></text>
<text x="1546.40" y="530.50" font-size="28" text-anchor="start" font-weight="bold">h</text>
<rect x="1773.00" y="543.90" width="189.70" height="107.10" fill="#fff"/>
<clipPath id="ci1773"><rect x="1773.00" y="543.90" width="189.70" height="107.10"/></clipPath>
<g clip-path="url(#ci1773)">
<polyline points="1826.8,629.7 1927.5,583.8 1814.3,631.8 1821.0,628.6 1907.9,583.7 1819.1,628.3 1832.9,628.4 1886.4,594.0 1785.1,645.8 1931.3,577.0 1920.8,581.8 1909.7,589.8 1944.6,572.4 1927.7,582.1 1865.7,604.9 1855.9,615.7 1844.8,619.3 1802.6,634.7 1922.5,580.9 1900.5,599.6 1877.2,600.7 1898.1,590.5 1858.3,607.5 1871.8,599.8 1825.8,631.8 1850.1,611.4 1804.9,636.5 1822.8,629.3 1815.8,632.1 1893.7,590.4 1945.4,575.8 1941.8,570.9 1790.0,640.0 1925.6,577.9 1891.7,591.0 1930.8,576.5 1933.8,576.5 1928.3,581.5 1846.6,615.2 1948.4,573.6 1885.6,598.4 1887.9,599.5 1881.7,602.7 1906.8,587.3 1840.9,619.3 1899.3,584.9 1801.8,636.0 1892.4,591.1 1877.5,601.8 1857.6,609.5 1841.1,618.0 1952.9,571.6 1803.3,635.8 1884.5,594.9 1795.8,641.8 1925.0,581.2 1783.6,647.0 1948.1,569.9 1870.8,609.3 1833.2,623.3 1788.0,647.0 1908.6,585.7 1826.7,630.2 1826.7,632.7 1883.0,600.8 1831.6,623.5 1817.4,631.4 1850.5,611.7 1797.4,638.4 1783.3,647.0 1914.7,583.5 1877.3,595.9 1839.4,620.2 1806.0,631.8 1930.0,575.5 1819.9,627.3 1834.4,623.6 1804.5,634.4 1844.2,624.7 1951.5,570.0 1790.0,644.0 1919.8,583.9 1837.7,618.3 1804.0,636.9 1783.4,646.5 1808.2,628.8 1864.3,608.6 1919.4,582.0 1819.1,631.3 1942.2,576.9 1871.3,598.4 1880.4,601.9 1888.5,590.9 1802.3,640.3 1806.0,638.8 1873.7,603.6 1833.7,621.5 1797.4,639.1 1791.5,638.0 1800.9,635.9 1904.8,579.8 1920.7,590.7 1855.0,616.5 1904.8,589.7 1832.2,624.5 1835.2,623.6 1952.6,573.6 1916.5,583.8 1859.4,607.1 1826.8,628.2 1839.3,617.9 1927.7,581.0 1928.3,586.7 1912.6,581.0 1865.2,605.7 1936.5,572.8 1874.2,600.2 1863.9,601.9 1815.1,632.3 1922.8,583.2 1813.1,629.7 1835.0,620.6 1933.7,580.1 1925.0,581.6 1819.2,630.6 1855.7,616.5 1946.3,567.8 1807.1,633.4 1925.9,580.7 1868.0,602.6 1940.6,573.7 1886.4,592.4 1824.2,629.4 1859.3,608.4 1912.3,585.9 1791.3,640.6 1902.2,595.8 1909.0,583.2 1799.7,632.3 1922.0,586.1 1924.5,583.6 1896.5,595.9 1883.4,598.7 1906.5,584.8 1884.4,592.3 1886.7,595.3 1869.9,601.7 1847.6,623.2 1921.6,586.4 1853.2,611.3 1941.8,579.1 1840.3,615.1 1897.3,583.0 1846.6,618.2 1795.9,642.0 1921.5,582.9 1916.5,581.5 1852.7,612.1 1878.9,600.1 1819.4,631.5 1807.5,634.9 1947.8,570.5 1818.1,628.9 1817.4,631.9 1948.9,571.2 1804.5,634.2 1794.0,641.8 1809.8,632.2 1785.3,645.7 1822.1,630.4 1879.1,595.1 1903.6,589.1 1902.2,584.4 1809.1,638.1 1791.8,643.9 1871.5,606.3 1916.0,582.5 1855.4,604.1 1854.6,610.6 1881.4,595.6 1877.1,597.7 1904.7,587.5 1799.1,638.4 1929.0,580.8 1947.3,572.6 1820.1,625.7 1834.7,620.7 1800.4,635.3 1902.8,590.9 1903.8,587.8 1822.4,630.7 1782.9,644.8 1934.0,576.0 1918.8,583.2 1922.3,585.6 1806.4,633.4 1782.8,647.0 1808.4,633.9 1937.2,572.9 1910.9,585.0 1910.0,582.2 1878.8,595.6 1890.1,587.2 1884.9,600.9 1914.0,587.8 1922.1,583.0 1888.3,596.8 1917.4,583.7 1840.7,622.0 1877.4,599.0 1851.0,609.4 1877.9,605.6 1916.2,587.1 1910.7,584.2 1905.9,586.4 1877.8,609.8 1877.3,599.4 1856.8,606.5 1867.7,603.0 1842.3,618.3 1908.9,590.3 1809.9,632.0 1914.2,587.5 1792.3,640.1 1851.4,609.9 1878.9,607.0 1854.8,603.9 1858.8,606.9 1906.2,588.1 1931.9,579.7 1805.2,633.6 1948.0,572.6 1882.7,608.7 1870.0,599.7 1869.4,595.9 1891.7,590.5 1823.5,627.3 1942.2,571.6 1931.2,579.1 1924.1,582.0 1817.1,631.5 1947.1,575.4 1807.8,632.8 1785.5,647.0 1879.1,601.9 1946.7,568.9 1896.3,595.7 1825.0,628.7 1862.4,601.4 1793.8,638.0 1872.5,599.7 1792.3,638.6 1787.3,647.0 1934.2,579.6 1898.2,585.6 1889.9,594.9 1891.2,592.7 1823.6,628.0 1871.9,600.8 1880.2,606.5 1795.8,640.0 1811.5,635.7 1888.1,596.2 1859.6,604.3 1910.8,583.2 1822.7,627.8 1897.1,587.5 1905.4,588.1 1861.8,606.3 1874.4,598.1 1920.3,583.5 1916.0,584.3 1881.6,602.1 1857.8,607.5 1900.7,587.5 1932.6,576.3 1858.0,600.4 1801.3,634.2 1844.9,620.5 1936.0,578.4 1812.6,637.0 1862.4,610.6 1904.6,590.3 1946.1,571.9 1840.6,619.0 1934.1,579.2 1913.0,581.7 1884.2,605.4 1944.8,571.1 1795.3,637.1 1882.1,600.4 1921.2,585.2 1853.8,610.1 1881.3,596.5 1848.2,610.3 1948.9,571.6 1863.2,608.2 1794.7,642.5 1887.1,596.6 1887.9,594.3 1897.9,577.5 1786.1,644.6 1810.9,635.0 1909.3,581.7 1909.4,590.5 1805.4,632.2 1946.6,571.3 1910.8,584.8 1914.0,585.5 1930.5,580.4 1870.5,602.3 1951.4,570.7 1792.1,641.2 1935.1,574.1 1924.4,580.1 1784.6,647.0 1908.6,583.5 1948.2,566.8 1793.9,640.8 1800.4,638.7 1931.9,580.0 1878.2,599.0 1793.6,643.9 1930.1,577.3 1803.5,634.2 1817.8,631.6 1839.6,618.9 1894.5,589.4 1850.7,610.7 1803.7,632.3 1898.9,582.7 1854.6,611.8 1850.6,615.7 1813.0,630.4 1833.2,624.9 1794.2,643.0 1807.4,632.7 1924.3,584.0 1887.9,599.5 1881.5,602.2 1853.4,621.9 1800.9,637.2 1819.1,625.9 1921.3,586.5 1929.4,576.2 1803.8,632.6 1927.3,582.8 1871.3,599.5 1817.7,635.4 1859.2,611.9 1857.5,611.1 1831.2,624.1 1925.6,579.0 1831.6,625.5 1840.1,617.7 1813.8,633.6 1836.4,620.4 1822.2,628.9 1893.8,588.6 1832.6,625.1 1882.8,596.9 1880.5,599.2 1861.9,609.7 1786.0,643.0 1826.9,627.4 1794.5,638.6 1921.8,580.6 1811.9,632.4 1817.3,630.7 1947.4,578.8 1839.1,622.3 1796.3,639.9 1854.8,614.0 1916.6,585.8 1858.8,611.1 1879.9,590.6 1826.2,626.1 1885.5,600.8 1862.5,602.1 1858.1,614.5 1844.9,614.4 1885.4,606.3 1931.6,580.7 1836.7,621.9 1828.5,623.9 1876.9,592.5 1796.8,638.2 1920.2,581.0 1928.7,579.6 1855.5,613.9 1944.3,575.7 1791.2,639.8 1864.5,615.4 1946.6,572.8 1911.0,587.7 1938.9,570.0 1795.6,642.4 1834.7,621.4 1823.7,628.8 1877.1,603.7 1786.0,647.0 1783.2,645.1 1801.0,632.1 1868.9,609.2 1832.9,625.3 1881.7,592.2 1858.8,609.3 1849.0,615.4 1932.5,575.3 1916.1,585.8 1933.6,578.5 1800.4,637.1 1897.1,591.9 1789.8,640.4 1944.3,573.6 1888.8,589.5 1843.3,615.3 1838.4,617.2 1795.7,639.2 1935.9,575.3 1817.2,628.1 1945.9,574.4 1862.7,606.6 1888.6,594.0 1901.2,591.3 1799.4,642.4 1892.7,595.6 1825.4,634.3 1941.5,570.2 1838.6,619.6 1871.1,600.7 1842.1,613.7 1861.7,609.7 1811.4,631.8 1862.4,598.1 1808.2,634.0 1890.8,591.7 1952.5,569.9 1840.4,614.2 1882.8,595.3 1869.8,598.1 1844.7,617.5 1818.2,634.4 1868.5,607.2 1849.3,613.4 1951.8,567.0 1882.5,599.9 1809.5,635.5 1792.3,645.6 1900.4,593.9 1897.4,585.8 1855.8,613.6 1827.0,626.3 1872.0,608.3 1915.6,583.7 1820.1,630.6 1862.4,607.5 1858.2,612.1 1895.8,591.8 1792.9,637.6 1853.0,617.2 1869.8,609.9 1896.1,593.1 1859.6,613.6 1836.7,617.8 1914.9,580.8 1893.7,591.6 1812.8,634.5 1873.4,608.2 1931.6,577.5 1849.6,618.1 1933.3,574.6 1879.2,607.8 1939.7,576.8 1790.3,641.6 1876.7,601.1 1867.9,600.7 1790.2,642.9 1946.2,575.3 1855.4,608.9 1829.9,623.1 1819.5,629.8 1867.8,591.2 1835.2,622.7 1839.7,616.9 1813.2,629.9 1804.2,632.2 1934.4,578.3 1819.2,629.0 1900.6,582.0 1813.0,635.5 1867.8,604.0 1836.2,622.9 1799.4,637.1 1792.7,640.3 1897.7,591.4 1802.2,635.4 1920.1,583.9 1873.3,594.1 1784.7,647.0 1791.3,642.1 1930.2,578.2 1807.2,636.7 1902.4,596.5 1952.5,573.2 1948.7,574.2 1819.6,632.8 1875.6,602.7 1833.4,616.3 1901.8,590.4 1867.4,593.9 1790.9,644.1 1933.6,576.3 1825.8,627.9 1845.9,626.1 1808.1,633.2 1893.0,594.7 1952.6,571.7 1938.9,577.2 1859.5,600.7 1897.5,582.9 1844.2,618.9 1791.6,645.1 1829.1,626.0 1881.0,596.0 1864.8,605.2 1864.9,606.4 1830.5,627.5 1907.6,586.2 1888.8,593.3 1842.3,627.4 1948.3,575.8 1917.6,579.6 1844.0,617.6 1941.8,572.2 1868.9,601.3 1803.7,637.6 1818.2,632.7 1909.5,583.0 1829.4,625.1 1942.6,571.8 1904.3,584.6 1834.3,622.5 1795.5,640.7 1784.8,647.0 1874.0,603.5 1863.2,604.1 1807.6,635.1 1825.0,626.5 1801.9,640.0 1782.8,640.4 1829.7,626.8 1873.4,596.8 1812.0,631.8 1899.1,584.3 1838.7,617.3 1864.9,600.3 1948.9,573.2 1905.6,586.0 1922.1,581.3 1915.2,581.7 1833.4,620.2 1879.4,592.1 1812.4,636.0 1806.9,634.5 1947.3,569.1 1894.1,590.8 1863.7,614.3 1846.8,612.8 1933.5,580.5 1952.8,573.9 1804.6,634.3 1882.4,600.5 1869.0,599.8 1906.9,587.2 1893.7,596.2 1889.7,589.2 1927.4,582.4 1823.7,629.0 1921.5,583.5 1785.1,647.0 1810.4,634.4 1909.4,583.1 1796.6,636.2 1818.1,633.4 1895.0,587.1 1844.0,615.6 1815.5,632.0 1849.7,618.1 1934.0,579.3 1842.3,621.8 1809.9,636.2 1845.4,621.0 1872.9,600.0 1806.2,633.7 1797.4,636.5 1914.2,581.4 1820.1,632.7 1882.9,595.7 1826.0,628.1 1884.6,603.0 1810.0,634.7 1868.3,603.9 1845.6,624.3 1859.2,607.4 1885.6,598.8 1800.0,635.8 1794.8,643.6 1790.0,640.8 1881.8,600.5 1881.6,600.7 1906.2,585.4 1839.7,623.3 1942.7,571.3 1831.4,627.3 1859.4,601.6 1935.0,577.0 1831.3,624.7 1935.9,581.8 1922.8,586.0 1898.8,585.6 1786.1,642.7 1839.7,618.2 1809.2,627.7 1841.5,615.5 1901.4,586.7 1851.5,620.5 1901.3,587.3 1818.8,630.7 1883.0,605.5 1868.2,598.6 1792.9,642.8 1925.9,582.3 1914.5,586.2 1941.6,573.7 1923.8,585.1 1796.4,636.8 1871.1,601.2 1892.3,595.9 1846.2,619.4 1907.8,587.4 1881.1,600.4 1860.8,605.6 1950.7,575.6 1913.0,588.5 1832.6,624.6 1877.1,598.4 1855.1,610.5 1856.1,610.5 1899.2,590.3 1801.8,635.1 1892.7,593.0 1910.4,587.2 1844.3,617.2 1935.0,579.5 1945.6,571.9 1865.2,602.9 1924.2,585.2 1889.0,593.5 1829.7,625.0 1820.3,632.3 1845.0,618.1 1786.0,642.2 1818.2,631.0 1895.7,588.0 1943.6,572.4 1896.4,591.0 1906.5,585.1 1823.8,630.1 1890.1,591.5 1824.1,624.5 1873.0,599.2 1804.2,629.9 1869.6,599.4 1876.4,600.1 1800.8,637.0 1817.9,631.2 1878.6,602.3 1918.0,586.9 1789.8,640.8 1864.9,610.1 1849.6,608.4 1895.4,582.0 1921.3,586.7 1903.1,584.2 1786.1,645.6 1919.9,585.0 1944.5,571.2 1850.9,606.0 1783.1,642.7 1791.5,642.4 1905.7,587.7 1783.2,647.0 1889.6,590.8 1909.6,586.2 1928.3,581.4 1791.8,642.5 1913.9,584.4 1863.2,616.0 1824.0,626.9 1894.2,591.9 1914.1,585.6 1840.8,619.4 1839.8,623.3 1850.0,614.7 1879.3,598.9 1906.4,583.5 1876.1,602.2 1891.8,592.8 1945.9,576.4 1926.3,578.4 1876.0,602.1 1811.3,635.8 1843.3,617.2 1941.8,570.1 1833.6,626.8 1881.7,596.4 1882.5,602.4 1815.4,628.6 1859.4,610.3 1929.2,579.9 1852.5,606.3 1935.7,582.0 1922.8,582.8 1801.7,638.6 1808.6,635.1 1932.1,575.2 1865.9,615.7 1807.2,636.7 1828.8,630.9 1912.2,587.4 1950.4,571.7 1901.8,579.4 1924.1,583.0 1818.8,630.6 1913.6,585.9 1900.1,592.1 1946.9,570.6 1899.3,590.8 1916.0,578.2 1834.2,625.2 1858.2,606.8 1925.6,585.7 1835.0,618.6 1843.2,619.0 1801.3,632.2 1809.5,631.9 1808.8,637.4 1854.8,602.5 1932.3,576.1 1789.4,642.8 1950.4,573.8 1808.7,631.6 1877.3,601.9 1876.3,599.8 1916.1,586.5 1919.1,584.1 1859.4,609.4 1820.2,627.6 1933.2,577.4 1853.9,611.2 1904.9,584.8 1799.8,640.2 1945.5,572.3 1925.0,579.6 1855.7,608.3 1915.0,581.5 1832.3,622.2 1886.0,599.5 1928.2,578.8 1925.8,582.8 1818.6,628.8 1842.3,619.4 1939.4,573.5 1858.6,608.8 1810.1,631.3 1863.5,613.0 1837.9,618.3 1819.3,628.6 1809.9,629.9 1808.6,630.9 1839.2,618.1 1909.8,588.6 1824.2,625.4 1847.4,613.0 1920.4,588.4 1898.6,592.4 1940.8,573.4 1839.7,622.5 1875.6,597.6 1937.4,577.4 1910.0,581.4 1806.0,631.1 1941.3,575.5 1872.2,598.3 1936.0,578.0 1919.3,582.0 1810.4,628.2 1869.5,605.9 1831.1,623.1 1834.6,623.1 1870.7,607.3 1808.1,631.7 1852.1,606.1 1879.4,598.3 1826.8,628.8 1926.7,582.5 1808.6,637.7 1855.9,603.0 1904.1,591.8 1947.9,574.4 1941.8,570.3 1810.5,634.7 1872.0,604.9 1932.7,578.8 1869.9,602.2 1882.7,600.1 1833.4,619.4 1864.1,606.8 1936.0,576.1 1889.3,597.3 1913.5,579.4 1884.3,605.1 1820.8,630.0 1860.5,606.2 1884.9,597.9 1872.8,598.5 1908.9,588.5 1897.0,594.7 1812.6,630.0 1948.1,574.3 1898.1,591.3 1858.0,610.9 1947.4,569.2 1883.1,595.3 1946.2,574.3 1940.9,573.5 1937.6,576.1 1879.0,608.0 1881.7,597.1 1924.4,583.4 1942.6,573.9 1820.1,632.0 1794.5,640.4 1867.1,606.1 1924.9,581.1 1878.6,602.3 1841.9,619.3 1908.9,587.5 1840.0,620.7 1936.9,577.1 1897.4,588.3 1891.8,594.2 1860.8,610.9 1841.8,613.0 1892.2,591.6 1867.9,600.8 1900.6,589.4 1922.4,583.3 1948.1,573.8 1814.0,628.8 1832.9,623.4 1839.9,616.6 1788.8,639.8 1837.4,619.7 1902.1,587.1 1890.6,598.2 1810.5,630.4 1924.3,579.9 1789.0,646.5 1838.3,616.6 1785.1,639.8 1913.6,579.4 1821.3,631.8 1932.2,576.0 1910.0,583.6 1858.0,608.1 1849.2,607.3 1926.8,580.3 1923.0,583.7 1818.9,628.9 1943.8,565.9 1880.5,595.0 1825.7,630.7 1870.1,604.2 1838.6,621.1 1912.7,585.5 1805.6,635.3 1949.0,568.6 1908.9,582.0 1832.4,624.8 1804.5,632.4 1814.9,628.9 1925.7,581.5 1918.5,582.8 1921.1,579.4 1796.7,640.5 1877.7,597.0 1878.1,609.5 1949.5,570.7 1869.8,590.6 1865.5,592.4 1862.0,596.3 1871.9,592.2 1866.6,594.9 1869.5,598.6 1869.1,593.5 1879.3,587.6 1873.9,594.2 1873.9,597.0 1867.9,592.2 1867.1,601.7 1862.1,604.5 1874.3,599.0 1876.1,593.7 1870.5,596.4 1874.8,590.8 1873.1,593.5 1866.1,596.3 1869.3,595.3 1878.9,591.5 1876.1,593.4 1869.0,591.1 1865.6,594.0 1874.4,596.8 1864.4,593.4 1877.7,593.1 1864.6,601.2 1871.5,597.8 1862.1,597.1 1877.4,597.7 1878.2,597.9 1864.9,601.9 1869.7,597.6 1870.0,598.5 1870.5,592.4 1867.8,599.5 1874.1,591.3 1874.8,587.6 1867.6,595.1 1954.5,563.0 1953.8,562.4 1953.4,562.4 1955.7,557.5 1956.3,550.5 1953.0,567.4 1954.2,550.2 1951.9,564.0 1954.0,571.2 1956.2,551.7 1953.0,553.3 1952.4,570.8 1954.9,565.1 1953.3,552.6 1955.5,557.2 1956.2,565.4 1956.1,552.6 1954.4,567.0 1953.8,553.6 1956.5,565.5 1954.9,550.3 1956.6,569.3 1953.9,569.0 1955.6,553.8 1956.6,562.9 1955.3,573.0 1952.4,561.7 1954.3,560.6 1954.4,559.1 1955.0,572.5 1955.8,572.6 1951.2,558.3 1951.2,554.5 1953.3,559.6 1956.4,556.8 1955.6,568.3 1953.6,563.7 1952.4,562.2 1953.2,563.9 1951.3,560.6 1953.3,567.4 1956.1,556.0 1952.5,551.2 1955.8,572.1 1951.6,571.7 1956.4,555.0 1954.3,557.3 1956.8,560.4 1951.4,568.4 1952.6,557.9 1952.7,557.2 1951.5,554.1 1951.9,569.4 1955.5,573.3 1951.8,558.2 1956.1,573.6 1952.0,557.9 1952.9,553.3 1953.0,566.6 1955.0,572.9 1879.4,587.5 1889.9,589.5 1895.2,585.6 1855.9,622.2 1861.1,625.2 1889.9,607.4" fill="none" stroke="none" marker-start="url(#mring)" marker-mid="url(#mring)" marker-end="url(#mring)"/>
</g>
<rect x="1773.00" y="543.90" width="189.70" height="107.10" fill="none" stroke="#111" stroke-width="1.1"/>
<line x1="1768.00" y1="647.00" x2="1773.00" y2="647.00" stroke="#333" stroke-width="1.1"/>
<text x="1763.60" y="655.03" font-size="22" text-anchor="end">0</text>
<line x1="1768.00" y1="547.90" x2="1773.00" y2="547.90" stroke="#333" stroke-width="1.1"/>
<text x="1763.60" y="555.93" font-size="22" text-anchor="end">1</text>
<line x1="1782.60" y1="651.00" x2="1782.60" y2="656.00" stroke="#333" stroke-width="1.1"/>
<text x="1782.60" y="677.00" font-size="22" text-anchor="middle">0</text>
<line x1="1887.30" y1="651.00" x2="1887.30" y2="656.00" stroke="#333" stroke-width="1.1"/>
<text x="1887.30" y="677.00" font-size="22" text-anchor="middle">200</text>
<text x="1735.10" y="597.45" font-size="25" text-anchor="middle" transform="rotate(-90 1735.10 597.45)"><tspan font-style="italic">R</tspan><tspan font-size="0.7em" dy="0.2em" font-style="italic">w</tspan><tspan dy="-0.2em">(<tspan font-style="italic">i</tspan>)</tspan></text>
<text x="1867.85" y="705.00" font-size="25" text-anchor="middle"><tspan font-style="italic">S</tspan>(<tspan font-style="italic">i</tspan>)</text>
<text x="21.2" y="217.7" font-size="28" font-weight="bold" text-anchor="middle" transform="rotate(-90 21.2 217.7)">email-EU</text>
<text x="21.0" y="714.2" font-size="28" font-weight="bold" text-anchor="middle" transform="rotate(-90 21.0 714.2)">music-review</text>
</svg>
</body></html>
